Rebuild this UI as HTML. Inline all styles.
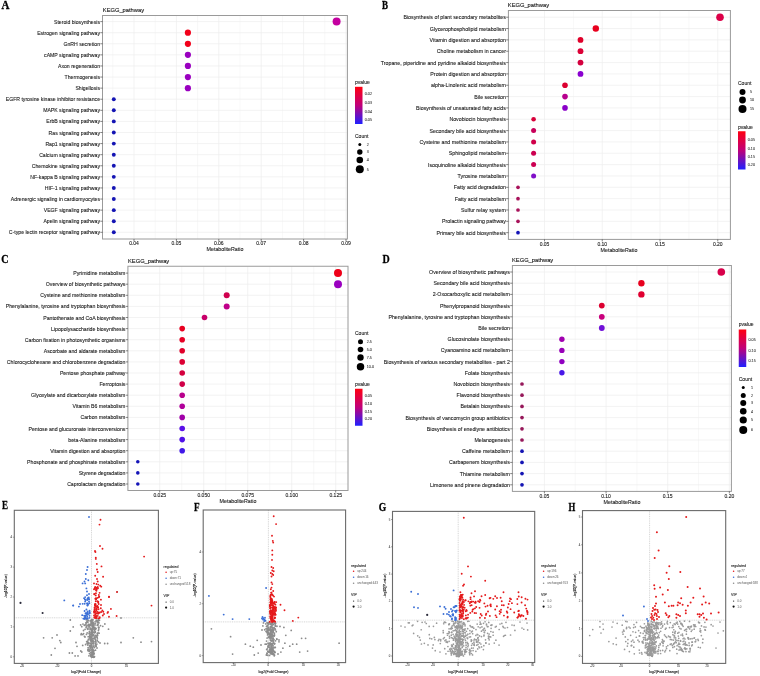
<!DOCTYPE html>
<html><head><meta charset="utf-8"><style>
html,body{margin:0;padding:0;background:#fff;width:760px;height:676px;overflow:hidden}
svg{display:block;font-family:"Liberation Sans", sans-serif;will-change:transform}
</style></head><body>
<svg width="760" height="676" viewBox="0 0 760 676">
<rect width="760" height="676" fill="#fff"/>
<line x1="134.00" y1="15.50" x2="134.00" y2="239.00" stroke="#eeeeee" stroke-width="0.7" />
<line x1="176.40" y1="15.50" x2="176.40" y2="239.00" stroke="#eeeeee" stroke-width="0.7" />
<line x1="218.80" y1="15.50" x2="218.80" y2="239.00" stroke="#eeeeee" stroke-width="0.7" />
<line x1="261.20" y1="15.50" x2="261.20" y2="239.00" stroke="#eeeeee" stroke-width="0.7" />
<line x1="303.60" y1="15.50" x2="303.60" y2="239.00" stroke="#eeeeee" stroke-width="0.7" />
<line x1="346.00" y1="15.50" x2="346.00" y2="239.00" stroke="#eeeeee" stroke-width="0.7" />
<line x1="112.80" y1="15.50" x2="112.80" y2="239.00" stroke="#f0f0f0" stroke-width="0.5" />
<line x1="155.20" y1="15.50" x2="155.20" y2="239.00" stroke="#f0f0f0" stroke-width="0.5" />
<line x1="197.60" y1="15.50" x2="197.60" y2="239.00" stroke="#f0f0f0" stroke-width="0.5" />
<line x1="240.00" y1="15.50" x2="240.00" y2="239.00" stroke="#f0f0f0" stroke-width="0.5" />
<line x1="282.40" y1="15.50" x2="282.40" y2="239.00" stroke="#f0f0f0" stroke-width="0.5" />
<line x1="324.80" y1="15.50" x2="324.80" y2="239.00" stroke="#f0f0f0" stroke-width="0.5" />
<line x1="102.50" y1="21.60" x2="347.40" y2="21.60" stroke="#eeeeee" stroke-width="0.7" />
<line x1="102.50" y1="32.69" x2="347.40" y2="32.69" stroke="#eeeeee" stroke-width="0.7" />
<line x1="102.50" y1="43.78" x2="347.40" y2="43.78" stroke="#eeeeee" stroke-width="0.7" />
<line x1="102.50" y1="54.87" x2="347.40" y2="54.87" stroke="#eeeeee" stroke-width="0.7" />
<line x1="102.50" y1="65.96" x2="347.40" y2="65.96" stroke="#eeeeee" stroke-width="0.7" />
<line x1="102.50" y1="77.05" x2="347.40" y2="77.05" stroke="#eeeeee" stroke-width="0.7" />
<line x1="102.50" y1="88.14" x2="347.40" y2="88.14" stroke="#eeeeee" stroke-width="0.7" />
<line x1="102.50" y1="99.23" x2="347.40" y2="99.23" stroke="#eeeeee" stroke-width="0.7" />
<line x1="102.50" y1="110.32" x2="347.40" y2="110.32" stroke="#eeeeee" stroke-width="0.7" />
<line x1="102.50" y1="121.41" x2="347.40" y2="121.41" stroke="#eeeeee" stroke-width="0.7" />
<line x1="102.50" y1="132.50" x2="347.40" y2="132.50" stroke="#eeeeee" stroke-width="0.7" />
<line x1="102.50" y1="143.59" x2="347.40" y2="143.59" stroke="#eeeeee" stroke-width="0.7" />
<line x1="102.50" y1="154.68" x2="347.40" y2="154.68" stroke="#eeeeee" stroke-width="0.7" />
<line x1="102.50" y1="165.77" x2="347.40" y2="165.77" stroke="#eeeeee" stroke-width="0.7" />
<line x1="102.50" y1="176.86" x2="347.40" y2="176.86" stroke="#eeeeee" stroke-width="0.7" />
<line x1="102.50" y1="187.95" x2="347.40" y2="187.95" stroke="#eeeeee" stroke-width="0.7" />
<line x1="102.50" y1="199.04" x2="347.40" y2="199.04" stroke="#eeeeee" stroke-width="0.7" />
<line x1="102.50" y1="210.13" x2="347.40" y2="210.13" stroke="#eeeeee" stroke-width="0.7" />
<line x1="102.50" y1="221.22" x2="347.40" y2="221.22" stroke="#eeeeee" stroke-width="0.7" />
<line x1="102.50" y1="232.31" x2="347.40" y2="232.31" stroke="#eeeeee" stroke-width="0.7" />
<rect x="102.50" y="15.50" width="244.90" height="223.50" fill="none" stroke="#9a9a9a" stroke-width="1" />
<text x="100.00" y="23.60" font-size="5.15" text-anchor="end" fill="#1c1c1c" stroke="#1c1c1c" stroke-width="0.1">Steroid biosynthesis</text>
<line x1="100.30" y1="21.60" x2="102.50" y2="21.60" stroke="#333" stroke-width="0.6" />
<circle cx="336.60" cy="21.60" r="4.00" fill="#c400a0"/>
<text x="100.00" y="34.69" font-size="5.15" text-anchor="end" fill="#1c1c1c" stroke="#1c1c1c" stroke-width="0.1">Estrogen signaling pathway</text>
<line x1="100.30" y1="32.69" x2="102.50" y2="32.69" stroke="#333" stroke-width="0.6" />
<circle cx="187.90" cy="32.69" r="3.10" fill="#f2001a"/>
<text x="100.00" y="45.78" font-size="5.15" text-anchor="end" fill="#1c1c1c" stroke="#1c1c1c" stroke-width="0.1">GnRH secretion</text>
<line x1="100.30" y1="43.78" x2="102.50" y2="43.78" stroke="#333" stroke-width="0.6" />
<circle cx="187.90" cy="43.78" r="3.10" fill="#f2001a"/>
<text x="100.00" y="56.87" font-size="5.15" text-anchor="end" fill="#1c1c1c" stroke="#1c1c1c" stroke-width="0.1">cAMP signaling pathway</text>
<line x1="100.30" y1="54.87" x2="102.50" y2="54.87" stroke="#333" stroke-width="0.6" />
<circle cx="187.90" cy="54.87" r="3.10" fill="#9a00c0"/>
<text x="100.00" y="67.96" font-size="5.15" text-anchor="end" fill="#1c1c1c" stroke="#1c1c1c" stroke-width="0.1">Axon regeneration</text>
<line x1="100.30" y1="65.96" x2="102.50" y2="65.96" stroke="#333" stroke-width="0.6" />
<circle cx="187.90" cy="65.96" r="3.10" fill="#9a00c0"/>
<text x="100.00" y="79.05" font-size="5.15" text-anchor="end" fill="#1c1c1c" stroke="#1c1c1c" stroke-width="0.1">Thermogenesis</text>
<line x1="100.30" y1="77.05" x2="102.50" y2="77.05" stroke="#333" stroke-width="0.6" />
<circle cx="187.90" cy="77.05" r="3.10" fill="#9a00c0"/>
<text x="100.00" y="90.14" font-size="5.15" text-anchor="end" fill="#1c1c1c" stroke="#1c1c1c" stroke-width="0.1">Shigellosis</text>
<line x1="100.30" y1="88.14" x2="102.50" y2="88.14" stroke="#333" stroke-width="0.6" />
<circle cx="187.90" cy="88.14" r="3.10" fill="#9a00c0"/>
<text x="100.00" y="101.23" font-size="5.15" text-anchor="end" fill="#1c1c1c" stroke="#1c1c1c" stroke-width="0.1">EGFR tyrosine kinase inhibitor resistance</text>
<line x1="100.30" y1="99.23" x2="102.50" y2="99.23" stroke="#333" stroke-width="0.6" />
<circle cx="113.80" cy="99.23" r="1.95" fill="#1414b4"/>
<text x="100.00" y="112.32" font-size="5.15" text-anchor="end" fill="#1c1c1c" stroke="#1c1c1c" stroke-width="0.1">MAPK signaling pathway</text>
<line x1="100.30" y1="110.32" x2="102.50" y2="110.32" stroke="#333" stroke-width="0.6" />
<circle cx="113.80" cy="110.32" r="1.95" fill="#1414b4"/>
<text x="100.00" y="123.41" font-size="5.15" text-anchor="end" fill="#1c1c1c" stroke="#1c1c1c" stroke-width="0.1">ErbB signaling pathway</text>
<line x1="100.30" y1="121.41" x2="102.50" y2="121.41" stroke="#333" stroke-width="0.6" />
<circle cx="113.80" cy="121.41" r="1.95" fill="#1414b4"/>
<text x="100.00" y="134.50" font-size="5.15" text-anchor="end" fill="#1c1c1c" stroke="#1c1c1c" stroke-width="0.1">Ras signaling pathway</text>
<line x1="100.30" y1="132.50" x2="102.50" y2="132.50" stroke="#333" stroke-width="0.6" />
<circle cx="113.80" cy="132.50" r="1.95" fill="#1414b4"/>
<text x="100.00" y="145.59" font-size="5.15" text-anchor="end" fill="#1c1c1c" stroke="#1c1c1c" stroke-width="0.1">Rap1 signaling pathway</text>
<line x1="100.30" y1="143.59" x2="102.50" y2="143.59" stroke="#333" stroke-width="0.6" />
<circle cx="113.80" cy="143.59" r="1.95" fill="#1414b4"/>
<text x="100.00" y="156.68" font-size="5.15" text-anchor="end" fill="#1c1c1c" stroke="#1c1c1c" stroke-width="0.1">Calcium signaling pathway</text>
<line x1="100.30" y1="154.68" x2="102.50" y2="154.68" stroke="#333" stroke-width="0.6" />
<circle cx="113.80" cy="154.68" r="1.95" fill="#1414b4"/>
<text x="100.00" y="167.77" font-size="5.15" text-anchor="end" fill="#1c1c1c" stroke="#1c1c1c" stroke-width="0.1">Chemokine signaling pathway</text>
<line x1="100.30" y1="165.77" x2="102.50" y2="165.77" stroke="#333" stroke-width="0.6" />
<circle cx="113.80" cy="165.77" r="1.95" fill="#1414b4"/>
<text x="100.00" y="178.86" font-size="5.15" text-anchor="end" fill="#1c1c1c" stroke="#1c1c1c" stroke-width="0.1">NF-kappa B signaling pathway</text>
<line x1="100.30" y1="176.86" x2="102.50" y2="176.86" stroke="#333" stroke-width="0.6" />
<circle cx="113.80" cy="176.86" r="1.95" fill="#1414b4"/>
<text x="100.00" y="189.95" font-size="5.15" text-anchor="end" fill="#1c1c1c" stroke="#1c1c1c" stroke-width="0.1">HIF-1 signaling pathway</text>
<line x1="100.30" y1="187.95" x2="102.50" y2="187.95" stroke="#333" stroke-width="0.6" />
<circle cx="113.80" cy="187.95" r="1.95" fill="#1414b4"/>
<text x="100.00" y="201.04" font-size="5.15" text-anchor="end" fill="#1c1c1c" stroke="#1c1c1c" stroke-width="0.1">Adrenergic signaling in cardiomyocytes</text>
<line x1="100.30" y1="199.04" x2="102.50" y2="199.04" stroke="#333" stroke-width="0.6" />
<circle cx="113.80" cy="199.04" r="1.95" fill="#1414b4"/>
<text x="100.00" y="212.13" font-size="5.15" text-anchor="end" fill="#1c1c1c" stroke="#1c1c1c" stroke-width="0.1">VEGF signaling pathway</text>
<line x1="100.30" y1="210.13" x2="102.50" y2="210.13" stroke="#333" stroke-width="0.6" />
<circle cx="113.80" cy="210.13" r="1.95" fill="#1414b4"/>
<text x="100.00" y="223.22" font-size="5.15" text-anchor="end" fill="#1c1c1c" stroke="#1c1c1c" stroke-width="0.1">Apelin signaling pathway</text>
<line x1="100.30" y1="221.22" x2="102.50" y2="221.22" stroke="#333" stroke-width="0.6" />
<circle cx="113.80" cy="221.22" r="1.95" fill="#1414b4"/>
<text x="100.00" y="234.31" font-size="5.15" text-anchor="end" fill="#1c1c1c" stroke="#1c1c1c" stroke-width="0.1">C-type lectin receptor signaling pathway</text>
<line x1="100.30" y1="232.31" x2="102.50" y2="232.31" stroke="#333" stroke-width="0.6" />
<circle cx="113.80" cy="232.31" r="1.95" fill="#1414b4"/>
<line x1="134.00" y1="239.00" x2="134.00" y2="241.00" stroke="#333" stroke-width="0.6" />
<text x="134.00" y="244.60" font-size="5" text-anchor="middle" fill="#1a1a1a"  stroke="#1a1a1a" stroke-width="0.1">0.04</text>
<line x1="176.40" y1="239.00" x2="176.40" y2="241.00" stroke="#333" stroke-width="0.6" />
<text x="176.40" y="244.60" font-size="5" text-anchor="middle" fill="#1a1a1a"  stroke="#1a1a1a" stroke-width="0.1">0.05</text>
<line x1="218.80" y1="239.00" x2="218.80" y2="241.00" stroke="#333" stroke-width="0.6" />
<text x="218.80" y="244.60" font-size="5" text-anchor="middle" fill="#1a1a1a"  stroke="#1a1a1a" stroke-width="0.1">0.06</text>
<line x1="261.20" y1="239.00" x2="261.20" y2="241.00" stroke="#333" stroke-width="0.6" />
<text x="261.20" y="244.60" font-size="5" text-anchor="middle" fill="#1a1a1a"  stroke="#1a1a1a" stroke-width="0.1">0.07</text>
<line x1="303.60" y1="239.00" x2="303.60" y2="241.00" stroke="#333" stroke-width="0.6" />
<text x="303.60" y="244.60" font-size="5" text-anchor="middle" fill="#1a1a1a"  stroke="#1a1a1a" stroke-width="0.1">0.08</text>
<line x1="346.00" y1="239.00" x2="346.00" y2="241.00" stroke="#333" stroke-width="0.6" />
<text x="346.00" y="244.60" font-size="5" text-anchor="middle" fill="#1a1a1a"  stroke="#1a1a1a" stroke-width="0.1">0.09</text>
<text x="225.00" y="251.30" font-size="5.3" text-anchor="middle" fill="#1a1a1a"  stroke="#1a1a1a" stroke-width="0.1">MetaboliteRatio</text>
<text x="102.80" y="12.00" font-size="5.75" text-anchor="start" fill="#111"  stroke="#111" stroke-width="0.1">KEGG_pathway</text>
<text x="1.6" y="8.9" font-family="Liberation Serif, serif" font-weight="bold" font-size="11.6" fill="#000" stroke="#000" stroke-width="0.3" textLength="7.9" lengthAdjust="spacingAndGlyphs">A</text>
<text x="355.00" y="84.20" font-size="5" text-anchor="start" fill="#1a1a1a"  stroke="#1a1a1a" stroke-width="0.1">pvalue</text>
<defs><linearGradient id="g1" x1="0" y1="0" x2="0" y2="1"><stop offset="0" stop-color="#ff0010"/><stop offset="0.5" stop-color="#c0007a"/><stop offset="1" stop-color="#2020ff"/></linearGradient></defs>
<rect x="355.00" y="86.80" width="7.50" height="37.20" fill="url(#g1)" stroke="none" stroke-width="1" />
<text x="364.80" y="95.30" font-size="3.7" text-anchor="start" fill="#333"  stroke="#333" stroke-width="0.07">0.02</text>
<text x="364.80" y="104.10" font-size="3.7" text-anchor="start" fill="#333"  stroke="#333" stroke-width="0.07">0.03</text>
<text x="364.80" y="112.80" font-size="3.7" text-anchor="start" fill="#333"  stroke="#333" stroke-width="0.07">0.04</text>
<text x="364.80" y="120.60" font-size="3.7" text-anchor="start" fill="#333"  stroke="#333" stroke-width="0.07">0.05</text>
<text x="355.00" y="138.30" font-size="5" text-anchor="start" fill="#1a1a1a"  stroke="#1a1a1a" stroke-width="0.1">Count</text>
<circle cx="359.80" cy="144.50" r="1.50" fill="#000"/>
<text x="366.80" y="145.80" font-size="3.7" text-anchor="start" fill="#333"  stroke="#333" stroke-width="0.07">2</text>
<circle cx="359.80" cy="152.00" r="2.70" fill="#000"/>
<text x="366.80" y="153.30" font-size="3.7" text-anchor="start" fill="#333"  stroke="#333" stroke-width="0.07">3</text>
<circle cx="359.80" cy="160.00" r="3.30" fill="#000"/>
<text x="366.80" y="161.30" font-size="3.7" text-anchor="start" fill="#333"  stroke="#333" stroke-width="0.07">4</text>
<circle cx="359.80" cy="169.30" r="4.00" fill="#000"/>
<text x="366.80" y="170.60" font-size="3.7" text-anchor="start" fill="#333"  stroke="#333" stroke-width="0.07">5</text>
<line x1="544.50" y1="10.50" x2="544.50" y2="239.40" stroke="#eeeeee" stroke-width="0.7" />
<line x1="602.25" y1="10.50" x2="602.25" y2="239.40" stroke="#eeeeee" stroke-width="0.7" />
<line x1="660.00" y1="10.50" x2="660.00" y2="239.40" stroke="#eeeeee" stroke-width="0.7" />
<line x1="717.75" y1="10.50" x2="717.75" y2="239.40" stroke="#eeeeee" stroke-width="0.7" />
<line x1="573.38" y1="10.50" x2="573.38" y2="239.40" stroke="#f0f0f0" stroke-width="0.5" />
<line x1="631.12" y1="10.50" x2="631.12" y2="239.40" stroke="#f0f0f0" stroke-width="0.5" />
<line x1="688.88" y1="10.50" x2="688.88" y2="239.40" stroke="#f0f0f0" stroke-width="0.5" />
<line x1="508.40" y1="17.20" x2="730.40" y2="17.20" stroke="#eeeeee" stroke-width="0.7" />
<line x1="508.40" y1="28.54" x2="730.40" y2="28.54" stroke="#eeeeee" stroke-width="0.7" />
<line x1="508.40" y1="39.88" x2="730.40" y2="39.88" stroke="#eeeeee" stroke-width="0.7" />
<line x1="508.40" y1="51.22" x2="730.40" y2="51.22" stroke="#eeeeee" stroke-width="0.7" />
<line x1="508.40" y1="62.56" x2="730.40" y2="62.56" stroke="#eeeeee" stroke-width="0.7" />
<line x1="508.40" y1="73.90" x2="730.40" y2="73.90" stroke="#eeeeee" stroke-width="0.7" />
<line x1="508.40" y1="85.24" x2="730.40" y2="85.24" stroke="#eeeeee" stroke-width="0.7" />
<line x1="508.40" y1="96.58" x2="730.40" y2="96.58" stroke="#eeeeee" stroke-width="0.7" />
<line x1="508.40" y1="107.92" x2="730.40" y2="107.92" stroke="#eeeeee" stroke-width="0.7" />
<line x1="508.40" y1="119.26" x2="730.40" y2="119.26" stroke="#eeeeee" stroke-width="0.7" />
<line x1="508.40" y1="130.60" x2="730.40" y2="130.60" stroke="#eeeeee" stroke-width="0.7" />
<line x1="508.40" y1="141.94" x2="730.40" y2="141.94" stroke="#eeeeee" stroke-width="0.7" />
<line x1="508.40" y1="153.28" x2="730.40" y2="153.28" stroke="#eeeeee" stroke-width="0.7" />
<line x1="508.40" y1="164.62" x2="730.40" y2="164.62" stroke="#eeeeee" stroke-width="0.7" />
<line x1="508.40" y1="175.96" x2="730.40" y2="175.96" stroke="#eeeeee" stroke-width="0.7" />
<line x1="508.40" y1="187.30" x2="730.40" y2="187.30" stroke="#eeeeee" stroke-width="0.7" />
<line x1="508.40" y1="198.64" x2="730.40" y2="198.64" stroke="#eeeeee" stroke-width="0.7" />
<line x1="508.40" y1="209.98" x2="730.40" y2="209.98" stroke="#eeeeee" stroke-width="0.7" />
<line x1="508.40" y1="221.32" x2="730.40" y2="221.32" stroke="#eeeeee" stroke-width="0.7" />
<line x1="508.40" y1="232.66" x2="730.40" y2="232.66" stroke="#eeeeee" stroke-width="0.7" />
<rect x="508.40" y="10.50" width="222.00" height="228.90" fill="none" stroke="#9a9a9a" stroke-width="1" />
<text x="505.90" y="19.20" font-size="5.27" text-anchor="end" fill="#1c1c1c" stroke="#1c1c1c" stroke-width="0.1">Biosynthesis of plant secondary metabolites</text>
<line x1="506.20" y1="17.20" x2="508.40" y2="17.20" stroke="#333" stroke-width="0.6" />
<circle cx="720.00" cy="17.20" r="3.80" fill="#dc0048"/>
<text x="505.90" y="30.54" font-size="5.27" text-anchor="end" fill="#1c1c1c" stroke="#1c1c1c" stroke-width="0.1">Glycerophospholipid metabolism</text>
<line x1="506.20" y1="28.54" x2="508.40" y2="28.54" stroke="#333" stroke-width="0.6" />
<circle cx="595.80" cy="28.54" r="3.20" fill="#e8001e"/>
<text x="505.90" y="41.88" font-size="5.27" text-anchor="end" fill="#1c1c1c" stroke="#1c1c1c" stroke-width="0.1">Vitamin digestion and absorption</text>
<line x1="506.20" y1="39.88" x2="508.40" y2="39.88" stroke="#333" stroke-width="0.6" />
<circle cx="580.50" cy="39.88" r="2.90" fill="#e0002a"/>
<text x="505.90" y="53.22" font-size="5.27" text-anchor="end" fill="#1c1c1c" stroke="#1c1c1c" stroke-width="0.1">Choline metabolism in cancer</text>
<line x1="506.20" y1="51.22" x2="508.40" y2="51.22" stroke="#333" stroke-width="0.6" />
<circle cx="580.50" cy="51.22" r="2.90" fill="#dc0036"/>
<text x="505.90" y="64.56" font-size="5.27" text-anchor="end" fill="#1c1c1c" stroke="#1c1c1c" stroke-width="0.1">Tropane, piperidine and pyridine alkaloid biosynthesis</text>
<line x1="506.20" y1="62.56" x2="508.40" y2="62.56" stroke="#333" stroke-width="0.6" />
<circle cx="580.50" cy="62.56" r="2.90" fill="#d4003e"/>
<text x="505.90" y="75.90" font-size="5.27" text-anchor="end" fill="#1c1c1c" stroke="#1c1c1c" stroke-width="0.1">Protein digestion and absorption</text>
<line x1="506.20" y1="73.90" x2="508.40" y2="73.90" stroke="#333" stroke-width="0.6" />
<circle cx="580.50" cy="73.90" r="2.90" fill="#8a00d0"/>
<text x="505.90" y="87.24" font-size="5.27" text-anchor="end" fill="#1c1c1c" stroke="#1c1c1c" stroke-width="0.1">alpha-Linolenic acid metabolism</text>
<line x1="506.20" y1="85.24" x2="508.40" y2="85.24" stroke="#333" stroke-width="0.6" />
<circle cx="565.00" cy="85.24" r="2.80" fill="#dc0030"/>
<text x="505.90" y="98.58" font-size="5.27" text-anchor="end" fill="#1c1c1c" stroke="#1c1c1c" stroke-width="0.1">Bile secretion</text>
<line x1="506.20" y1="96.58" x2="508.40" y2="96.58" stroke="#333" stroke-width="0.6" />
<circle cx="565.00" cy="96.58" r="2.80" fill="#b8008e"/>
<text x="505.90" y="109.92" font-size="5.27" text-anchor="end" fill="#1c1c1c" stroke="#1c1c1c" stroke-width="0.1">Biosynthesis of unsaturated fatty acids</text>
<line x1="506.20" y1="107.92" x2="508.40" y2="107.92" stroke="#333" stroke-width="0.6" />
<circle cx="565.00" cy="107.92" r="2.80" fill="#8a00c8"/>
<text x="505.90" y="121.26" font-size="5.27" text-anchor="end" fill="#1c1c1c" stroke="#1c1c1c" stroke-width="0.1">Novobiocin biosynthesis</text>
<line x1="506.20" y1="119.26" x2="508.40" y2="119.26" stroke="#333" stroke-width="0.6" />
<circle cx="533.60" cy="119.26" r="2.30" fill="#d8003a"/>
<text x="505.90" y="132.60" font-size="5.27" text-anchor="end" fill="#1c1c1c" stroke="#1c1c1c" stroke-width="0.1">Secondary bile acid biosynthesis</text>
<line x1="506.20" y1="130.60" x2="508.40" y2="130.60" stroke="#333" stroke-width="0.6" />
<circle cx="533.60" cy="130.60" r="2.50" fill="#c8005a"/>
<text x="505.90" y="143.94" font-size="5.27" text-anchor="end" fill="#1c1c1c" stroke="#1c1c1c" stroke-width="0.1">Cysteine and methionine metabolism</text>
<line x1="506.20" y1="141.94" x2="508.40" y2="141.94" stroke="#333" stroke-width="0.6" />
<circle cx="533.60" cy="141.94" r="2.50" fill="#d0004a"/>
<text x="505.90" y="155.28" font-size="5.27" text-anchor="end" fill="#1c1c1c" stroke="#1c1c1c" stroke-width="0.1">Sphingolipid metabolism</text>
<line x1="506.20" y1="153.28" x2="508.40" y2="153.28" stroke="#333" stroke-width="0.6" />
<circle cx="533.60" cy="153.28" r="2.50" fill="#cc0050"/>
<text x="505.90" y="166.62" font-size="5.27" text-anchor="end" fill="#1c1c1c" stroke="#1c1c1c" stroke-width="0.1">Isoquinoline alkaloid biosynthesis</text>
<line x1="506.20" y1="164.62" x2="508.40" y2="164.62" stroke="#333" stroke-width="0.6" />
<circle cx="533.60" cy="164.62" r="2.50" fill="#cc0052"/>
<text x="505.90" y="177.96" font-size="5.27" text-anchor="end" fill="#1c1c1c" stroke="#1c1c1c" stroke-width="0.1">Tyrosine metabolism</text>
<line x1="506.20" y1="175.96" x2="508.40" y2="175.96" stroke="#333" stroke-width="0.6" />
<circle cx="533.60" cy="175.96" r="2.50" fill="#8010c8"/>
<text x="505.90" y="189.30" font-size="5.27" text-anchor="end" fill="#1c1c1c" stroke="#1c1c1c" stroke-width="0.1">Fatty acid degradation</text>
<line x1="506.20" y1="187.30" x2="508.40" y2="187.30" stroke="#333" stroke-width="0.6" />
<circle cx="518.00" cy="187.30" r="1.85" fill="#a8125a"/>
<text x="505.90" y="200.64" font-size="5.27" text-anchor="end" fill="#1c1c1c" stroke="#1c1c1c" stroke-width="0.1">Fatty acid metabolism</text>
<line x1="506.20" y1="198.64" x2="508.40" y2="198.64" stroke="#333" stroke-width="0.6" />
<circle cx="518.00" cy="198.64" r="1.85" fill="#a8125a"/>
<text x="505.90" y="211.98" font-size="5.27" text-anchor="end" fill="#1c1c1c" stroke="#1c1c1c" stroke-width="0.1">Sulfur relay system</text>
<line x1="506.20" y1="209.98" x2="508.40" y2="209.98" stroke="#333" stroke-width="0.6" />
<circle cx="518.00" cy="209.98" r="1.85" fill="#a8125a"/>
<text x="505.90" y="223.32" font-size="5.27" text-anchor="end" fill="#1c1c1c" stroke="#1c1c1c" stroke-width="0.1">Prolactin signaling pathway</text>
<line x1="506.20" y1="221.32" x2="508.40" y2="221.32" stroke="#333" stroke-width="0.6" />
<circle cx="518.00" cy="221.32" r="1.85" fill="#a8125a"/>
<text x="505.90" y="234.66" font-size="5.27" text-anchor="end" fill="#1c1c1c" stroke="#1c1c1c" stroke-width="0.1">Primary bile acid biosynthesis</text>
<line x1="506.20" y1="232.66" x2="508.40" y2="232.66" stroke="#333" stroke-width="0.6" />
<circle cx="518.00" cy="232.66" r="1.85" fill="#1414b8"/>
<line x1="544.50" y1="239.40" x2="544.50" y2="241.40" stroke="#333" stroke-width="0.6" />
<text x="544.50" y="245.60" font-size="5" text-anchor="middle" fill="#1a1a1a"  stroke="#1a1a1a" stroke-width="0.1">0.05</text>
<line x1="602.25" y1="239.40" x2="602.25" y2="241.40" stroke="#333" stroke-width="0.6" />
<text x="602.25" y="245.60" font-size="5" text-anchor="middle" fill="#1a1a1a"  stroke="#1a1a1a" stroke-width="0.1">0.10</text>
<line x1="660.00" y1="239.40" x2="660.00" y2="241.40" stroke="#333" stroke-width="0.6" />
<text x="660.00" y="245.60" font-size="5" text-anchor="middle" fill="#1a1a1a"  stroke="#1a1a1a" stroke-width="0.1">0.15</text>
<line x1="717.75" y1="239.40" x2="717.75" y2="241.40" stroke="#333" stroke-width="0.6" />
<text x="717.75" y="245.60" font-size="5" text-anchor="middle" fill="#1a1a1a"  stroke="#1a1a1a" stroke-width="0.1">0.20</text>
<text x="619.00" y="252.40" font-size="5.3" text-anchor="middle" fill="#1a1a1a"  stroke="#1a1a1a" stroke-width="0.1">MetaboliteRatio</text>
<text x="507.80" y="7.10" font-size="5.75" text-anchor="start" fill="#111"  stroke="#111" stroke-width="0.1">KEGG_pathway</text>
<text x="382.0" y="8.5" font-family="Liberation Serif, serif" font-weight="bold" font-size="11.6" fill="#000" stroke="#000" stroke-width="0.3" textLength="6.0" lengthAdjust="spacingAndGlyphs">B</text>
<text x="738.00" y="84.80" font-size="5" text-anchor="start" fill="#1a1a1a"  stroke="#1a1a1a" stroke-width="0.1">Count</text>
<circle cx="742.50" cy="92.00" r="3.00" fill="#000"/>
<text x="750.00" y="93.30" font-size="3.7" text-anchor="start" fill="#333"  stroke="#333" stroke-width="0.07">5</text>
<circle cx="742.50" cy="100.00" r="3.40" fill="#000"/>
<text x="750.00" y="101.30" font-size="3.7" text-anchor="start" fill="#333"  stroke="#333" stroke-width="0.07">10</text>
<circle cx="742.50" cy="109.00" r="4.00" fill="#000"/>
<text x="750.00" y="110.30" font-size="3.7" text-anchor="start" fill="#333"  stroke="#333" stroke-width="0.07">15</text>
<text x="738.00" y="128.80" font-size="5" text-anchor="start" fill="#1a1a1a"  stroke="#1a1a1a" stroke-width="0.1">pvalue</text>
<defs><linearGradient id="g2" x1="0" y1="0" x2="0" y2="1"><stop offset="0" stop-color="#ff0010"/><stop offset="0.5" stop-color="#c0007a"/><stop offset="1" stop-color="#2020ff"/></linearGradient></defs>
<rect x="738.00" y="131.25" width="7.50" height="38.25" fill="url(#g2)" stroke="none" stroke-width="1" />
<text x="747.80" y="141.30" font-size="3.7" text-anchor="start" fill="#333"  stroke="#333" stroke-width="0.07">0.05</text>
<text x="747.80" y="149.55" font-size="3.7" text-anchor="start" fill="#333"  stroke="#333" stroke-width="0.07">0.10</text>
<text x="747.80" y="158.30" font-size="3.7" text-anchor="start" fill="#333"  stroke="#333" stroke-width="0.07">0.15</text>
<text x="747.80" y="166.30" font-size="3.7" text-anchor="start" fill="#333"  stroke="#333" stroke-width="0.07">0.20</text>
<line x1="159.70" y1="266.25" x2="159.70" y2="490.50" stroke="#eeeeee" stroke-width="0.7" />
<line x1="203.70" y1="266.25" x2="203.70" y2="490.50" stroke="#eeeeee" stroke-width="0.7" />
<line x1="247.70" y1="266.25" x2="247.70" y2="490.50" stroke="#eeeeee" stroke-width="0.7" />
<line x1="291.70" y1="266.25" x2="291.70" y2="490.50" stroke="#eeeeee" stroke-width="0.7" />
<line x1="335.70" y1="266.25" x2="335.70" y2="490.50" stroke="#eeeeee" stroke-width="0.7" />
<line x1="181.70" y1="266.25" x2="181.70" y2="490.50" stroke="#f0f0f0" stroke-width="0.5" />
<line x1="225.70" y1="266.25" x2="225.70" y2="490.50" stroke="#f0f0f0" stroke-width="0.5" />
<line x1="269.70" y1="266.25" x2="269.70" y2="490.50" stroke="#f0f0f0" stroke-width="0.5" />
<line x1="313.70" y1="266.25" x2="313.70" y2="490.50" stroke="#f0f0f0" stroke-width="0.5" />
<line x1="127.90" y1="273.10" x2="348.00" y2="273.10" stroke="#eeeeee" stroke-width="0.7" />
<line x1="127.90" y1="284.20" x2="348.00" y2="284.20" stroke="#eeeeee" stroke-width="0.7" />
<line x1="127.90" y1="295.30" x2="348.00" y2="295.30" stroke="#eeeeee" stroke-width="0.7" />
<line x1="127.90" y1="306.40" x2="348.00" y2="306.40" stroke="#eeeeee" stroke-width="0.7" />
<line x1="127.90" y1="317.50" x2="348.00" y2="317.50" stroke="#eeeeee" stroke-width="0.7" />
<line x1="127.90" y1="328.60" x2="348.00" y2="328.60" stroke="#eeeeee" stroke-width="0.7" />
<line x1="127.90" y1="339.70" x2="348.00" y2="339.70" stroke="#eeeeee" stroke-width="0.7" />
<line x1="127.90" y1="350.80" x2="348.00" y2="350.80" stroke="#eeeeee" stroke-width="0.7" />
<line x1="127.90" y1="361.90" x2="348.00" y2="361.90" stroke="#eeeeee" stroke-width="0.7" />
<line x1="127.90" y1="373.00" x2="348.00" y2="373.00" stroke="#eeeeee" stroke-width="0.7" />
<line x1="127.90" y1="384.10" x2="348.00" y2="384.10" stroke="#eeeeee" stroke-width="0.7" />
<line x1="127.90" y1="395.20" x2="348.00" y2="395.20" stroke="#eeeeee" stroke-width="0.7" />
<line x1="127.90" y1="406.30" x2="348.00" y2="406.30" stroke="#eeeeee" stroke-width="0.7" />
<line x1="127.90" y1="417.40" x2="348.00" y2="417.40" stroke="#eeeeee" stroke-width="0.7" />
<line x1="127.90" y1="428.50" x2="348.00" y2="428.50" stroke="#eeeeee" stroke-width="0.7" />
<line x1="127.90" y1="439.60" x2="348.00" y2="439.60" stroke="#eeeeee" stroke-width="0.7" />
<line x1="127.90" y1="450.70" x2="348.00" y2="450.70" stroke="#eeeeee" stroke-width="0.7" />
<line x1="127.90" y1="461.80" x2="348.00" y2="461.80" stroke="#eeeeee" stroke-width="0.7" />
<line x1="127.90" y1="472.90" x2="348.00" y2="472.90" stroke="#eeeeee" stroke-width="0.7" />
<line x1="127.90" y1="484.00" x2="348.00" y2="484.00" stroke="#eeeeee" stroke-width="0.7" />
<rect x="127.90" y="266.25" width="220.10" height="224.25" fill="none" stroke="#9a9a9a" stroke-width="1" />
<text x="125.40" y="275.10" font-size="5.2" text-anchor="end" fill="#1c1c1c" stroke="#1c1c1c" stroke-width="0.1">Pyrimidine metabolism</text>
<line x1="125.70" y1="273.10" x2="127.90" y2="273.10" stroke="#333" stroke-width="0.6" />
<circle cx="338.00" cy="273.10" r="4.00" fill="#ee0018"/>
<text x="125.40" y="286.20" font-size="5.2" text-anchor="end" fill="#1c1c1c" stroke="#1c1c1c" stroke-width="0.1">Overview of biosynthetic pathways</text>
<line x1="125.70" y1="284.20" x2="127.90" y2="284.20" stroke="#333" stroke-width="0.6" />
<circle cx="338.00" cy="284.20" r="4.00" fill="#9a00c0"/>
<text x="125.40" y="297.30" font-size="5.2" text-anchor="end" fill="#1c1c1c" stroke="#1c1c1c" stroke-width="0.1">Cysteine and methionine metabolism</text>
<line x1="125.70" y1="295.30" x2="127.90" y2="295.30" stroke="#333" stroke-width="0.6" />
<circle cx="226.70" cy="295.30" r="3.00" fill="#d0004e"/>
<text x="125.40" y="308.40" font-size="5.2" text-anchor="end" fill="#1c1c1c" stroke="#1c1c1c" stroke-width="0.1">Phenylalanine, tyrosine and tryptophan biosynthesis</text>
<line x1="125.70" y1="306.40" x2="127.90" y2="306.40" stroke="#333" stroke-width="0.6" />
<circle cx="226.70" cy="306.40" r="3.00" fill="#c0008a"/>
<text x="125.40" y="319.50" font-size="5.2" text-anchor="end" fill="#1c1c1c" stroke="#1c1c1c" stroke-width="0.1">Pantothenate and CoA biosynthesis</text>
<line x1="125.70" y1="317.50" x2="127.90" y2="317.50" stroke="#333" stroke-width="0.6" />
<circle cx="204.50" cy="317.50" r="2.80" fill="#c8006a"/>
<text x="125.40" y="330.60" font-size="5.2" text-anchor="end" fill="#1c1c1c" stroke="#1c1c1c" stroke-width="0.1">Lipopolysaccharide biosynthesis</text>
<line x1="125.70" y1="328.60" x2="127.90" y2="328.60" stroke="#333" stroke-width="0.6" />
<circle cx="182.20" cy="328.60" r="2.80" fill="#e80020"/>
<text x="125.40" y="341.70" font-size="5.2" text-anchor="end" fill="#1c1c1c" stroke="#1c1c1c" stroke-width="0.1">Carbon fixation in photosynthetic organisms</text>
<line x1="125.70" y1="339.70" x2="127.90" y2="339.70" stroke="#333" stroke-width="0.6" />
<circle cx="182.20" cy="339.70" r="2.80" fill="#e60024"/>
<text x="125.40" y="352.80" font-size="5.2" text-anchor="end" fill="#1c1c1c" stroke="#1c1c1c" stroke-width="0.1">Ascorbate and aldarate metabolism</text>
<line x1="125.70" y1="350.80" x2="127.90" y2="350.80" stroke="#333" stroke-width="0.6" />
<circle cx="182.20" cy="350.80" r="2.80" fill="#e0002a"/>
<text x="125.40" y="363.90" font-size="5.2" text-anchor="end" fill="#1c1c1c" stroke="#1c1c1c" stroke-width="0.1">Chlorocyclohexane and chlorobenzene degradation</text>
<line x1="125.70" y1="361.90" x2="127.90" y2="361.90" stroke="#333" stroke-width="0.6" />
<circle cx="182.20" cy="361.90" r="2.80" fill="#dc0034"/>
<text x="125.40" y="375.00" font-size="5.2" text-anchor="end" fill="#1c1c1c" stroke="#1c1c1c" stroke-width="0.1">Pentose phosphate pathway</text>
<line x1="125.70" y1="373.00" x2="127.90" y2="373.00" stroke="#333" stroke-width="0.6" />
<circle cx="182.20" cy="373.00" r="2.80" fill="#d4003e"/>
<text x="125.40" y="386.10" font-size="5.2" text-anchor="end" fill="#1c1c1c" stroke="#1c1c1c" stroke-width="0.1">Ferroptosis</text>
<line x1="125.70" y1="384.10" x2="127.90" y2="384.10" stroke="#333" stroke-width="0.6" />
<circle cx="182.20" cy="384.10" r="2.80" fill="#d00048"/>
<text x="125.40" y="397.20" font-size="5.2" text-anchor="end" fill="#1c1c1c" stroke="#1c1c1c" stroke-width="0.1">Glyoxylate and dicarboxylate metabolism</text>
<line x1="125.70" y1="395.20" x2="127.90" y2="395.20" stroke="#333" stroke-width="0.6" />
<circle cx="182.20" cy="395.20" r="2.80" fill="#b8008c"/>
<text x="125.40" y="408.30" font-size="5.2" text-anchor="end" fill="#1c1c1c" stroke="#1c1c1c" stroke-width="0.1">Vitamin B6 metabolism</text>
<line x1="125.70" y1="406.30" x2="127.90" y2="406.30" stroke="#333" stroke-width="0.6" />
<circle cx="182.20" cy="406.30" r="2.80" fill="#b0009a"/>
<text x="125.40" y="419.40" font-size="5.2" text-anchor="end" fill="#1c1c1c" stroke="#1c1c1c" stroke-width="0.1">Carbon metabolism</text>
<line x1="125.70" y1="417.40" x2="127.90" y2="417.40" stroke="#333" stroke-width="0.6" />
<circle cx="182.20" cy="417.40" r="2.80" fill="#a000a8"/>
<text x="125.40" y="430.50" font-size="5.2" text-anchor="end" fill="#1c1c1c" stroke="#1c1c1c" stroke-width="0.1">Pentose and glucuronate interconversions</text>
<line x1="125.70" y1="428.50" x2="127.90" y2="428.50" stroke="#333" stroke-width="0.6" />
<circle cx="182.20" cy="428.50" r="2.80" fill="#5a10e8"/>
<text x="125.40" y="441.60" font-size="5.2" text-anchor="end" fill="#1c1c1c" stroke="#1c1c1c" stroke-width="0.1">beta-Alanine metabolism</text>
<line x1="125.70" y1="439.60" x2="127.90" y2="439.60" stroke="#333" stroke-width="0.6" />
<circle cx="182.20" cy="439.60" r="2.80" fill="#5010e8"/>
<text x="125.40" y="452.70" font-size="5.2" text-anchor="end" fill="#1c1c1c" stroke="#1c1c1c" stroke-width="0.1">Vitamin digestion and absorption</text>
<line x1="125.70" y1="450.70" x2="127.90" y2="450.70" stroke="#333" stroke-width="0.6" />
<circle cx="182.20" cy="450.70" r="2.80" fill="#4018e8"/>
<text x="125.40" y="463.80" font-size="5.2" text-anchor="end" fill="#1c1c1c" stroke="#1c1c1c" stroke-width="0.1">Phosphonate and phosphinate metabolism</text>
<line x1="125.70" y1="461.80" x2="127.90" y2="461.80" stroke="#333" stroke-width="0.6" />
<circle cx="137.80" cy="461.80" r="1.80" fill="#1414b8"/>
<text x="125.40" y="474.90" font-size="5.2" text-anchor="end" fill="#1c1c1c" stroke="#1c1c1c" stroke-width="0.1">Styrene degradation</text>
<line x1="125.70" y1="472.90" x2="127.90" y2="472.90" stroke="#333" stroke-width="0.6" />
<circle cx="137.80" cy="472.90" r="1.80" fill="#1414b8"/>
<text x="125.40" y="486.00" font-size="5.2" text-anchor="end" fill="#1c1c1c" stroke="#1c1c1c" stroke-width="0.1">Caprolactam degradation</text>
<line x1="125.70" y1="484.00" x2="127.90" y2="484.00" stroke="#333" stroke-width="0.6" />
<circle cx="137.80" cy="484.00" r="1.80" fill="#1414b8"/>
<line x1="159.70" y1="490.50" x2="159.70" y2="492.50" stroke="#333" stroke-width="0.6" />
<text x="159.70" y="496.80" font-size="5" text-anchor="middle" fill="#1a1a1a"  stroke="#1a1a1a" stroke-width="0.1">0.025</text>
<line x1="203.70" y1="490.50" x2="203.70" y2="492.50" stroke="#333" stroke-width="0.6" />
<text x="203.70" y="496.80" font-size="5" text-anchor="middle" fill="#1a1a1a"  stroke="#1a1a1a" stroke-width="0.1">0.050</text>
<line x1="247.70" y1="490.50" x2="247.70" y2="492.50" stroke="#333" stroke-width="0.6" />
<text x="247.70" y="496.80" font-size="5" text-anchor="middle" fill="#1a1a1a"  stroke="#1a1a1a" stroke-width="0.1">0.075</text>
<line x1="291.70" y1="490.50" x2="291.70" y2="492.50" stroke="#333" stroke-width="0.6" />
<text x="291.70" y="496.80" font-size="5" text-anchor="middle" fill="#1a1a1a"  stroke="#1a1a1a" stroke-width="0.1">0.100</text>
<line x1="335.70" y1="490.50" x2="335.70" y2="492.50" stroke="#333" stroke-width="0.6" />
<text x="335.70" y="496.80" font-size="5" text-anchor="middle" fill="#1a1a1a"  stroke="#1a1a1a" stroke-width="0.1">0.125</text>
<text x="238.00" y="503.20" font-size="5.3" text-anchor="middle" fill="#1a1a1a"  stroke="#1a1a1a" stroke-width="0.1">MetaboliteRatio</text>
<text x="128.00" y="262.60" font-size="5.75" text-anchor="start" fill="#111"  stroke="#111" stroke-width="0.1">KEGG_pathway</text>
<text x="1.3" y="263.3" font-family="Liberation Serif, serif" font-weight="bold" font-size="11.6" fill="#000" stroke="#000" stroke-width="0.3" textLength="7.3" lengthAdjust="spacingAndGlyphs">C</text>
<text x="355.00" y="334.80" font-size="5" text-anchor="start" fill="#1a1a1a"  stroke="#1a1a1a" stroke-width="0.1">Count</text>
<circle cx="360.50" cy="341.75" r="2.50" fill="#000"/>
<text x="366.80" y="343.05" font-size="3.7" text-anchor="start" fill="#333"  stroke="#333" stroke-width="0.07">2.5</text>
<circle cx="360.50" cy="349.50" r="2.80" fill="#000"/>
<text x="366.80" y="350.80" font-size="3.7" text-anchor="start" fill="#333"  stroke="#333" stroke-width="0.07">5.0</text>
<circle cx="360.50" cy="357.50" r="3.20" fill="#000"/>
<text x="366.80" y="358.80" font-size="3.7" text-anchor="start" fill="#333"  stroke="#333" stroke-width="0.07">7.5</text>
<circle cx="360.50" cy="366.75" r="3.75" fill="#000"/>
<text x="366.80" y="368.05" font-size="3.7" text-anchor="start" fill="#333"  stroke="#333" stroke-width="0.07">10.0</text>
<text x="355.00" y="386.30" font-size="5" text-anchor="start" fill="#1a1a1a"  stroke="#1a1a1a" stroke-width="0.1">pvalue</text>
<defs><linearGradient id="g3" x1="0" y1="0" x2="0" y2="1"><stop offset="0" stop-color="#ff0010"/><stop offset="0.5" stop-color="#c0007a"/><stop offset="1" stop-color="#2020ff"/></linearGradient></defs>
<rect x="355.00" y="388.75" width="7.50" height="37.00" fill="url(#g3)" stroke="none" stroke-width="1" />
<text x="364.80" y="396.80" font-size="3.7" text-anchor="start" fill="#333"  stroke="#333" stroke-width="0.07">0.05</text>
<text x="364.80" y="405.30" font-size="3.7" text-anchor="start" fill="#333"  stroke="#333" stroke-width="0.07">0.10</text>
<text x="364.80" y="412.80" font-size="3.7" text-anchor="start" fill="#333"  stroke="#333" stroke-width="0.07">0.15</text>
<text x="364.80" y="420.30" font-size="3.7" text-anchor="start" fill="#333"  stroke="#333" stroke-width="0.07">0.20</text>
<line x1="544.40" y1="265.50" x2="544.40" y2="491.40" stroke="#eeeeee" stroke-width="0.7" />
<line x1="606.05" y1="265.50" x2="606.05" y2="491.40" stroke="#eeeeee" stroke-width="0.7" />
<line x1="667.70" y1="265.50" x2="667.70" y2="491.40" stroke="#eeeeee" stroke-width="0.7" />
<line x1="729.35" y1="265.50" x2="729.35" y2="491.40" stroke="#eeeeee" stroke-width="0.7" />
<line x1="575.23" y1="265.50" x2="575.23" y2="491.40" stroke="#f0f0f0" stroke-width="0.5" />
<line x1="636.88" y1="265.50" x2="636.88" y2="491.40" stroke="#f0f0f0" stroke-width="0.5" />
<line x1="698.52" y1="265.50" x2="698.52" y2="491.40" stroke="#f0f0f0" stroke-width="0.5" />
<line x1="512.40" y1="272.00" x2="731.40" y2="272.00" stroke="#eeeeee" stroke-width="0.7" />
<line x1="512.40" y1="283.20" x2="731.40" y2="283.20" stroke="#eeeeee" stroke-width="0.7" />
<line x1="512.40" y1="294.40" x2="731.40" y2="294.40" stroke="#eeeeee" stroke-width="0.7" />
<line x1="512.40" y1="305.60" x2="731.40" y2="305.60" stroke="#eeeeee" stroke-width="0.7" />
<line x1="512.40" y1="316.80" x2="731.40" y2="316.80" stroke="#eeeeee" stroke-width="0.7" />
<line x1="512.40" y1="328.00" x2="731.40" y2="328.00" stroke="#eeeeee" stroke-width="0.7" />
<line x1="512.40" y1="339.20" x2="731.40" y2="339.20" stroke="#eeeeee" stroke-width="0.7" />
<line x1="512.40" y1="350.40" x2="731.40" y2="350.40" stroke="#eeeeee" stroke-width="0.7" />
<line x1="512.40" y1="361.60" x2="731.40" y2="361.60" stroke="#eeeeee" stroke-width="0.7" />
<line x1="512.40" y1="372.80" x2="731.40" y2="372.80" stroke="#eeeeee" stroke-width="0.7" />
<line x1="512.40" y1="384.00" x2="731.40" y2="384.00" stroke="#eeeeee" stroke-width="0.7" />
<line x1="512.40" y1="395.20" x2="731.40" y2="395.20" stroke="#eeeeee" stroke-width="0.7" />
<line x1="512.40" y1="406.40" x2="731.40" y2="406.40" stroke="#eeeeee" stroke-width="0.7" />
<line x1="512.40" y1="417.60" x2="731.40" y2="417.60" stroke="#eeeeee" stroke-width="0.7" />
<line x1="512.40" y1="428.80" x2="731.40" y2="428.80" stroke="#eeeeee" stroke-width="0.7" />
<line x1="512.40" y1="440.00" x2="731.40" y2="440.00" stroke="#eeeeee" stroke-width="0.7" />
<line x1="512.40" y1="451.20" x2="731.40" y2="451.20" stroke="#eeeeee" stroke-width="0.7" />
<line x1="512.40" y1="462.40" x2="731.40" y2="462.40" stroke="#eeeeee" stroke-width="0.7" />
<line x1="512.40" y1="473.60" x2="731.40" y2="473.60" stroke="#eeeeee" stroke-width="0.7" />
<line x1="512.40" y1="484.80" x2="731.40" y2="484.80" stroke="#eeeeee" stroke-width="0.7" />
<rect x="512.40" y="265.50" width="219.00" height="225.90" fill="none" stroke="#9a9a9a" stroke-width="1" />
<text x="509.90" y="274.00" font-size="5.27" text-anchor="end" fill="#1c1c1c" stroke="#1c1c1c" stroke-width="0.1">Overview of biosynthetic pathways</text>
<line x1="510.20" y1="272.00" x2="512.40" y2="272.00" stroke="#333" stroke-width="0.6" />
<circle cx="721.30" cy="272.00" r="3.80" fill="#d8004a"/>
<text x="509.90" y="285.20" font-size="5.27" text-anchor="end" fill="#1c1c1c" stroke="#1c1c1c" stroke-width="0.1">Secondary bile acid biosynthesis</text>
<line x1="510.20" y1="283.20" x2="512.40" y2="283.20" stroke="#333" stroke-width="0.6" />
<circle cx="641.40" cy="283.20" r="3.20" fill="#e8001e"/>
<text x="509.90" y="296.40" font-size="5.27" text-anchor="end" fill="#1c1c1c" stroke="#1c1c1c" stroke-width="0.1">2-Oxocarboxylic acid metabolism</text>
<line x1="510.20" y1="294.40" x2="512.40" y2="294.40" stroke="#333" stroke-width="0.6" />
<circle cx="641.40" cy="294.40" r="3.20" fill="#e00030"/>
<text x="509.90" y="307.60" font-size="5.27" text-anchor="end" fill="#1c1c1c" stroke="#1c1c1c" stroke-width="0.1">Phenylpropanoid biosynthesis</text>
<line x1="510.20" y1="305.60" x2="512.40" y2="305.60" stroke="#333" stroke-width="0.6" />
<circle cx="601.80" cy="305.60" r="2.90" fill="#dc0030"/>
<text x="509.90" y="318.80" font-size="5.27" text-anchor="end" fill="#1c1c1c" stroke="#1c1c1c" stroke-width="0.1">Phenylalanine, tyrosine and tryptophan biosynthesis</text>
<line x1="510.20" y1="316.80" x2="512.40" y2="316.80" stroke="#333" stroke-width="0.6" />
<circle cx="601.80" cy="316.80" r="2.90" fill="#c8007c"/>
<text x="509.90" y="330.00" font-size="5.27" text-anchor="end" fill="#1c1c1c" stroke="#1c1c1c" stroke-width="0.1">Bile secretion</text>
<line x1="510.20" y1="328.00" x2="512.40" y2="328.00" stroke="#333" stroke-width="0.6" />
<circle cx="601.80" cy="328.00" r="2.90" fill="#7010d8"/>
<text x="509.90" y="341.20" font-size="5.27" text-anchor="end" fill="#1c1c1c" stroke="#1c1c1c" stroke-width="0.1">Glucosinolate biosynthesis</text>
<line x1="510.20" y1="339.20" x2="512.40" y2="339.20" stroke="#333" stroke-width="0.6" />
<circle cx="561.90" cy="339.20" r="2.70" fill="#a000b0"/>
<text x="509.90" y="352.40" font-size="5.27" text-anchor="end" fill="#1c1c1c" stroke="#1c1c1c" stroke-width="0.1">Cyanoamino acid metabolism</text>
<line x1="510.20" y1="350.40" x2="512.40" y2="350.40" stroke="#333" stroke-width="0.6" />
<circle cx="561.90" cy="350.40" r="2.70" fill="#9800b8"/>
<text x="509.90" y="363.60" font-size="5.27" text-anchor="end" fill="#1c1c1c" stroke="#1c1c1c" stroke-width="0.1">Biosynthesis of various secondary metabolites - part 2</text>
<line x1="510.20" y1="361.60" x2="512.40" y2="361.60" stroke="#333" stroke-width="0.6" />
<circle cx="561.90" cy="361.60" r="2.70" fill="#9000c0"/>
<text x="509.90" y="374.80" font-size="5.27" text-anchor="end" fill="#1c1c1c" stroke="#1c1c1c" stroke-width="0.1">Folate biosynthesis</text>
<line x1="510.20" y1="372.80" x2="512.40" y2="372.80" stroke="#333" stroke-width="0.6" />
<circle cx="561.90" cy="372.80" r="2.70" fill="#4818e8"/>
<text x="509.90" y="386.00" font-size="5.27" text-anchor="end" fill="#1c1c1c" stroke="#1c1c1c" stroke-width="0.1">Novobiocin biosynthesis</text>
<line x1="510.20" y1="384.00" x2="512.40" y2="384.00" stroke="#333" stroke-width="0.6" />
<circle cx="522.00" cy="384.00" r="1.85" fill="#96185a"/>
<text x="509.90" y="397.20" font-size="5.27" text-anchor="end" fill="#1c1c1c" stroke="#1c1c1c" stroke-width="0.1">Flavonoid biosynthesis</text>
<line x1="510.20" y1="395.20" x2="512.40" y2="395.20" stroke="#333" stroke-width="0.6" />
<circle cx="522.00" cy="395.20" r="1.85" fill="#96185a"/>
<text x="509.90" y="408.40" font-size="5.27" text-anchor="end" fill="#1c1c1c" stroke="#1c1c1c" stroke-width="0.1">Betalain biosynthesis</text>
<line x1="510.20" y1="406.40" x2="512.40" y2="406.40" stroke="#333" stroke-width="0.6" />
<circle cx="522.00" cy="406.40" r="1.85" fill="#96185a"/>
<text x="509.90" y="419.60" font-size="5.27" text-anchor="end" fill="#1c1c1c" stroke="#1c1c1c" stroke-width="0.1">Biosynthesis of vancomycin group antibiotics</text>
<line x1="510.20" y1="417.60" x2="512.40" y2="417.60" stroke="#333" stroke-width="0.6" />
<circle cx="522.00" cy="417.60" r="1.85" fill="#96185a"/>
<text x="509.90" y="430.80" font-size="5.27" text-anchor="end" fill="#1c1c1c" stroke="#1c1c1c" stroke-width="0.1">Biosynthesis of enediyne antibiotics</text>
<line x1="510.20" y1="428.80" x2="512.40" y2="428.80" stroke="#333" stroke-width="0.6" />
<circle cx="522.00" cy="428.80" r="1.85" fill="#96185a"/>
<text x="509.90" y="442.00" font-size="5.27" text-anchor="end" fill="#1c1c1c" stroke="#1c1c1c" stroke-width="0.1">Melanogenesis</text>
<line x1="510.20" y1="440.00" x2="512.40" y2="440.00" stroke="#333" stroke-width="0.6" />
<circle cx="522.00" cy="440.00" r="1.85" fill="#96185a"/>
<text x="509.90" y="453.20" font-size="5.27" text-anchor="end" fill="#1c1c1c" stroke="#1c1c1c" stroke-width="0.1">Caffeine metabolism</text>
<line x1="510.20" y1="451.20" x2="512.40" y2="451.20" stroke="#333" stroke-width="0.6" />
<circle cx="522.00" cy="451.20" r="1.85" fill="#1414b4"/>
<text x="509.90" y="464.40" font-size="5.27" text-anchor="end" fill="#1c1c1c" stroke="#1c1c1c" stroke-width="0.1">Carbapenem biosynthesis</text>
<line x1="510.20" y1="462.40" x2="512.40" y2="462.40" stroke="#333" stroke-width="0.6" />
<circle cx="522.00" cy="462.40" r="1.85" fill="#1414b4"/>
<text x="509.90" y="475.60" font-size="5.27" text-anchor="end" fill="#1c1c1c" stroke="#1c1c1c" stroke-width="0.1">Thiamine metabolism</text>
<line x1="510.20" y1="473.60" x2="512.40" y2="473.60" stroke="#333" stroke-width="0.6" />
<circle cx="522.00" cy="473.60" r="1.85" fill="#1414b4"/>
<text x="509.90" y="486.80" font-size="5.27" text-anchor="end" fill="#1c1c1c" stroke="#1c1c1c" stroke-width="0.1">Limonene and pinene degradation</text>
<line x1="510.20" y1="484.80" x2="512.40" y2="484.80" stroke="#333" stroke-width="0.6" />
<circle cx="522.00" cy="484.80" r="1.85" fill="#1414b4"/>
<line x1="544.40" y1="491.40" x2="544.40" y2="493.40" stroke="#333" stroke-width="0.6" />
<text x="544.40" y="497.80" font-size="5" text-anchor="middle" fill="#1a1a1a"  stroke="#1a1a1a" stroke-width="0.1">0.05</text>
<line x1="606.05" y1="491.40" x2="606.05" y2="493.40" stroke="#333" stroke-width="0.6" />
<text x="606.05" y="497.80" font-size="5" text-anchor="middle" fill="#1a1a1a"  stroke="#1a1a1a" stroke-width="0.1">0.10</text>
<line x1="667.70" y1="491.40" x2="667.70" y2="493.40" stroke="#333" stroke-width="0.6" />
<text x="667.70" y="497.80" font-size="5" text-anchor="middle" fill="#1a1a1a"  stroke="#1a1a1a" stroke-width="0.1">0.15</text>
<line x1="729.35" y1="491.40" x2="729.35" y2="493.40" stroke="#333" stroke-width="0.6" />
<text x="729.35" y="497.80" font-size="5" text-anchor="middle" fill="#1a1a1a"  stroke="#1a1a1a" stroke-width="0.1">0.20</text>
<text x="622.00" y="503.90" font-size="5.3" text-anchor="middle" fill="#1a1a1a"  stroke="#1a1a1a" stroke-width="0.1">MetaboliteRatio</text>
<text x="512.00" y="262.10" font-size="5.75" text-anchor="start" fill="#111"  stroke="#111" stroke-width="0.1">KEGG_pathway</text>
<text x="382.6" y="263.3" font-family="Liberation Serif, serif" font-weight="bold" font-size="11.6" fill="#000" stroke="#000" stroke-width="0.3" textLength="7.2" lengthAdjust="spacingAndGlyphs">D</text>
<text x="738.75" y="326.30" font-size="5" text-anchor="start" fill="#1a1a1a"  stroke="#1a1a1a" stroke-width="0.1">pvalue</text>
<defs><linearGradient id="g4" x1="0" y1="0" x2="0" y2="1"><stop offset="0" stop-color="#ff0010"/><stop offset="0.5" stop-color="#c0007a"/><stop offset="1" stop-color="#2020ff"/></linearGradient></defs>
<rect x="738.75" y="329.50" width="7.50" height="37.50" fill="url(#g4)" stroke="none" stroke-width="1" />
<text x="748.55" y="341.30" font-size="3.7" text-anchor="start" fill="#333"  stroke="#333" stroke-width="0.07">0.05</text>
<text x="748.55" y="351.80" font-size="3.7" text-anchor="start" fill="#333"  stroke="#333" stroke-width="0.07">0.10</text>
<text x="748.55" y="361.80" font-size="3.7" text-anchor="start" fill="#333"  stroke="#333" stroke-width="0.07">0.15</text>
<text x="738.75" y="381.30" font-size="5" text-anchor="start" fill="#1a1a1a"  stroke="#1a1a1a" stroke-width="0.1">Count</text>
<circle cx="743.25" cy="387.50" r="1.50" fill="#000"/>
<text x="751.00" y="388.80" font-size="3.7" text-anchor="start" fill="#333"  stroke="#333" stroke-width="0.07">1</text>
<circle cx="743.25" cy="395.50" r="2.50" fill="#000"/>
<text x="751.00" y="396.80" font-size="3.7" text-anchor="start" fill="#333"  stroke="#333" stroke-width="0.07">2</text>
<circle cx="743.25" cy="403.00" r="3.00" fill="#000"/>
<text x="751.00" y="404.30" font-size="3.7" text-anchor="start" fill="#333"  stroke="#333" stroke-width="0.07">3</text>
<circle cx="743.25" cy="411.25" r="3.30" fill="#000"/>
<text x="751.00" y="412.55" font-size="3.7" text-anchor="start" fill="#333"  stroke="#333" stroke-width="0.07">4</text>
<circle cx="743.25" cy="420.00" r="3.60" fill="#000"/>
<text x="751.00" y="421.30" font-size="3.7" text-anchor="start" fill="#333"  stroke="#333" stroke-width="0.07">5</text>
<circle cx="743.25" cy="430.00" r="4.00" fill="#000"/>
<text x="751.00" y="431.30" font-size="3.7" text-anchor="start" fill="#333"  stroke="#333" stroke-width="0.07">6</text>
<line x1="91.50" y1="510.30" x2="91.50" y2="663.40" stroke="#b8b8b8" stroke-width="0.6" stroke-dasharray="1,0.8"/>
<line x1="14.30" y1="617.80" x2="158.40" y2="617.80" stroke="#b8b8b8" stroke-width="0.6" stroke-dasharray="1,0.8"/>
<circle cx="95.31" cy="631.81" r="0.9" fill="#8c8c8c"/>
<circle cx="97.79" cy="622.25" r="0.9" fill="#8c8c8c"/>
<circle cx="91.30" cy="639.86" r="0.9" fill="#8c8c8c"/>
<circle cx="92.82" cy="638.78" r="0.9" fill="#8c8c8c"/>
<circle cx="90.24" cy="620.92" r="0.9" fill="#8c8c8c"/>
<circle cx="92.75" cy="622.95" r="0.9" fill="#8c8c8c"/>
<circle cx="92.84" cy="635.63" r="0.9" fill="#8c8c8c"/>
<circle cx="90.04" cy="627.98" r="0.9" fill="#8c8c8c"/>
<circle cx="95.34" cy="643.34" r="0.9" fill="#8c8c8c"/>
<circle cx="90.47" cy="634.57" r="0.9" fill="#8c8c8c"/>
<circle cx="94.45" cy="656.60" r="0.9" fill="#8c8c8c"/>
<circle cx="94.31" cy="630.51" r="0.9" fill="#8c8c8c"/>
<circle cx="94.93" cy="624.98" r="0.9" fill="#8c8c8c"/>
<circle cx="93.12" cy="650.51" r="0.9" fill="#8c8c8c"/>
<circle cx="86.43" cy="626.37" r="0.9" fill="#8c8c8c"/>
<circle cx="89.40" cy="633.65" r="0.9" fill="#8c8c8c"/>
<circle cx="92.97" cy="640.31" r="0.9" fill="#8c8c8c"/>
<circle cx="92.59" cy="627.33" r="0.9" fill="#8c8c8c"/>
<circle cx="90.07" cy="645.36" r="0.9" fill="#8c8c8c"/>
<circle cx="93.09" cy="641.75" r="0.9" fill="#8c8c8c"/>
<circle cx="90.15" cy="636.72" r="0.9" fill="#8c8c8c"/>
<circle cx="96.07" cy="646.06" r="0.9" fill="#8c8c8c"/>
<circle cx="87.40" cy="628.78" r="0.9" fill="#8c8c8c"/>
<circle cx="91.07" cy="652.76" r="0.9" fill="#8c8c8c"/>
<circle cx="90.49" cy="647.22" r="0.9" fill="#8c8c8c"/>
<circle cx="104.86" cy="623.99" r="0.9" fill="#8c8c8c"/>
<circle cx="92.09" cy="635.39" r="0.9" fill="#8c8c8c"/>
<circle cx="90.14" cy="638.08" r="0.9" fill="#8c8c8c"/>
<circle cx="87.78" cy="620.99" r="0.9" fill="#8c8c8c"/>
<circle cx="87.69" cy="641.27" r="0.9" fill="#8c8c8c"/>
<circle cx="90.98" cy="652.77" r="0.9" fill="#8c8c8c"/>
<circle cx="96.01" cy="642.09" r="0.9" fill="#8c8c8c"/>
<circle cx="86.69" cy="641.54" r="0.9" fill="#8c8c8c"/>
<circle cx="92.74" cy="655.40" r="0.9" fill="#8c8c8c"/>
<circle cx="91.40" cy="637.52" r="0.9" fill="#8c8c8c"/>
<circle cx="91.27" cy="646.16" r="0.9" fill="#8c8c8c"/>
<circle cx="96.85" cy="644.09" r="0.9" fill="#8c8c8c"/>
<circle cx="91.67" cy="630.31" r="0.9" fill="#8c8c8c"/>
<circle cx="91.62" cy="634.16" r="0.9" fill="#8c8c8c"/>
<circle cx="91.38" cy="637.04" r="0.9" fill="#8c8c8c"/>
<circle cx="93.17" cy="625.89" r="0.9" fill="#8c8c8c"/>
<circle cx="92.50" cy="648.69" r="0.9" fill="#8c8c8c"/>
<circle cx="92.07" cy="624.41" r="0.9" fill="#8c8c8c"/>
<circle cx="93.71" cy="652.61" r="0.9" fill="#8c8c8c"/>
<circle cx="86.15" cy="622.56" r="0.9" fill="#8c8c8c"/>
<circle cx="92.66" cy="653.07" r="0.9" fill="#8c8c8c"/>
<circle cx="93.02" cy="650.63" r="0.9" fill="#8c8c8c"/>
<circle cx="89.84" cy="635.28" r="0.9" fill="#8c8c8c"/>
<circle cx="99.07" cy="633.13" r="0.9" fill="#8c8c8c"/>
<circle cx="84.31" cy="625.23" r="0.9" fill="#8c8c8c"/>
<circle cx="92.37" cy="626.20" r="0.9" fill="#8c8c8c"/>
<circle cx="94.36" cy="637.93" r="0.9" fill="#8c8c8c"/>
<circle cx="91.98" cy="641.89" r="0.9" fill="#8c8c8c"/>
<circle cx="92.32" cy="635.42" r="0.9" fill="#8c8c8c"/>
<circle cx="83.58" cy="633.53" r="0.9" fill="#8c8c8c"/>
<circle cx="89.56" cy="645.74" r="0.9" fill="#8c8c8c"/>
<circle cx="88.52" cy="639.09" r="0.9" fill="#8c8c8c"/>
<circle cx="86.96" cy="621.55" r="0.9" fill="#8c8c8c"/>
<circle cx="92.61" cy="653.68" r="0.9" fill="#8c8c8c"/>
<circle cx="87.98" cy="649.82" r="0.9" fill="#8c8c8c"/>
<circle cx="90.63" cy="634.41" r="0.9" fill="#8c8c8c"/>
<circle cx="92.74" cy="643.60" r="0.9" fill="#8c8c8c"/>
<circle cx="95.09" cy="621.87" r="0.9" fill="#8c8c8c"/>
<circle cx="93.28" cy="625.67" r="0.9" fill="#8c8c8c"/>
<circle cx="92.08" cy="632.42" r="0.9" fill="#8c8c8c"/>
<circle cx="92.03" cy="625.25" r="0.9" fill="#8c8c8c"/>
<circle cx="91.29" cy="623.36" r="0.9" fill="#8c8c8c"/>
<circle cx="92.29" cy="652.72" r="0.9" fill="#8c8c8c"/>
<circle cx="93.25" cy="642.83" r="0.9" fill="#8c8c8c"/>
<circle cx="94.33" cy="632.70" r="0.9" fill="#8c8c8c"/>
<circle cx="97.22" cy="633.34" r="0.9" fill="#8c8c8c"/>
<circle cx="93.66" cy="657.24" r="0.9" fill="#8c8c8c"/>
<circle cx="90.59" cy="637.21" r="0.9" fill="#8c8c8c"/>
<circle cx="92.21" cy="623.38" r="0.9" fill="#8c8c8c"/>
<circle cx="91.33" cy="632.52" r="0.9" fill="#8c8c8c"/>
<circle cx="100.52" cy="625.63" r="0.9" fill="#8c8c8c"/>
<circle cx="97.97" cy="620.38" r="0.9" fill="#8c8c8c"/>
<circle cx="90.29" cy="625.07" r="0.9" fill="#8c8c8c"/>
<circle cx="95.66" cy="640.14" r="0.9" fill="#8c8c8c"/>
<circle cx="92.27" cy="656.68" r="0.9" fill="#8c8c8c"/>
<circle cx="91.55" cy="652.31" r="0.9" fill="#8c8c8c"/>
<circle cx="89.26" cy="633.43" r="0.9" fill="#8c8c8c"/>
<circle cx="92.77" cy="625.85" r="0.9" fill="#8c8c8c"/>
<circle cx="89.45" cy="649.10" r="0.9" fill="#8c8c8c"/>
<circle cx="93.20" cy="632.03" r="0.9" fill="#8c8c8c"/>
<circle cx="94.27" cy="656.93" r="0.9" fill="#8c8c8c"/>
<circle cx="93.14" cy="651.90" r="0.9" fill="#8c8c8c"/>
<circle cx="88.12" cy="647.62" r="0.9" fill="#8c8c8c"/>
<circle cx="88.00" cy="628.12" r="0.9" fill="#8c8c8c"/>
<circle cx="91.47" cy="620.60" r="0.9" fill="#8c8c8c"/>
<circle cx="91.28" cy="620.56" r="0.9" fill="#8c8c8c"/>
<circle cx="93.85" cy="645.82" r="0.9" fill="#8c8c8c"/>
<circle cx="88.95" cy="655.85" r="0.9" fill="#8c8c8c"/>
<circle cx="92.96" cy="657.05" r="0.9" fill="#8c8c8c"/>
<circle cx="91.36" cy="655.79" r="0.9" fill="#8c8c8c"/>
<circle cx="94.28" cy="628.12" r="0.9" fill="#8c8c8c"/>
<circle cx="93.75" cy="626.97" r="0.9" fill="#8c8c8c"/>
<circle cx="94.15" cy="653.71" r="0.9" fill="#8c8c8c"/>
<circle cx="89.35" cy="651.44" r="0.9" fill="#8c8c8c"/>
<circle cx="92.37" cy="649.89" r="0.9" fill="#8c8c8c"/>
<circle cx="86.32" cy="622.72" r="0.9" fill="#8c8c8c"/>
<circle cx="88.16" cy="649.23" r="0.9" fill="#8c8c8c"/>
<circle cx="90.63" cy="648.01" r="0.9" fill="#8c8c8c"/>
<circle cx="92.18" cy="649.49" r="0.9" fill="#8c8c8c"/>
<circle cx="95.24" cy="632.14" r="0.9" fill="#8c8c8c"/>
<circle cx="82.83" cy="634.54" r="0.9" fill="#8c8c8c"/>
<circle cx="97.45" cy="634.75" r="0.9" fill="#8c8c8c"/>
<circle cx="89.62" cy="625.96" r="0.9" fill="#8c8c8c"/>
<circle cx="97.92" cy="624.33" r="0.9" fill="#8c8c8c"/>
<circle cx="95.48" cy="650.15" r="0.9" fill="#8c8c8c"/>
<circle cx="97.98" cy="625.05" r="0.9" fill="#8c8c8c"/>
<circle cx="85.61" cy="644.48" r="0.9" fill="#8c8c8c"/>
<circle cx="90.08" cy="632.82" r="0.9" fill="#8c8c8c"/>
<circle cx="91.18" cy="620.04" r="0.9" fill="#8c8c8c"/>
<circle cx="91.05" cy="656.39" r="0.9" fill="#8c8c8c"/>
<circle cx="90.55" cy="654.98" r="0.9" fill="#8c8c8c"/>
<circle cx="96.49" cy="635.98" r="0.9" fill="#8c8c8c"/>
<circle cx="86.12" cy="627.52" r="0.9" fill="#8c8c8c"/>
<circle cx="91.17" cy="629.07" r="0.9" fill="#8c8c8c"/>
<circle cx="94.04" cy="641.78" r="0.9" fill="#8c8c8c"/>
<circle cx="90.07" cy="629.36" r="0.9" fill="#8c8c8c"/>
<circle cx="92.40" cy="654.08" r="0.9" fill="#8c8c8c"/>
<circle cx="87.16" cy="632.94" r="0.9" fill="#8c8c8c"/>
<circle cx="92.54" cy="653.86" r="0.9" fill="#8c8c8c"/>
<circle cx="95.61" cy="635.48" r="0.9" fill="#8c8c8c"/>
<circle cx="90.21" cy="639.71" r="0.9" fill="#8c8c8c"/>
<circle cx="95.32" cy="639.39" r="0.9" fill="#8c8c8c"/>
<circle cx="92.56" cy="626.46" r="0.9" fill="#8c8c8c"/>
<circle cx="92.97" cy="619.65" r="0.9" fill="#8c8c8c"/>
<circle cx="90.06" cy="637.49" r="0.9" fill="#8c8c8c"/>
<circle cx="90.08" cy="647.06" r="0.9" fill="#8c8c8c"/>
<circle cx="91.04" cy="639.20" r="0.9" fill="#8c8c8c"/>
<circle cx="92.30" cy="640.61" r="0.9" fill="#8c8c8c"/>
<circle cx="90.63" cy="640.79" r="0.9" fill="#8c8c8c"/>
<circle cx="90.78" cy="628.94" r="0.9" fill="#8c8c8c"/>
<circle cx="97.37" cy="638.79" r="0.9" fill="#8c8c8c"/>
<circle cx="92.41" cy="640.85" r="0.9" fill="#8c8c8c"/>
<circle cx="84.45" cy="636.34" r="0.9" fill="#8c8c8c"/>
<circle cx="88.71" cy="642.78" r="0.9" fill="#8c8c8c"/>
<circle cx="91.90" cy="645.82" r="0.9" fill="#8c8c8c"/>
<circle cx="88.22" cy="636.69" r="0.9" fill="#8c8c8c"/>
<circle cx="91.66" cy="655.28" r="0.9" fill="#8c8c8c"/>
<circle cx="96.10" cy="646.07" r="0.9" fill="#8c8c8c"/>
<circle cx="85.04" cy="629.36" r="0.9" fill="#8c8c8c"/>
<circle cx="97.31" cy="640.76" r="0.9" fill="#8c8c8c"/>
<circle cx="88.89" cy="624.71" r="0.9" fill="#8c8c8c"/>
<circle cx="90.29" cy="624.12" r="0.9" fill="#8c8c8c"/>
<circle cx="92.59" cy="628.64" r="0.9" fill="#8c8c8c"/>
<circle cx="87.84" cy="622.28" r="0.9" fill="#8c8c8c"/>
<circle cx="89.53" cy="653.59" r="0.9" fill="#8c8c8c"/>
<circle cx="90.58" cy="625.37" r="0.9" fill="#8c8c8c"/>
<circle cx="85.35" cy="624.93" r="0.9" fill="#8c8c8c"/>
<circle cx="93.15" cy="653.05" r="0.9" fill="#8c8c8c"/>
<circle cx="91.80" cy="655.70" r="0.9" fill="#8c8c8c"/>
<circle cx="81.10" cy="634.63" r="0.9" fill="#8c8c8c"/>
<circle cx="92.45" cy="651.13" r="0.9" fill="#8c8c8c"/>
<circle cx="87.02" cy="625.64" r="0.9" fill="#8c8c8c"/>
<circle cx="93.93" cy="632.39" r="0.9" fill="#8c8c8c"/>
<circle cx="89.05" cy="626.94" r="0.9" fill="#8c8c8c"/>
<circle cx="99.45" cy="620.24" r="0.9" fill="#8c8c8c"/>
<circle cx="91.47" cy="640.55" r="0.9" fill="#8c8c8c"/>
<circle cx="92.27" cy="632.10" r="0.9" fill="#8c8c8c"/>
<circle cx="91.02" cy="643.21" r="0.9" fill="#8c8c8c"/>
<circle cx="91.96" cy="656.93" r="0.9" fill="#8c8c8c"/>
<circle cx="92.95" cy="649.46" r="0.9" fill="#8c8c8c"/>
<circle cx="91.66" cy="629.59" r="0.9" fill="#8c8c8c"/>
<circle cx="92.73" cy="621.00" r="0.9" fill="#8c8c8c"/>
<circle cx="88.34" cy="624.42" r="0.9" fill="#8c8c8c"/>
<circle cx="97.51" cy="635.55" r="0.9" fill="#8c8c8c"/>
<circle cx="87.93" cy="629.33" r="0.9" fill="#8c8c8c"/>
<circle cx="97.23" cy="625.18" r="0.9" fill="#8c8c8c"/>
<circle cx="90.48" cy="646.12" r="0.9" fill="#8c8c8c"/>
<circle cx="98.91" cy="622.90" r="0.9" fill="#8c8c8c"/>
<circle cx="93.89" cy="635.66" r="0.9" fill="#8c8c8c"/>
<circle cx="98.45" cy="622.25" r="0.9" fill="#8c8c8c"/>
<circle cx="90.93" cy="649.96" r="0.9" fill="#8c8c8c"/>
<circle cx="93.12" cy="622.68" r="0.9" fill="#8c8c8c"/>
<circle cx="91.49" cy="652.29" r="0.9" fill="#8c8c8c"/>
<circle cx="89.72" cy="636.74" r="0.9" fill="#8c8c8c"/>
<circle cx="93.61" cy="654.71" r="0.9" fill="#8c8c8c"/>
<circle cx="95.48" cy="629.68" r="0.9" fill="#8c8c8c"/>
<circle cx="95.77" cy="628.56" r="0.9" fill="#8c8c8c"/>
<circle cx="92.81" cy="623.66" r="0.9" fill="#8c8c8c"/>
<circle cx="93.20" cy="627.17" r="0.9" fill="#8c8c8c"/>
<circle cx="89.74" cy="631.36" r="0.9" fill="#8c8c8c"/>
<circle cx="98.42" cy="630.52" r="0.9" fill="#8c8c8c"/>
<circle cx="93.29" cy="638.50" r="0.9" fill="#8c8c8c"/>
<circle cx="96.26" cy="620.19" r="0.9" fill="#8c8c8c"/>
<circle cx="98.79" cy="629.02" r="0.9" fill="#8c8c8c"/>
<circle cx="92.47" cy="640.44" r="0.9" fill="#8c8c8c"/>
<circle cx="81.75" cy="626.70" r="0.9" fill="#8c8c8c"/>
<circle cx="93.76" cy="623.54" r="0.9" fill="#8c8c8c"/>
<circle cx="89.95" cy="650.62" r="0.9" fill="#8c8c8c"/>
<circle cx="92.90" cy="651.22" r="0.9" fill="#8c8c8c"/>
<circle cx="86.47" cy="634.44" r="0.9" fill="#8c8c8c"/>
<circle cx="91.92" cy="656.83" r="0.9" fill="#8c8c8c"/>
<circle cx="94.96" cy="632.52" r="0.9" fill="#8c8c8c"/>
<circle cx="88.38" cy="643.67" r="0.9" fill="#8c8c8c"/>
<circle cx="91.31" cy="634.88" r="0.9" fill="#8c8c8c"/>
<circle cx="93.28" cy="624.43" r="0.9" fill="#8c8c8c"/>
<circle cx="91.78" cy="622.19" r="0.9" fill="#8c8c8c"/>
<circle cx="88.51" cy="625.70" r="0.9" fill="#8c8c8c"/>
<circle cx="97.33" cy="622.71" r="0.9" fill="#8c8c8c"/>
<circle cx="87.72" cy="644.98" r="0.9" fill="#8c8c8c"/>
<circle cx="92.17" cy="630.21" r="0.9" fill="#8c8c8c"/>
<circle cx="94.80" cy="636.96" r="0.9" fill="#8c8c8c"/>
<circle cx="88.63" cy="625.49" r="0.9" fill="#8c8c8c"/>
<circle cx="92.35" cy="656.05" r="0.9" fill="#8c8c8c"/>
<circle cx="91.06" cy="656.46" r="0.9" fill="#8c8c8c"/>
<circle cx="91.71" cy="656.20" r="0.9" fill="#8c8c8c"/>
<circle cx="91.89" cy="631.26" r="0.9" fill="#8c8c8c"/>
<circle cx="92.13" cy="634.00" r="0.9" fill="#8c8c8c"/>
<circle cx="89.79" cy="637.54" r="0.9" fill="#8c8c8c"/>
<circle cx="91.96" cy="638.68" r="0.9" fill="#8c8c8c"/>
<circle cx="91.80" cy="619.69" r="0.9" fill="#8c8c8c"/>
<circle cx="93.56" cy="634.68" r="0.9" fill="#8c8c8c"/>
<circle cx="96.24" cy="621.08" r="0.9" fill="#8c8c8c"/>
<circle cx="92.51" cy="628.35" r="0.9" fill="#8c8c8c"/>
<circle cx="87.32" cy="641.75" r="0.9" fill="#8c8c8c"/>
<circle cx="91.22" cy="644.49" r="0.9" fill="#8c8c8c"/>
<circle cx="93.68" cy="646.71" r="0.9" fill="#8c8c8c"/>
<circle cx="89.33" cy="631.89" r="0.9" fill="#8c8c8c"/>
<circle cx="93.20" cy="656.92" r="0.9" fill="#8c8c8c"/>
<circle cx="95.40" cy="643.94" r="0.9" fill="#8c8c8c"/>
<circle cx="97.41" cy="621.16" r="0.9" fill="#8c8c8c"/>
<circle cx="87.12" cy="643.34" r="0.9" fill="#8c8c8c"/>
<circle cx="92.47" cy="647.39" r="0.9" fill="#8c8c8c"/>
<circle cx="90.43" cy="639.40" r="0.9" fill="#8c8c8c"/>
<circle cx="94.93" cy="638.67" r="0.9" fill="#8c8c8c"/>
<circle cx="89.05" cy="650.90" r="0.9" fill="#8c8c8c"/>
<circle cx="95.39" cy="641.69" r="0.9" fill="#8c8c8c"/>
<circle cx="89.71" cy="645.85" r="0.9" fill="#8c8c8c"/>
<circle cx="94.24" cy="628.24" r="0.9" fill="#8c8c8c"/>
<circle cx="92.39" cy="633.21" r="0.9" fill="#8c8c8c"/>
<circle cx="95.14" cy="623.49" r="0.9" fill="#8c8c8c"/>
<circle cx="89.05" cy="643.36" r="0.9" fill="#8c8c8c"/>
<circle cx="90.68" cy="643.30" r="0.9" fill="#8c8c8c"/>
<circle cx="86.55" cy="619.63" r="0.9" fill="#8c8c8c"/>
<circle cx="91.97" cy="649.81" r="0.9" fill="#8c8c8c"/>
<circle cx="88.38" cy="639.84" r="0.9" fill="#8c8c8c"/>
<circle cx="95.83" cy="644.55" r="0.9" fill="#8c8c8c"/>
<circle cx="94.76" cy="629.08" r="0.9" fill="#8c8c8c"/>
<circle cx="91.23" cy="622.33" r="0.9" fill="#8c8c8c"/>
<circle cx="99.05" cy="627.30" r="0.9" fill="#8c8c8c"/>
<circle cx="94.58" cy="647.61" r="0.9" fill="#8c8c8c"/>
<circle cx="91.35" cy="634.04" r="0.9" fill="#8c8c8c"/>
<circle cx="89.73" cy="637.70" r="0.9" fill="#8c8c8c"/>
<circle cx="87.74" cy="642.95" r="0.9" fill="#8c8c8c"/>
<circle cx="93.31" cy="643.92" r="0.9" fill="#8c8c8c"/>
<circle cx="93.11" cy="629.15" r="0.9" fill="#8c8c8c"/>
<circle cx="91.03" cy="647.74" r="0.9" fill="#8c8c8c"/>
<circle cx="98.28" cy="619.97" r="0.9" fill="#8c8c8c"/>
<circle cx="91.13" cy="621.81" r="0.9" fill="#8c8c8c"/>
<circle cx="95.61" cy="645.80" r="0.9" fill="#8c8c8c"/>
<circle cx="91.24" cy="645.18" r="0.9" fill="#8c8c8c"/>
<circle cx="95.90" cy="637.16" r="0.9" fill="#8c8c8c"/>
<circle cx="97.19" cy="637.22" r="0.9" fill="#8c8c8c"/>
<circle cx="98.32" cy="627.07" r="0.9" fill="#8c8c8c"/>
<circle cx="92.22" cy="656.67" r="0.9" fill="#8c8c8c"/>
<circle cx="91.75" cy="636.94" r="0.9" fill="#8c8c8c"/>
<circle cx="94.06" cy="650.66" r="0.9" fill="#8c8c8c"/>
<circle cx="91.10" cy="629.71" r="0.9" fill="#8c8c8c"/>
<circle cx="94.83" cy="627.47" r="0.9" fill="#8c8c8c"/>
<circle cx="91.34" cy="641.60" r="0.9" fill="#8c8c8c"/>
<circle cx="80.68" cy="624.89" r="0.9" fill="#8c8c8c"/>
<circle cx="90.26" cy="624.54" r="0.9" fill="#8c8c8c"/>
<circle cx="88.00" cy="650.67" r="0.9" fill="#8c8c8c"/>
<circle cx="91.73" cy="646.23" r="0.9" fill="#8c8c8c"/>
<circle cx="95.95" cy="628.29" r="0.9" fill="#8c8c8c"/>
<circle cx="88.47" cy="620.44" r="0.9" fill="#8c8c8c"/>
<circle cx="86.33" cy="619.64" r="0.9" fill="#8c8c8c"/>
<circle cx="92.23" cy="630.97" r="0.9" fill="#8c8c8c"/>
<circle cx="89.75" cy="624.85" r="0.9" fill="#8c8c8c"/>
<circle cx="93.33" cy="651.43" r="0.9" fill="#8c8c8c"/>
<circle cx="92.05" cy="619.57" r="0.9" fill="#8c8c8c"/>
<circle cx="82.98" cy="624.06" r="0.9" fill="#8c8c8c"/>
<circle cx="91.26" cy="654.70" r="0.9" fill="#8c8c8c"/>
<circle cx="83.53" cy="630.51" r="0.9" fill="#8c8c8c"/>
<circle cx="81.36" cy="633.64" r="0.9" fill="#8c8c8c"/>
<circle cx="98.50" cy="641.89" r="0.9" fill="#8c8c8c"/>
<circle cx="70.30" cy="620.00" r="0.9" fill="#8c8c8c"/>
<circle cx="73.20" cy="626.90" r="0.9" fill="#8c8c8c"/>
<circle cx="70.30" cy="631.00" r="0.9" fill="#8c8c8c"/>
<circle cx="108.50" cy="629.20" r="0.9" fill="#8c8c8c"/>
<circle cx="102.80" cy="626.30" r="0.9" fill="#8c8c8c"/>
<circle cx="43.60" cy="637.80" r="0.9" fill="#8c8c8c"/>
<circle cx="52.20" cy="637.80" r="0.9" fill="#8c8c8c"/>
<circle cx="57.00" cy="635.00" r="0.9" fill="#8c8c8c"/>
<circle cx="59.80" cy="640.60" r="0.9" fill="#8c8c8c"/>
<circle cx="60.80" cy="642.50" r="0.9" fill="#8c8c8c"/>
<circle cx="133.30" cy="637.80" r="0.9" fill="#8c8c8c"/>
<circle cx="141.00" cy="642.20" r="0.9" fill="#8c8c8c"/>
<circle cx="151.50" cy="641.60" r="0.9" fill="#8c8c8c"/>
<circle cx="121.00" cy="642.50" r="0.9" fill="#8c8c8c"/>
<circle cx="104.70" cy="643.50" r="0.9" fill="#8c8c8c"/>
<circle cx="107.60" cy="643.50" r="0.9" fill="#8c8c8c"/>
<circle cx="100.00" cy="643.00" r="0.9" fill="#8c8c8c"/>
<circle cx="76.00" cy="642.50" r="0.9" fill="#8c8c8c"/>
<circle cx="77.00" cy="646.30" r="0.9" fill="#8c8c8c"/>
<circle cx="55.00" cy="648.30" r="0.9" fill="#8c8c8c"/>
<circle cx="51.30" cy="655.00" r="0.9" fill="#8c8c8c"/>
<circle cx="69.40" cy="653.00" r="0.9" fill="#8c8c8c"/>
<circle cx="72.30" cy="653.00" r="0.9" fill="#8c8c8c"/>
<circle cx="75.10" cy="655.90" r="0.9" fill="#8c8c8c"/>
<circle cx="78.00" cy="655.90" r="0.9" fill="#8c8c8c"/>
<circle cx="80.80" cy="651.00" r="0.9" fill="#8c8c8c"/>
<circle cx="81.80" cy="652.00" r="0.9" fill="#8c8c8c"/>
<circle cx="82.70" cy="645.40" r="0.9" fill="#8c8c8c"/>
<circle cx="117.20" cy="591.80" r="0.9" fill="#8c8c8c"/>
<circle cx="121.00" cy="618.00" r="0.9" fill="#8c8c8c"/>
<circle cx="98.00" cy="633.00" r="0.9" fill="#8c8c8c"/>
<circle cx="85.00" cy="637.00" r="0.9" fill="#8c8c8c"/>
<circle cx="97.00" cy="648.00" r="0.9" fill="#8c8c8c"/>
<circle cx="86.00" cy="624.00" r="0.9" fill="#8c8c8c"/>
<circle cx="89.00" cy="517.00" r="0.95" fill="#3b6fd6"/>
<circle cx="87.60" cy="567.00" r="0.95" fill="#3b6fd6"/>
<circle cx="87.00" cy="570.00" r="0.95" fill="#3b6fd6"/>
<circle cx="85.80" cy="574.00" r="0.95" fill="#3b6fd6"/>
<circle cx="85.80" cy="579.00" r="0.95" fill="#3b6fd6"/>
<circle cx="88.30" cy="580.20" r="0.95" fill="#3b6fd6"/>
<circle cx="84.50" cy="581.50" r="0.95" fill="#3b6fd6"/>
<circle cx="85.20" cy="583.40" r="0.95" fill="#3b6fd6"/>
<circle cx="82.60" cy="583.40" r="0.95" fill="#3b6fd6"/>
<circle cx="86.40" cy="588.40" r="0.95" fill="#3b6fd6"/>
<circle cx="87.00" cy="591.50" r="0.95" fill="#3b6fd6"/>
<circle cx="89.00" cy="594.00" r="0.95" fill="#3b6fd6"/>
<circle cx="87.00" cy="595.20" r="0.95" fill="#3b6fd6"/>
<circle cx="85.20" cy="597.10" r="0.95" fill="#3b6fd6"/>
<circle cx="89.00" cy="599.60" r="0.95" fill="#3b6fd6"/>
<circle cx="85.20" cy="601.50" r="0.95" fill="#3b6fd6"/>
<circle cx="73.20" cy="605.40" r="0.95" fill="#3b6fd6"/>
<circle cx="80.00" cy="604.00" r="0.95" fill="#3b6fd6"/>
<circle cx="78.90" cy="606.60" r="0.95" fill="#3b6fd6"/>
<circle cx="64.30" cy="600.40" r="0.95" fill="#3b6fd6"/>
<circle cx="73.20" cy="605.60" r="0.95" fill="#3b6fd6"/>
<circle cx="85.62" cy="600.04" r="0.95" fill="#3b6fd6"/>
<circle cx="82.65" cy="603.85" r="0.95" fill="#3b6fd6"/>
<circle cx="89.49" cy="613.20" r="0.95" fill="#3b6fd6"/>
<circle cx="85.03" cy="616.09" r="0.95" fill="#3b6fd6"/>
<circle cx="87.65" cy="618.65" r="0.95" fill="#3b6fd6"/>
<circle cx="87.50" cy="605.53" r="0.95" fill="#3b6fd6"/>
<circle cx="87.59" cy="613.15" r="0.95" fill="#3b6fd6"/>
<circle cx="87.17" cy="616.39" r="0.95" fill="#3b6fd6"/>
<circle cx="89.56" cy="612.73" r="0.95" fill="#3b6fd6"/>
<circle cx="84.08" cy="598.17" r="0.95" fill="#3b6fd6"/>
<circle cx="84.17" cy="615.67" r="0.95" fill="#3b6fd6"/>
<circle cx="87.18" cy="612.62" r="0.95" fill="#3b6fd6"/>
<circle cx="84.58" cy="610.95" r="0.95" fill="#3b6fd6"/>
<circle cx="86.74" cy="618.41" r="0.95" fill="#3b6fd6"/>
<circle cx="89.12" cy="599.11" r="0.95" fill="#3b6fd6"/>
<circle cx="85.39" cy="615.94" r="0.95" fill="#3b6fd6"/>
<circle cx="84.78" cy="618.67" r="0.95" fill="#3b6fd6"/>
<circle cx="87.66" cy="611.44" r="0.95" fill="#3b6fd6"/>
<circle cx="84.86" cy="618.53" r="0.95" fill="#3b6fd6"/>
<circle cx="83.37" cy="618.61" r="0.95" fill="#3b6fd6"/>
<circle cx="87.02" cy="614.69" r="0.95" fill="#3b6fd6"/>
<circle cx="87.41" cy="603.49" r="0.95" fill="#3b6fd6"/>
<circle cx="87.98" cy="614.38" r="0.95" fill="#3b6fd6"/>
<circle cx="87.86" cy="598.11" r="0.95" fill="#3b6fd6"/>
<circle cx="88.03" cy="604.25" r="0.95" fill="#3b6fd6"/>
<circle cx="89.56" cy="613.47" r="0.95" fill="#3b6fd6"/>
<circle cx="89.34" cy="603.28" r="0.95" fill="#3b6fd6"/>
<circle cx="84.81" cy="599.19" r="0.95" fill="#3b6fd6"/>
<circle cx="84.24" cy="618.75" r="0.95" fill="#3b6fd6"/>
<circle cx="82.17" cy="615.15" r="0.95" fill="#3b6fd6"/>
<circle cx="88.43" cy="598.21" r="0.95" fill="#3b6fd6"/>
<circle cx="89.58" cy="611.97" r="0.95" fill="#3b6fd6"/>
<circle cx="86.42" cy="609.57" r="0.95" fill="#3b6fd6"/>
<circle cx="87.39" cy="598.88" r="0.95" fill="#3b6fd6"/>
<circle cx="84.67" cy="603.71" r="0.95" fill="#3b6fd6"/>
<circle cx="89.01" cy="601.59" r="0.95" fill="#3b6fd6"/>
<circle cx="85.54" cy="613.23" r="0.95" fill="#3b6fd6"/>
<circle cx="86.21" cy="613.40" r="0.95" fill="#3b6fd6"/>
<circle cx="85.60" cy="617.95" r="0.95" fill="#3b6fd6"/>
<circle cx="89.56" cy="615.86" r="0.95" fill="#3b6fd6"/>
<circle cx="87.34" cy="618.18" r="0.95" fill="#3b6fd6"/>
<circle cx="87.08" cy="618.62" r="0.95" fill="#3b6fd6"/>
<circle cx="88.74" cy="597.52" r="0.95" fill="#3b6fd6"/>
<circle cx="87.25" cy="600.04" r="0.95" fill="#3b6fd6"/>
<circle cx="89.42" cy="617.87" r="0.95" fill="#3b6fd6"/>
<circle cx="84.88" cy="617.67" r="0.95" fill="#3b6fd6"/>
<circle cx="89.55" cy="610.63" r="0.95" fill="#3b6fd6"/>
<circle cx="85.98" cy="615.15" r="0.95" fill="#3b6fd6"/>
<circle cx="87.52" cy="605.29" r="0.95" fill="#3b6fd6"/>
<circle cx="87.06" cy="603.47" r="0.95" fill="#3b6fd6"/>
<circle cx="100.50" cy="519.70" r="0.95" fill="#e41a1c"/>
<circle cx="99.50" cy="524.60" r="0.95" fill="#e41a1c"/>
<circle cx="100.00" cy="546.00" r="0.95" fill="#e41a1c"/>
<circle cx="102.50" cy="548.80" r="0.95" fill="#e41a1c"/>
<circle cx="95.00" cy="551.00" r="0.95" fill="#e41a1c"/>
<circle cx="95.40" cy="552.00" r="0.95" fill="#e41a1c"/>
<circle cx="95.80" cy="557.60" r="0.95" fill="#e41a1c"/>
<circle cx="95.80" cy="558.90" r="0.95" fill="#e41a1c"/>
<circle cx="96.80" cy="563.90" r="0.95" fill="#e41a1c"/>
<circle cx="101.50" cy="566.40" r="0.95" fill="#e41a1c"/>
<circle cx="97.00" cy="569.50" r="0.95" fill="#e41a1c"/>
<circle cx="97.70" cy="572.00" r="0.95" fill="#e41a1c"/>
<circle cx="95.20" cy="575.80" r="0.95" fill="#e41a1c"/>
<circle cx="103.10" cy="576.80" r="0.95" fill="#e41a1c"/>
<circle cx="97.00" cy="579.00" r="0.95" fill="#e41a1c"/>
<circle cx="97.70" cy="581.50" r="0.95" fill="#e41a1c"/>
<circle cx="94.00" cy="583.40" r="0.95" fill="#e41a1c"/>
<circle cx="96.50" cy="584.00" r="0.95" fill="#e41a1c"/>
<circle cx="98.30" cy="584.60" r="0.95" fill="#e41a1c"/>
<circle cx="95.20" cy="587.00" r="0.95" fill="#e41a1c"/>
<circle cx="97.70" cy="587.00" r="0.95" fill="#e41a1c"/>
<circle cx="100.20" cy="585.80" r="0.95" fill="#e41a1c"/>
<circle cx="109.00" cy="596.80" r="0.95" fill="#e41a1c"/>
<circle cx="110.90" cy="608.90" r="0.95" fill="#e41a1c"/>
<circle cx="107.50" cy="612.90" r="0.95" fill="#e41a1c"/>
<circle cx="116.60" cy="616.00" r="0.95" fill="#e41a1c"/>
<circle cx="109.00" cy="616.70" r="0.95" fill="#e41a1c"/>
<circle cx="144.10" cy="556.60" r="0.95" fill="#e41a1c"/>
<circle cx="151.50" cy="605.60" r="0.95" fill="#e41a1c"/>
<circle cx="117.00" cy="592.00" r="0.95" fill="#e41a1c"/>
<circle cx="109.00" cy="597.00" r="0.95" fill="#e41a1c"/>
<circle cx="108.00" cy="612.00" r="0.95" fill="#e41a1c"/>
<circle cx="104.00" cy="614.00" r="0.95" fill="#e41a1c"/>
<circle cx="96.45" cy="608.59" r="0.95" fill="#e41a1c"/>
<circle cx="95.19" cy="617.52" r="0.95" fill="#e41a1c"/>
<circle cx="95.41" cy="616.19" r="0.95" fill="#e41a1c"/>
<circle cx="96.40" cy="588.86" r="0.95" fill="#e41a1c"/>
<circle cx="94.40" cy="612.02" r="0.95" fill="#e41a1c"/>
<circle cx="98.05" cy="613.77" r="0.95" fill="#e41a1c"/>
<circle cx="100.79" cy="608.19" r="0.95" fill="#e41a1c"/>
<circle cx="95.92" cy="593.32" r="0.95" fill="#e41a1c"/>
<circle cx="100.92" cy="599.66" r="0.95" fill="#e41a1c"/>
<circle cx="98.18" cy="602.44" r="0.95" fill="#e41a1c"/>
<circle cx="99.26" cy="596.58" r="0.95" fill="#e41a1c"/>
<circle cx="95.69" cy="605.70" r="0.95" fill="#e41a1c"/>
<circle cx="95.72" cy="595.42" r="0.95" fill="#e41a1c"/>
<circle cx="96.20" cy="617.50" r="0.95" fill="#e41a1c"/>
<circle cx="96.68" cy="589.18" r="0.95" fill="#e41a1c"/>
<circle cx="96.76" cy="609.13" r="0.95" fill="#e41a1c"/>
<circle cx="94.64" cy="610.55" r="0.95" fill="#e41a1c"/>
<circle cx="103.28" cy="611.70" r="0.95" fill="#e41a1c"/>
<circle cx="95.36" cy="598.79" r="0.95" fill="#e41a1c"/>
<circle cx="98.12" cy="607.52" r="0.95" fill="#e41a1c"/>
<circle cx="95.22" cy="614.40" r="0.95" fill="#e41a1c"/>
<circle cx="95.97" cy="589.94" r="0.95" fill="#e41a1c"/>
<circle cx="95.39" cy="604.18" r="0.95" fill="#e41a1c"/>
<circle cx="101.27" cy="586.63" r="0.95" fill="#e41a1c"/>
<circle cx="95.42" cy="605.73" r="0.95" fill="#e41a1c"/>
<circle cx="95.71" cy="616.47" r="0.95" fill="#e41a1c"/>
<circle cx="96.11" cy="609.18" r="0.95" fill="#e41a1c"/>
<circle cx="95.36" cy="611.75" r="0.95" fill="#e41a1c"/>
<circle cx="98.30" cy="601.75" r="0.95" fill="#e41a1c"/>
<circle cx="97.68" cy="606.93" r="0.95" fill="#e41a1c"/>
<circle cx="97.27" cy="606.90" r="0.95" fill="#e41a1c"/>
<circle cx="94.50" cy="609.30" r="0.95" fill="#e41a1c"/>
<circle cx="95.53" cy="617.19" r="0.95" fill="#e41a1c"/>
<circle cx="102.78" cy="615.55" r="0.95" fill="#e41a1c"/>
<circle cx="98.65" cy="603.97" r="0.95" fill="#e41a1c"/>
<circle cx="98.93" cy="613.01" r="0.95" fill="#e41a1c"/>
<circle cx="94.03" cy="611.37" r="0.95" fill="#e41a1c"/>
<circle cx="97.44" cy="605.86" r="0.95" fill="#e41a1c"/>
<circle cx="98.01" cy="588.19" r="0.95" fill="#e41a1c"/>
<circle cx="99.62" cy="618.11" r="0.95" fill="#e41a1c"/>
<circle cx="95.82" cy="617.88" r="0.95" fill="#e41a1c"/>
<circle cx="101.00" cy="604.96" r="0.95" fill="#e41a1c"/>
<circle cx="97.39" cy="601.15" r="0.95" fill="#e41a1c"/>
<circle cx="94.00" cy="589.18" r="0.95" fill="#e41a1c"/>
<circle cx="99.60" cy="592.83" r="0.95" fill="#e41a1c"/>
<circle cx="101.18" cy="612.05" r="0.95" fill="#e41a1c"/>
<circle cx="96.34" cy="616.00" r="0.95" fill="#e41a1c"/>
<circle cx="97.41" cy="597.89" r="0.95" fill="#e41a1c"/>
<circle cx="94.87" cy="588.64" r="0.95" fill="#e41a1c"/>
<circle cx="98.83" cy="594.99" r="0.95" fill="#e41a1c"/>
<circle cx="94.92" cy="605.49" r="0.95" fill="#e41a1c"/>
<circle cx="94.31" cy="594.37" r="0.95" fill="#e41a1c"/>
<circle cx="98.29" cy="612.52" r="0.95" fill="#e41a1c"/>
<circle cx="96.36" cy="610.37" r="0.95" fill="#e41a1c"/>
<circle cx="94.05" cy="615.49" r="0.95" fill="#e41a1c"/>
<circle cx="98.84" cy="597.32" r="0.95" fill="#e41a1c"/>
<circle cx="97.75" cy="615.92" r="0.95" fill="#e41a1c"/>
<circle cx="95.77" cy="601.30" r="0.95" fill="#e41a1c"/>
<circle cx="94.76" cy="607.73" r="0.95" fill="#e41a1c"/>
<circle cx="98.55" cy="618.33" r="0.95" fill="#e41a1c"/>
<circle cx="102.33" cy="610.44" r="0.95" fill="#e41a1c"/>
<circle cx="96.10" cy="599.19" r="0.95" fill="#e41a1c"/>
<circle cx="96.46" cy="590.74" r="0.95" fill="#e41a1c"/>
<circle cx="94.38" cy="612.09" r="0.95" fill="#e41a1c"/>
<circle cx="94.82" cy="587.95" r="0.95" fill="#e41a1c"/>
<circle cx="96.80" cy="618.11" r="0.95" fill="#e41a1c"/>
<circle cx="95.62" cy="604.14" r="0.95" fill="#e41a1c"/>
<circle cx="97.16" cy="611.78" r="0.95" fill="#e41a1c"/>
<circle cx="96.17" cy="598.40" r="0.95" fill="#e41a1c"/>
<circle cx="95.10" cy="617.84" r="0.95" fill="#e41a1c"/>
<circle cx="98.52" cy="609.31" r="0.95" fill="#e41a1c"/>
<circle cx="96.47" cy="613.53" r="0.95" fill="#e41a1c"/>
<circle cx="94.28" cy="593.85" r="0.95" fill="#e41a1c"/>
<circle cx="98.02" cy="613.32" r="0.95" fill="#e41a1c"/>
<circle cx="96.38" cy="587.61" r="0.95" fill="#e41a1c"/>
<circle cx="99.83" cy="612.57" r="0.95" fill="#e41a1c"/>
<circle cx="94.19" cy="612.85" r="0.95" fill="#e41a1c"/>
<circle cx="96.84" cy="588.26" r="0.95" fill="#e41a1c"/>
<circle cx="94.93" cy="604.22" r="0.95" fill="#e41a1c"/>
<circle cx="96.23" cy="606.80" r="0.95" fill="#e41a1c"/>
<circle cx="95.81" cy="598.47" r="0.95" fill="#e41a1c"/>
<circle cx="94.61" cy="607.55" r="0.95" fill="#e41a1c"/>
<circle cx="95.86" cy="613.10" r="0.95" fill="#e41a1c"/>
<circle cx="94.30" cy="617.44" r="0.95" fill="#e41a1c"/>
<circle cx="99.70" cy="617.24" r="0.95" fill="#e41a1c"/>
<circle cx="20.50" cy="602.90" r="1.05" fill="#2a2a3a"/>
<circle cx="42.60" cy="613.00" r="1.05" fill="#2a2a3a"/>
<rect x="14.30" y="510.30" width="144.10" height="153.10" fill="none" stroke="#6a6a6a" stroke-width="1.1" />
<line x1="12.80" y1="537.20" x2="14.30" y2="537.20" stroke="#555" stroke-width="0.5" />
<text x="12.10" y="538.20" font-size="2.8" text-anchor="end" fill="#555"  stroke="#555" stroke-width="0.07">4</text>
<line x1="12.80" y1="567.10" x2="14.30" y2="567.10" stroke="#555" stroke-width="0.5" />
<text x="12.10" y="568.10" font-size="2.8" text-anchor="end" fill="#555"  stroke="#555" stroke-width="0.07">3</text>
<line x1="12.80" y1="597.00" x2="14.30" y2="597.00" stroke="#555" stroke-width="0.5" />
<text x="12.10" y="598.00" font-size="2.8" text-anchor="end" fill="#555"  stroke="#555" stroke-width="0.07">2</text>
<line x1="12.80" y1="626.90" x2="14.30" y2="626.90" stroke="#555" stroke-width="0.5" />
<text x="12.10" y="627.90" font-size="2.8" text-anchor="end" fill="#555"  stroke="#555" stroke-width="0.07">1</text>
<line x1="12.80" y1="656.80" x2="14.30" y2="656.80" stroke="#555" stroke-width="0.5" />
<text x="12.10" y="657.80" font-size="2.8" text-anchor="end" fill="#555"  stroke="#555" stroke-width="0.07">0</text>
<line x1="22.00" y1="663.40" x2="22.00" y2="664.90" stroke="#555" stroke-width="0.5" />
<text x="22.00" y="667.20" font-size="2.8" text-anchor="middle" fill="#555"  stroke="#555" stroke-width="0.07">-20</text>
<line x1="57.40" y1="663.40" x2="57.40" y2="664.90" stroke="#555" stroke-width="0.5" />
<text x="57.40" y="667.20" font-size="2.8" text-anchor="middle" fill="#555"  stroke="#555" stroke-width="0.07">-10</text>
<line x1="91.50" y1="663.40" x2="91.50" y2="664.90" stroke="#555" stroke-width="0.5" />
<text x="91.50" y="667.20" font-size="2.8" text-anchor="middle" fill="#555"  stroke="#555" stroke-width="0.07">0</text>
<line x1="126.40" y1="663.40" x2="126.40" y2="664.90" stroke="#555" stroke-width="0.5" />
<text x="126.40" y="667.20" font-size="2.8" text-anchor="middle" fill="#555"  stroke="#555" stroke-width="0.07">10</text>
<text x="86.00" y="672.80" font-size="3.65" text-anchor="middle" fill="#1a1a1a" stroke="#1a1a1a" stroke-width="0.12">log2(Fold Change)</text>
<text x="5.70" y="586.00" font-size="3.5" text-anchor="middle" fill="#1a1a1a" stroke="#1a1a1a" stroke-width="0.12" transform="rotate(-90 5.70 586.00)" dy="1.2">-log10(P-value)</text>
<text x="163.50" y="567.90" font-size="3.6" text-anchor="start" fill="#222" stroke="#222" stroke-width="0.08">regulated</text>
<circle cx="166.10" cy="572.20" r="0.8" fill="#e41a1c"/>
<text x="169.70" y="573.20" font-size="3.0" text-anchor="start" fill="#555" stroke="none">up:75</text>
<circle cx="166.10" cy="578.20" r="0.8" fill="#3b6fd6"/>
<text x="169.70" y="579.20" font-size="3.0" text-anchor="start" fill="#555" stroke="none">down:71</text>
<circle cx="166.10" cy="584.20" r="0.8" fill="#8c8c8c"/>
<text x="169.70" y="585.20" font-size="3.0" text-anchor="start" fill="#555" stroke="none">unchanged:518</text>
<text x="163.50" y="597.40" font-size="3.6" text-anchor="start" fill="#222" stroke="#222" stroke-width="0.08">VIP</text>
<circle cx="166.10" cy="602.10" r="0.7" fill="#333"/>
<text x="169.70" y="603.10" font-size="3.0" text-anchor="start" fill="#555" stroke="none">0.0</text>
<circle cx="166.10" cy="607.60" r="1.1" fill="#111"/>
<text x="169.70" y="608.60" font-size="3.0" text-anchor="start" fill="#555" stroke="none">1.0</text>
<text x="2.1" y="508.5" font-family="Liberation Serif, serif" font-weight="bold" font-size="11.6" fill="#000" stroke="#000" stroke-width="0.3" textLength="6.0" lengthAdjust="spacingAndGlyphs">E</text>
<line x1="268.40" y1="510.00" x2="268.40" y2="662.60" stroke="#b8b8b8" stroke-width="0.6" stroke-dasharray="1,0.8"/>
<line x1="203.20" y1="621.90" x2="345.60" y2="621.90" stroke="#b8b8b8" stroke-width="0.6" stroke-dasharray="1,0.8"/>
<circle cx="267.06" cy="626.56" r="0.9" fill="#8c8c8c"/>
<circle cx="270.07" cy="650.67" r="0.9" fill="#8c8c8c"/>
<circle cx="274.50" cy="634.99" r="0.9" fill="#8c8c8c"/>
<circle cx="271.49" cy="647.23" r="0.9" fill="#8c8c8c"/>
<circle cx="273.07" cy="630.72" r="0.9" fill="#8c8c8c"/>
<circle cx="273.97" cy="627.64" r="0.9" fill="#8c8c8c"/>
<circle cx="268.33" cy="633.43" r="0.9" fill="#8c8c8c"/>
<circle cx="274.30" cy="635.77" r="0.9" fill="#8c8c8c"/>
<circle cx="270.73" cy="630.25" r="0.9" fill="#8c8c8c"/>
<circle cx="266.68" cy="649.58" r="0.9" fill="#8c8c8c"/>
<circle cx="262.87" cy="625.93" r="0.9" fill="#8c8c8c"/>
<circle cx="273.14" cy="638.40" r="0.9" fill="#8c8c8c"/>
<circle cx="266.91" cy="653.13" r="0.9" fill="#8c8c8c"/>
<circle cx="270.46" cy="623.85" r="0.9" fill="#8c8c8c"/>
<circle cx="272.40" cy="628.85" r="0.9" fill="#8c8c8c"/>
<circle cx="266.44" cy="655.09" r="0.9" fill="#8c8c8c"/>
<circle cx="267.57" cy="634.97" r="0.9" fill="#8c8c8c"/>
<circle cx="269.17" cy="651.52" r="0.9" fill="#8c8c8c"/>
<circle cx="271.50" cy="648.56" r="0.9" fill="#8c8c8c"/>
<circle cx="273.30" cy="654.18" r="0.9" fill="#8c8c8c"/>
<circle cx="273.07" cy="643.27" r="0.9" fill="#8c8c8c"/>
<circle cx="269.75" cy="629.79" r="0.9" fill="#8c8c8c"/>
<circle cx="272.15" cy="629.33" r="0.9" fill="#8c8c8c"/>
<circle cx="267.34" cy="631.04" r="0.9" fill="#8c8c8c"/>
<circle cx="268.29" cy="629.32" r="0.9" fill="#8c8c8c"/>
<circle cx="268.59" cy="622.88" r="0.9" fill="#8c8c8c"/>
<circle cx="275.02" cy="628.70" r="0.9" fill="#8c8c8c"/>
<circle cx="272.42" cy="632.96" r="0.9" fill="#8c8c8c"/>
<circle cx="275.50" cy="640.86" r="0.9" fill="#8c8c8c"/>
<circle cx="273.50" cy="624.62" r="0.9" fill="#8c8c8c"/>
<circle cx="272.51" cy="640.93" r="0.9" fill="#8c8c8c"/>
<circle cx="272.20" cy="643.91" r="0.9" fill="#8c8c8c"/>
<circle cx="271.72" cy="645.80" r="0.9" fill="#8c8c8c"/>
<circle cx="270.39" cy="636.23" r="0.9" fill="#8c8c8c"/>
<circle cx="272.79" cy="654.43" r="0.9" fill="#8c8c8c"/>
<circle cx="268.36" cy="632.96" r="0.9" fill="#8c8c8c"/>
<circle cx="269.82" cy="636.45" r="0.9" fill="#8c8c8c"/>
<circle cx="273.13" cy="651.45" r="0.9" fill="#8c8c8c"/>
<circle cx="270.84" cy="629.11" r="0.9" fill="#8c8c8c"/>
<circle cx="270.98" cy="646.89" r="0.9" fill="#8c8c8c"/>
<circle cx="271.14" cy="652.70" r="0.9" fill="#8c8c8c"/>
<circle cx="272.14" cy="636.70" r="0.9" fill="#8c8c8c"/>
<circle cx="268.75" cy="652.08" r="0.9" fill="#8c8c8c"/>
<circle cx="271.15" cy="637.94" r="0.9" fill="#8c8c8c"/>
<circle cx="271.30" cy="640.98" r="0.9" fill="#8c8c8c"/>
<circle cx="271.85" cy="643.96" r="0.9" fill="#8c8c8c"/>
<circle cx="270.29" cy="643.34" r="0.9" fill="#8c8c8c"/>
<circle cx="269.28" cy="634.92" r="0.9" fill="#8c8c8c"/>
<circle cx="270.85" cy="631.99" r="0.9" fill="#8c8c8c"/>
<circle cx="272.07" cy="639.96" r="0.9" fill="#8c8c8c"/>
<circle cx="270.30" cy="638.93" r="0.9" fill="#8c8c8c"/>
<circle cx="272.47" cy="649.46" r="0.9" fill="#8c8c8c"/>
<circle cx="270.47" cy="626.74" r="0.9" fill="#8c8c8c"/>
<circle cx="273.47" cy="654.09" r="0.9" fill="#8c8c8c"/>
<circle cx="270.33" cy="624.29" r="0.9" fill="#8c8c8c"/>
<circle cx="267.13" cy="653.53" r="0.9" fill="#8c8c8c"/>
<circle cx="274.57" cy="643.28" r="0.9" fill="#8c8c8c"/>
<circle cx="273.14" cy="650.12" r="0.9" fill="#8c8c8c"/>
<circle cx="275.43" cy="629.94" r="0.9" fill="#8c8c8c"/>
<circle cx="273.95" cy="636.05" r="0.9" fill="#8c8c8c"/>
<circle cx="266.11" cy="628.63" r="0.9" fill="#8c8c8c"/>
<circle cx="267.91" cy="629.81" r="0.9" fill="#8c8c8c"/>
<circle cx="272.95" cy="635.35" r="0.9" fill="#8c8c8c"/>
<circle cx="270.99" cy="626.62" r="0.9" fill="#8c8c8c"/>
<circle cx="274.62" cy="652.56" r="0.9" fill="#8c8c8c"/>
<circle cx="265.84" cy="623.88" r="0.9" fill="#8c8c8c"/>
<circle cx="268.81" cy="623.78" r="0.9" fill="#8c8c8c"/>
<circle cx="273.28" cy="650.58" r="0.9" fill="#8c8c8c"/>
<circle cx="273.36" cy="640.93" r="0.9" fill="#8c8c8c"/>
<circle cx="269.96" cy="643.51" r="0.9" fill="#8c8c8c"/>
<circle cx="273.50" cy="642.02" r="0.9" fill="#8c8c8c"/>
<circle cx="269.23" cy="636.76" r="0.9" fill="#8c8c8c"/>
<circle cx="268.32" cy="637.18" r="0.9" fill="#8c8c8c"/>
<circle cx="268.11" cy="623.28" r="0.9" fill="#8c8c8c"/>
<circle cx="268.50" cy="630.38" r="0.9" fill="#8c8c8c"/>
<circle cx="271.41" cy="648.08" r="0.9" fill="#8c8c8c"/>
<circle cx="267.53" cy="628.52" r="0.9" fill="#8c8c8c"/>
<circle cx="272.04" cy="638.35" r="0.9" fill="#8c8c8c"/>
<circle cx="271.82" cy="636.93" r="0.9" fill="#8c8c8c"/>
<circle cx="267.33" cy="625.57" r="0.9" fill="#8c8c8c"/>
<circle cx="272.29" cy="623.87" r="0.9" fill="#8c8c8c"/>
<circle cx="274.58" cy="643.82" r="0.9" fill="#8c8c8c"/>
<circle cx="272.86" cy="648.55" r="0.9" fill="#8c8c8c"/>
<circle cx="273.95" cy="639.63" r="0.9" fill="#8c8c8c"/>
<circle cx="272.04" cy="635.16" r="0.9" fill="#8c8c8c"/>
<circle cx="273.82" cy="654.35" r="0.9" fill="#8c8c8c"/>
<circle cx="274.18" cy="655.87" r="0.9" fill="#8c8c8c"/>
<circle cx="271.55" cy="647.02" r="0.9" fill="#8c8c8c"/>
<circle cx="269.56" cy="655.39" r="0.9" fill="#8c8c8c"/>
<circle cx="276.81" cy="638.98" r="0.9" fill="#8c8c8c"/>
<circle cx="269.03" cy="628.03" r="0.9" fill="#8c8c8c"/>
<circle cx="271.71" cy="648.91" r="0.9" fill="#8c8c8c"/>
<circle cx="270.45" cy="634.26" r="0.9" fill="#8c8c8c"/>
<circle cx="273.75" cy="647.83" r="0.9" fill="#8c8c8c"/>
<circle cx="276.26" cy="631.71" r="0.9" fill="#8c8c8c"/>
<circle cx="272.66" cy="649.82" r="0.9" fill="#8c8c8c"/>
<circle cx="273.02" cy="653.32" r="0.9" fill="#8c8c8c"/>
<circle cx="270.61" cy="629.48" r="0.9" fill="#8c8c8c"/>
<circle cx="274.39" cy="633.19" r="0.9" fill="#8c8c8c"/>
<circle cx="271.70" cy="623.73" r="0.9" fill="#8c8c8c"/>
<circle cx="272.13" cy="653.87" r="0.9" fill="#8c8c8c"/>
<circle cx="272.13" cy="645.27" r="0.9" fill="#8c8c8c"/>
<circle cx="270.00" cy="648.79" r="0.9" fill="#8c8c8c"/>
<circle cx="266.47" cy="626.36" r="0.9" fill="#8c8c8c"/>
<circle cx="270.11" cy="634.55" r="0.9" fill="#8c8c8c"/>
<circle cx="268.00" cy="651.74" r="0.9" fill="#8c8c8c"/>
<circle cx="269.86" cy="652.06" r="0.9" fill="#8c8c8c"/>
<circle cx="275.39" cy="626.00" r="0.9" fill="#8c8c8c"/>
<circle cx="270.72" cy="635.71" r="0.9" fill="#8c8c8c"/>
<circle cx="270.22" cy="649.22" r="0.9" fill="#8c8c8c"/>
<circle cx="279.00" cy="641.84" r="0.9" fill="#8c8c8c"/>
<circle cx="271.19" cy="634.57" r="0.9" fill="#8c8c8c"/>
<circle cx="267.56" cy="628.42" r="0.9" fill="#8c8c8c"/>
<circle cx="275.29" cy="647.41" r="0.9" fill="#8c8c8c"/>
<circle cx="272.57" cy="631.00" r="0.9" fill="#8c8c8c"/>
<circle cx="274.33" cy="643.91" r="0.9" fill="#8c8c8c"/>
<circle cx="270.56" cy="644.73" r="0.9" fill="#8c8c8c"/>
<circle cx="271.68" cy="632.97" r="0.9" fill="#8c8c8c"/>
<circle cx="270.91" cy="627.50" r="0.9" fill="#8c8c8c"/>
<circle cx="268.04" cy="643.14" r="0.9" fill="#8c8c8c"/>
<circle cx="272.05" cy="652.50" r="0.9" fill="#8c8c8c"/>
<circle cx="271.55" cy="626.92" r="0.9" fill="#8c8c8c"/>
<circle cx="275.62" cy="623.25" r="0.9" fill="#8c8c8c"/>
<circle cx="269.94" cy="622.59" r="0.9" fill="#8c8c8c"/>
<circle cx="271.99" cy="634.46" r="0.9" fill="#8c8c8c"/>
<circle cx="267.38" cy="630.01" r="0.9" fill="#8c8c8c"/>
<circle cx="268.84" cy="629.34" r="0.9" fill="#8c8c8c"/>
<circle cx="269.51" cy="643.40" r="0.9" fill="#8c8c8c"/>
<circle cx="271.09" cy="653.88" r="0.9" fill="#8c8c8c"/>
<circle cx="271.70" cy="630.66" r="0.9" fill="#8c8c8c"/>
<circle cx="271.84" cy="643.88" r="0.9" fill="#8c8c8c"/>
<circle cx="271.38" cy="651.69" r="0.9" fill="#8c8c8c"/>
<circle cx="267.91" cy="631.35" r="0.9" fill="#8c8c8c"/>
<circle cx="268.31" cy="622.89" r="0.9" fill="#8c8c8c"/>
<circle cx="267.94" cy="634.24" r="0.9" fill="#8c8c8c"/>
<circle cx="265.18" cy="644.13" r="0.9" fill="#8c8c8c"/>
<circle cx="272.93" cy="647.07" r="0.9" fill="#8c8c8c"/>
<circle cx="271.65" cy="630.82" r="0.9" fill="#8c8c8c"/>
<circle cx="270.44" cy="640.31" r="0.9" fill="#8c8c8c"/>
<circle cx="270.98" cy="636.10" r="0.9" fill="#8c8c8c"/>
<circle cx="271.74" cy="648.59" r="0.9" fill="#8c8c8c"/>
<circle cx="263.48" cy="622.91" r="0.9" fill="#8c8c8c"/>
<circle cx="268.55" cy="627.27" r="0.9" fill="#8c8c8c"/>
<circle cx="268.05" cy="629.18" r="0.9" fill="#8c8c8c"/>
<circle cx="268.96" cy="643.99" r="0.9" fill="#8c8c8c"/>
<circle cx="271.84" cy="649.75" r="0.9" fill="#8c8c8c"/>
<circle cx="273.17" cy="632.56" r="0.9" fill="#8c8c8c"/>
<circle cx="275.26" cy="624.12" r="0.9" fill="#8c8c8c"/>
<circle cx="268.09" cy="646.47" r="0.9" fill="#8c8c8c"/>
<circle cx="273.94" cy="622.71" r="0.9" fill="#8c8c8c"/>
<circle cx="267.08" cy="638.09" r="0.9" fill="#8c8c8c"/>
<circle cx="269.20" cy="647.35" r="0.9" fill="#8c8c8c"/>
<circle cx="271.57" cy="626.03" r="0.9" fill="#8c8c8c"/>
<circle cx="273.57" cy="630.28" r="0.9" fill="#8c8c8c"/>
<circle cx="271.44" cy="647.61" r="0.9" fill="#8c8c8c"/>
<circle cx="273.15" cy="645.79" r="0.9" fill="#8c8c8c"/>
<circle cx="266.98" cy="631.41" r="0.9" fill="#8c8c8c"/>
<circle cx="266.53" cy="641.05" r="0.9" fill="#8c8c8c"/>
<circle cx="272.78" cy="640.03" r="0.9" fill="#8c8c8c"/>
<circle cx="266.01" cy="631.39" r="0.9" fill="#8c8c8c"/>
<circle cx="264.73" cy="629.77" r="0.9" fill="#8c8c8c"/>
<circle cx="272.70" cy="651.98" r="0.9" fill="#8c8c8c"/>
<circle cx="271.13" cy="630.41" r="0.9" fill="#8c8c8c"/>
<circle cx="274.76" cy="647.42" r="0.9" fill="#8c8c8c"/>
<circle cx="269.24" cy="633.45" r="0.9" fill="#8c8c8c"/>
<circle cx="270.08" cy="651.99" r="0.9" fill="#8c8c8c"/>
<circle cx="272.40" cy="652.90" r="0.9" fill="#8c8c8c"/>
<circle cx="269.54" cy="643.63" r="0.9" fill="#8c8c8c"/>
<circle cx="267.82" cy="655.30" r="0.9" fill="#8c8c8c"/>
<circle cx="273.20" cy="638.23" r="0.9" fill="#8c8c8c"/>
<circle cx="267.82" cy="651.23" r="0.9" fill="#8c8c8c"/>
<circle cx="270.32" cy="637.15" r="0.9" fill="#8c8c8c"/>
<circle cx="267.10" cy="632.81" r="0.9" fill="#8c8c8c"/>
<circle cx="270.01" cy="629.60" r="0.9" fill="#8c8c8c"/>
<circle cx="270.26" cy="653.01" r="0.9" fill="#8c8c8c"/>
<circle cx="272.37" cy="627.34" r="0.9" fill="#8c8c8c"/>
<circle cx="271.08" cy="653.62" r="0.9" fill="#8c8c8c"/>
<circle cx="271.34" cy="634.05" r="0.9" fill="#8c8c8c"/>
<circle cx="271.51" cy="623.90" r="0.9" fill="#8c8c8c"/>
<circle cx="268.29" cy="645.70" r="0.9" fill="#8c8c8c"/>
<circle cx="268.03" cy="647.18" r="0.9" fill="#8c8c8c"/>
<circle cx="268.31" cy="624.70" r="0.9" fill="#8c8c8c"/>
<circle cx="269.67" cy="649.89" r="0.9" fill="#8c8c8c"/>
<circle cx="271.59" cy="649.96" r="0.9" fill="#8c8c8c"/>
<circle cx="270.35" cy="651.57" r="0.9" fill="#8c8c8c"/>
<circle cx="271.93" cy="653.13" r="0.9" fill="#8c8c8c"/>
<circle cx="270.40" cy="629.39" r="0.9" fill="#8c8c8c"/>
<circle cx="276.92" cy="626.25" r="0.9" fill="#8c8c8c"/>
<circle cx="271.90" cy="649.70" r="0.9" fill="#8c8c8c"/>
<circle cx="272.57" cy="643.74" r="0.9" fill="#8c8c8c"/>
<circle cx="267.14" cy="632.13" r="0.9" fill="#8c8c8c"/>
<circle cx="275.29" cy="625.85" r="0.9" fill="#8c8c8c"/>
<circle cx="273.88" cy="629.37" r="0.9" fill="#8c8c8c"/>
<circle cx="270.36" cy="633.19" r="0.9" fill="#8c8c8c"/>
<circle cx="271.19" cy="631.10" r="0.9" fill="#8c8c8c"/>
<circle cx="270.29" cy="631.97" r="0.9" fill="#8c8c8c"/>
<circle cx="268.14" cy="633.25" r="0.9" fill="#8c8c8c"/>
<circle cx="266.53" cy="654.79" r="0.9" fill="#8c8c8c"/>
<circle cx="270.78" cy="643.21" r="0.9" fill="#8c8c8c"/>
<circle cx="267.91" cy="623.54" r="0.9" fill="#8c8c8c"/>
<circle cx="272.26" cy="648.40" r="0.9" fill="#8c8c8c"/>
<circle cx="269.88" cy="634.12" r="0.9" fill="#8c8c8c"/>
<circle cx="267.25" cy="629.76" r="0.9" fill="#8c8c8c"/>
<circle cx="274.56" cy="651.39" r="0.9" fill="#8c8c8c"/>
<circle cx="274.01" cy="628.21" r="0.9" fill="#8c8c8c"/>
<circle cx="272.56" cy="622.54" r="0.9" fill="#8c8c8c"/>
<circle cx="274.50" cy="655.26" r="0.9" fill="#8c8c8c"/>
<circle cx="267.07" cy="622.65" r="0.9" fill="#8c8c8c"/>
<circle cx="271.06" cy="649.19" r="0.9" fill="#8c8c8c"/>
<circle cx="268.04" cy="628.68" r="0.9" fill="#8c8c8c"/>
<circle cx="270.97" cy="650.37" r="0.9" fill="#8c8c8c"/>
<circle cx="273.21" cy="631.23" r="0.9" fill="#8c8c8c"/>
<circle cx="270.04" cy="629.69" r="0.9" fill="#8c8c8c"/>
<circle cx="269.68" cy="645.93" r="0.9" fill="#8c8c8c"/>
<circle cx="270.91" cy="643.82" r="0.9" fill="#8c8c8c"/>
<circle cx="272.07" cy="625.21" r="0.9" fill="#8c8c8c"/>
<circle cx="267.24" cy="648.86" r="0.9" fill="#8c8c8c"/>
<circle cx="269.27" cy="643.54" r="0.9" fill="#8c8c8c"/>
<circle cx="273.19" cy="635.72" r="0.9" fill="#8c8c8c"/>
<circle cx="275.07" cy="652.33" r="0.9" fill="#8c8c8c"/>
<circle cx="274.43" cy="623.34" r="0.9" fill="#8c8c8c"/>
<circle cx="270.35" cy="629.40" r="0.9" fill="#8c8c8c"/>
<circle cx="276.79" cy="639.29" r="0.9" fill="#8c8c8c"/>
<circle cx="272.47" cy="635.21" r="0.9" fill="#8c8c8c"/>
<circle cx="269.54" cy="637.94" r="0.9" fill="#8c8c8c"/>
<circle cx="271.03" cy="640.31" r="0.9" fill="#8c8c8c"/>
<circle cx="266.57" cy="644.15" r="0.9" fill="#8c8c8c"/>
<circle cx="270.11" cy="634.17" r="0.9" fill="#8c8c8c"/>
<circle cx="272.12" cy="650.74" r="0.9" fill="#8c8c8c"/>
<circle cx="270.82" cy="644.68" r="0.9" fill="#8c8c8c"/>
<circle cx="211.40" cy="628.80" r="0.9" fill="#8c8c8c"/>
<circle cx="230.60" cy="636.70" r="0.9" fill="#8c8c8c"/>
<circle cx="232.60" cy="654.10" r="0.9" fill="#8c8c8c"/>
<circle cx="245.40" cy="644.20" r="0.9" fill="#8c8c8c"/>
<circle cx="250.30" cy="646.20" r="0.9" fill="#8c8c8c"/>
<circle cx="253.30" cy="647.20" r="0.9" fill="#8c8c8c"/>
<circle cx="257.20" cy="640.30" r="0.9" fill="#8c8c8c"/>
<circle cx="254.30" cy="655.00" r="0.9" fill="#8c8c8c"/>
<circle cx="258.20" cy="653.10" r="0.9" fill="#8c8c8c"/>
<circle cx="280.00" cy="626.40" r="0.9" fill="#8c8c8c"/>
<circle cx="283.90" cy="627.40" r="0.9" fill="#8c8c8c"/>
<circle cx="291.20" cy="630.40" r="0.9" fill="#8c8c8c"/>
<circle cx="285.80" cy="635.30" r="0.9" fill="#8c8c8c"/>
<circle cx="301.60" cy="638.30" r="0.9" fill="#8c8c8c"/>
<circle cx="305.60" cy="638.30" r="0.9" fill="#8c8c8c"/>
<circle cx="292.70" cy="644.20" r="0.9" fill="#8c8c8c"/>
<circle cx="296.70" cy="644.20" r="0.9" fill="#8c8c8c"/>
<circle cx="289.80" cy="646.20" r="0.9" fill="#8c8c8c"/>
<circle cx="282.90" cy="648.20" r="0.9" fill="#8c8c8c"/>
<circle cx="284.90" cy="643.20" r="0.9" fill="#8c8c8c"/>
<circle cx="280.90" cy="652.10" r="0.9" fill="#8c8c8c"/>
<circle cx="299.70" cy="652.10" r="0.9" fill="#8c8c8c"/>
<circle cx="307.60" cy="651.10" r="0.9" fill="#8c8c8c"/>
<circle cx="339.10" cy="643.20" r="0.9" fill="#8c8c8c"/>
<circle cx="278.00" cy="654.00" r="0.9" fill="#8c8c8c"/>
<circle cx="262.00" cy="630.00" r="0.9" fill="#8c8c8c"/>
<circle cx="261.00" cy="645.00" r="0.9" fill="#8c8c8c"/>
<circle cx="279.00" cy="640.00" r="0.9" fill="#8c8c8c"/>
<circle cx="208.90" cy="595.90" r="0.95" fill="#3b6fd6"/>
<circle cx="223.70" cy="614.60" r="0.95" fill="#3b6fd6"/>
<circle cx="232.60" cy="619.10" r="0.95" fill="#3b6fd6"/>
<circle cx="249.30" cy="619.10" r="0.95" fill="#3b6fd6"/>
<circle cx="266.10" cy="588.00" r="0.95" fill="#3b6fd6"/>
<circle cx="262.50" cy="617.00" r="0.95" fill="#3b6fd6"/>
<circle cx="263.50" cy="618.30" r="0.95" fill="#3b6fd6"/>
<circle cx="264.50" cy="619.60" r="0.95" fill="#3b6fd6"/>
<circle cx="265.50" cy="620.80" r="0.95" fill="#3b6fd6"/>
<circle cx="263.00" cy="619.50" r="0.95" fill="#3b6fd6"/>
<circle cx="264.20" cy="621.00" r="0.95" fill="#3b6fd6"/>
<circle cx="262.00" cy="618.50" r="0.95" fill="#3b6fd6"/>
<circle cx="265.00" cy="617.80" r="0.95" fill="#3b6fd6"/>
<circle cx="273.70" cy="516.30" r="0.95" fill="#e41a1c"/>
<circle cx="276.10" cy="524.10" r="0.95" fill="#e41a1c"/>
<circle cx="272.00" cy="535.70" r="0.95" fill="#e41a1c"/>
<circle cx="272.80" cy="540.90" r="0.95" fill="#e41a1c"/>
<circle cx="273.20" cy="542.60" r="0.95" fill="#e41a1c"/>
<circle cx="272.30" cy="550.40" r="0.95" fill="#e41a1c"/>
<circle cx="272.30" cy="554.70" r="0.95" fill="#e41a1c"/>
<circle cx="272.00" cy="559.90" r="0.95" fill="#e41a1c"/>
<circle cx="271.50" cy="567.00" r="0.95" fill="#e41a1c"/>
<circle cx="273.20" cy="568.00" r="0.95" fill="#e41a1c"/>
<circle cx="272.30" cy="570.50" r="0.95" fill="#e41a1c"/>
<circle cx="273.70" cy="571.20" r="0.95" fill="#e41a1c"/>
<circle cx="270.80" cy="573.00" r="0.95" fill="#e41a1c"/>
<circle cx="272.30" cy="574.00" r="0.95" fill="#e41a1c"/>
<circle cx="271.50" cy="576.50" r="0.95" fill="#e41a1c"/>
<circle cx="273.20" cy="575.00" r="0.95" fill="#e41a1c"/>
<circle cx="271.50" cy="582.40" r="0.95" fill="#e41a1c"/>
<circle cx="272.30" cy="584.10" r="0.95" fill="#e41a1c"/>
<circle cx="271.50" cy="587.60" r="0.95" fill="#e41a1c"/>
<circle cx="273.20" cy="591.00" r="0.95" fill="#e41a1c"/>
<circle cx="270.80" cy="589.30" r="0.95" fill="#e41a1c"/>
<circle cx="280.50" cy="604.70" r="0.95" fill="#e41a1c"/>
<circle cx="284.50" cy="610.30" r="0.95" fill="#e41a1c"/>
<circle cx="292.80" cy="620.90" r="0.95" fill="#e41a1c"/>
<circle cx="298.30" cy="617.60" r="0.95" fill="#e41a1c"/>
<circle cx="271.66" cy="611.72" r="0.95" fill="#e41a1c"/>
<circle cx="271.29" cy="600.52" r="0.95" fill="#e41a1c"/>
<circle cx="270.79" cy="611.01" r="0.95" fill="#e41a1c"/>
<circle cx="270.32" cy="596.40" r="0.95" fill="#e41a1c"/>
<circle cx="271.76" cy="615.69" r="0.95" fill="#e41a1c"/>
<circle cx="270.97" cy="603.02" r="0.95" fill="#e41a1c"/>
<circle cx="271.36" cy="619.32" r="0.95" fill="#e41a1c"/>
<circle cx="271.55" cy="617.11" r="0.95" fill="#e41a1c"/>
<circle cx="272.79" cy="619.21" r="0.95" fill="#e41a1c"/>
<circle cx="272.63" cy="614.95" r="0.95" fill="#e41a1c"/>
<circle cx="276.25" cy="602.12" r="0.95" fill="#e41a1c"/>
<circle cx="271.28" cy="620.46" r="0.95" fill="#e41a1c"/>
<circle cx="270.46" cy="613.35" r="0.95" fill="#e41a1c"/>
<circle cx="271.29" cy="592.63" r="0.95" fill="#e41a1c"/>
<circle cx="273.95" cy="611.84" r="0.95" fill="#e41a1c"/>
<circle cx="270.94" cy="618.39" r="0.95" fill="#e41a1c"/>
<circle cx="271.07" cy="618.14" r="0.95" fill="#e41a1c"/>
<circle cx="272.57" cy="613.23" r="0.95" fill="#e41a1c"/>
<circle cx="270.71" cy="599.88" r="0.95" fill="#e41a1c"/>
<circle cx="273.60" cy="603.36" r="0.95" fill="#e41a1c"/>
<circle cx="270.21" cy="610.97" r="0.95" fill="#e41a1c"/>
<circle cx="272.14" cy="619.63" r="0.95" fill="#e41a1c"/>
<circle cx="271.68" cy="601.68" r="0.95" fill="#e41a1c"/>
<circle cx="273.04" cy="595.54" r="0.95" fill="#e41a1c"/>
<circle cx="271.53" cy="601.39" r="0.95" fill="#e41a1c"/>
<circle cx="270.72" cy="612.25" r="0.95" fill="#e41a1c"/>
<circle cx="274.01" cy="596.59" r="0.95" fill="#e41a1c"/>
<circle cx="271.65" cy="600.50" r="0.95" fill="#e41a1c"/>
<circle cx="274.67" cy="603.84" r="0.95" fill="#e41a1c"/>
<circle cx="272.19" cy="605.15" r="0.95" fill="#e41a1c"/>
<circle cx="270.79" cy="605.60" r="0.95" fill="#e41a1c"/>
<circle cx="273.87" cy="620.54" r="0.95" fill="#e41a1c"/>
<circle cx="272.23" cy="602.67" r="0.95" fill="#e41a1c"/>
<circle cx="270.20" cy="605.56" r="0.95" fill="#e41a1c"/>
<circle cx="272.72" cy="611.22" r="0.95" fill="#e41a1c"/>
<circle cx="273.23" cy="605.83" r="0.95" fill="#e41a1c"/>
<circle cx="272.14" cy="594.69" r="0.95" fill="#e41a1c"/>
<circle cx="272.55" cy="618.70" r="0.95" fill="#e41a1c"/>
<circle cx="273.64" cy="613.22" r="0.95" fill="#e41a1c"/>
<circle cx="270.86" cy="610.14" r="0.95" fill="#e41a1c"/>
<circle cx="270.31" cy="608.43" r="0.95" fill="#e41a1c"/>
<circle cx="271.33" cy="619.21" r="0.95" fill="#e41a1c"/>
<circle cx="275.79" cy="609.20" r="0.95" fill="#e41a1c"/>
<circle cx="272.87" cy="620.48" r="0.95" fill="#e41a1c"/>
<circle cx="271.55" cy="602.52" r="0.95" fill="#e41a1c"/>
<circle cx="273.09" cy="609.43" r="0.95" fill="#e41a1c"/>
<circle cx="273.66" cy="609.12" r="0.95" fill="#e41a1c"/>
<circle cx="271.76" cy="612.58" r="0.95" fill="#e41a1c"/>
<circle cx="270.73" cy="603.68" r="0.95" fill="#e41a1c"/>
<circle cx="270.30" cy="613.11" r="0.95" fill="#e41a1c"/>
<circle cx="271.42" cy="592.60" r="0.95" fill="#e41a1c"/>
<circle cx="272.00" cy="614.18" r="0.95" fill="#e41a1c"/>
<circle cx="270.87" cy="612.89" r="0.95" fill="#e41a1c"/>
<circle cx="272.39" cy="621.89" r="0.95" fill="#e41a1c"/>
<circle cx="271.43" cy="603.19" r="0.95" fill="#e41a1c"/>
<circle cx="270.36" cy="614.28" r="0.95" fill="#e41a1c"/>
<circle cx="271.90" cy="601.67" r="0.95" fill="#e41a1c"/>
<circle cx="271.86" cy="594.32" r="0.95" fill="#e41a1c"/>
<circle cx="270.49" cy="599.50" r="0.95" fill="#e41a1c"/>
<circle cx="270.50" cy="613.12" r="0.95" fill="#e41a1c"/>
<circle cx="271.43" cy="600.40" r="0.95" fill="#e41a1c"/>
<circle cx="272.00" cy="599.20" r="0.95" fill="#e41a1c"/>
<circle cx="272.22" cy="607.81" r="0.95" fill="#e41a1c"/>
<circle cx="272.38" cy="617.66" r="0.95" fill="#e41a1c"/>
<circle cx="270.70" cy="605.25" r="0.95" fill="#e41a1c"/>
<circle cx="271.29" cy="598.87" r="0.95" fill="#e41a1c"/>
<circle cx="272.67" cy="615.88" r="0.95" fill="#e41a1c"/>
<circle cx="273.41" cy="608.27" r="0.95" fill="#e41a1c"/>
<circle cx="273.42" cy="614.20" r="0.95" fill="#e41a1c"/>
<circle cx="270.45" cy="597.69" r="0.95" fill="#e41a1c"/>
<circle cx="272.52" cy="616.96" r="0.95" fill="#e41a1c"/>
<circle cx="270.27" cy="612.10" r="0.95" fill="#e41a1c"/>
<circle cx="270.36" cy="602.36" r="0.95" fill="#e41a1c"/>
<circle cx="270.26" cy="616.23" r="0.95" fill="#e41a1c"/>
<circle cx="272.23" cy="610.46" r="0.95" fill="#e41a1c"/>
<circle cx="272.49" cy="612.03" r="0.95" fill="#e41a1c"/>
<circle cx="272.88" cy="613.98" r="0.95" fill="#e41a1c"/>
<circle cx="270.70" cy="594.75" r="0.95" fill="#e41a1c"/>
<circle cx="270.85" cy="598.53" r="0.95" fill="#e41a1c"/>
<circle cx="270.48" cy="595.62" r="0.95" fill="#e41a1c"/>
<circle cx="275.00" cy="608.07" r="0.95" fill="#e41a1c"/>
<circle cx="269.70" cy="621.75" r="0.95" fill="#e41a1c"/>
<circle cx="275.79" cy="607.57" r="0.95" fill="#e41a1c"/>
<circle cx="271.23" cy="619.77" r="0.95" fill="#e41a1c"/>
<circle cx="270.53" cy="616.86" r="0.95" fill="#e41a1c"/>
<circle cx="274.65" cy="614.38" r="0.95" fill="#e41a1c"/>
<circle cx="270.59" cy="602.11" r="0.95" fill="#e41a1c"/>
<circle cx="274.75" cy="618.31" r="0.95" fill="#e41a1c"/>
<circle cx="275.39" cy="608.62" r="0.95" fill="#e41a1c"/>
<circle cx="274.68" cy="607.29" r="0.95" fill="#e41a1c"/>
<circle cx="275.41" cy="604.66" r="0.95" fill="#e41a1c"/>
<circle cx="275.05" cy="617.66" r="0.95" fill="#e41a1c"/>
<circle cx="274.10" cy="610.32" r="0.95" fill="#e41a1c"/>
<circle cx="274.42" cy="612.35" r="0.95" fill="#e41a1c"/>
<circle cx="275.34" cy="609.79" r="0.95" fill="#e41a1c"/>
<circle cx="271.32" cy="616.85" r="0.95" fill="#e41a1c"/>
<circle cx="270.51" cy="611.15" r="0.95" fill="#e41a1c"/>
<circle cx="269.98" cy="611.72" r="0.95" fill="#e41a1c"/>
<circle cx="270.54" cy="611.19" r="0.95" fill="#e41a1c"/>
<circle cx="272.84" cy="610.13" r="0.95" fill="#e41a1c"/>
<circle cx="275.21" cy="621.85" r="0.95" fill="#e41a1c"/>
<circle cx="275.06" cy="611.70" r="0.95" fill="#e41a1c"/>
<circle cx="273.26" cy="607.36" r="0.95" fill="#e41a1c"/>
<circle cx="275.06" cy="613.75" r="0.95" fill="#e41a1c"/>
<circle cx="272.32" cy="600.87" r="0.95" fill="#e41a1c"/>
<circle cx="270.09" cy="607.99" r="0.95" fill="#e41a1c"/>
<circle cx="273.73" cy="621.37" r="0.95" fill="#e41a1c"/>
<circle cx="273.56" cy="606.98" r="0.95" fill="#e41a1c"/>
<circle cx="275.65" cy="614.73" r="0.95" fill="#e41a1c"/>
<circle cx="275.98" cy="610.77" r="0.95" fill="#e41a1c"/>
<circle cx="272.75" cy="602.25" r="0.95" fill="#e41a1c"/>
<circle cx="269.82" cy="606.20" r="0.95" fill="#e41a1c"/>
<circle cx="273.66" cy="614.55" r="0.95" fill="#e41a1c"/>
<circle cx="275.20" cy="613.94" r="0.95" fill="#e41a1c"/>
<circle cx="272.68" cy="610.44" r="0.95" fill="#e41a1c"/>
<circle cx="274.61" cy="617.36" r="0.95" fill="#e41a1c"/>
<circle cx="272.43" cy="612.71" r="0.95" fill="#e41a1c"/>
<circle cx="273.20" cy="603.81" r="0.95" fill="#e41a1c"/>
<circle cx="271.50" cy="603.79" r="0.95" fill="#e41a1c"/>
<circle cx="272.22" cy="610.92" r="0.95" fill="#e41a1c"/>
<circle cx="271.37" cy="610.86" r="0.95" fill="#e41a1c"/>
<circle cx="275.94" cy="607.60" r="0.95" fill="#e41a1c"/>
<circle cx="274.75" cy="614.72" r="0.95" fill="#e41a1c"/>
<circle cx="271.66" cy="615.42" r="0.95" fill="#e41a1c"/>
<circle cx="273.41" cy="608.03" r="0.95" fill="#e41a1c"/>
<circle cx="274.70" cy="621.12" r="0.95" fill="#e41a1c"/>
<circle cx="274.30" cy="602.52" r="0.95" fill="#e41a1c"/>
<circle cx="273.15" cy="620.91" r="0.95" fill="#e41a1c"/>
<circle cx="271.55" cy="621.86" r="0.95" fill="#e41a1c"/>
<circle cx="270.83" cy="601.73" r="0.95" fill="#e41a1c"/>
<circle cx="273.56" cy="607.52" r="0.95" fill="#e41a1c"/>
<circle cx="274.73" cy="601.98" r="0.95" fill="#e41a1c"/>
<circle cx="273.58" cy="608.43" r="0.95" fill="#e41a1c"/>
<circle cx="273.67" cy="606.68" r="0.95" fill="#e41a1c"/>
<circle cx="273.48" cy="607.02" r="0.95" fill="#e41a1c"/>
<circle cx="270.98" cy="607.33" r="0.95" fill="#e41a1c"/>
<circle cx="272.58" cy="605.22" r="0.95" fill="#e41a1c"/>
<circle cx="270.26" cy="618.01" r="0.95" fill="#e41a1c"/>
<circle cx="269.84" cy="604.96" r="0.95" fill="#e41a1c"/>
<circle cx="275.54" cy="607.57" r="0.95" fill="#e41a1c"/>
<rect x="203.20" y="510.00" width="142.40" height="152.60" fill="none" stroke="#6a6a6a" stroke-width="1.1" />
<line x1="201.70" y1="552.00" x2="203.20" y2="552.00" stroke="#555" stroke-width="0.5" />
<text x="201.00" y="553.00" font-size="2.8" text-anchor="end" fill="#555"  stroke="#555" stroke-width="0.07">4</text>
<line x1="201.70" y1="603.70" x2="203.20" y2="603.70" stroke="#555" stroke-width="0.5" />
<text x="201.00" y="604.70" font-size="2.8" text-anchor="end" fill="#555"  stroke="#555" stroke-width="0.07">2</text>
<line x1="201.70" y1="655.60" x2="203.20" y2="655.60" stroke="#555" stroke-width="0.5" />
<text x="201.00" y="656.60" font-size="2.8" text-anchor="end" fill="#555"  stroke="#555" stroke-width="0.07">0</text>
<line x1="233.50" y1="662.60" x2="233.50" y2="664.10" stroke="#555" stroke-width="0.5" />
<text x="233.50" y="666.40" font-size="2.8" text-anchor="middle" fill="#555"  stroke="#555" stroke-width="0.07">-10</text>
<line x1="268.40" y1="662.60" x2="268.40" y2="664.10" stroke="#555" stroke-width="0.5" />
<text x="268.40" y="666.40" font-size="2.8" text-anchor="middle" fill="#555"  stroke="#555" stroke-width="0.07">0</text>
<line x1="303.30" y1="662.60" x2="303.30" y2="664.10" stroke="#555" stroke-width="0.5" />
<text x="303.30" y="666.40" font-size="2.8" text-anchor="middle" fill="#555"  stroke="#555" stroke-width="0.07">10</text>
<line x1="338.20" y1="662.60" x2="338.20" y2="664.10" stroke="#555" stroke-width="0.5" />
<text x="338.20" y="666.40" font-size="2.8" text-anchor="middle" fill="#555"  stroke="#555" stroke-width="0.07">20</text>
<text x="273.50" y="672.80" font-size="3.65" text-anchor="middle" fill="#1a1a1a" stroke="#1a1a1a" stroke-width="0.12">log2(Fold Change)</text>
<text x="195.00" y="585.20" font-size="3.5" text-anchor="middle" fill="#1a1a1a" stroke="#1a1a1a" stroke-width="0.12" transform="rotate(-90 195.00 585.20)" dy="1.2">-log10(P-value)</text>
<text x="351.00" y="566.90" font-size="3.6" text-anchor="start" fill="#222" stroke="#222" stroke-width="0.08">regulated</text>
<circle cx="353.60" cy="571.20" r="0.8" fill="#e41a1c"/>
<text x="357.20" y="572.20" font-size="3.0" text-anchor="start" fill="#555" stroke="none">up:244</text>
<circle cx="353.60" cy="577.20" r="0.8" fill="#3b6fd6"/>
<text x="357.20" y="578.20" font-size="3.0" text-anchor="start" fill="#555" stroke="none">down:16</text>
<circle cx="353.60" cy="583.20" r="0.8" fill="#8c8c8c"/>
<text x="357.20" y="584.20" font-size="3.0" text-anchor="start" fill="#555" stroke="none">unchanged:443</text>
<text x="351.00" y="596.40" font-size="3.6" text-anchor="start" fill="#222" stroke="#222" stroke-width="0.08">VIP</text>
<circle cx="353.60" cy="601.10" r="0.7" fill="#333"/>
<text x="357.20" y="602.10" font-size="3.0" text-anchor="start" fill="#555" stroke="none">0.0</text>
<circle cx="353.60" cy="606.60" r="1.1" fill="#111"/>
<text x="357.20" y="607.60" font-size="3.0" text-anchor="start" fill="#555" stroke="none">1.0</text>
<text x="193.9" y="511.0" font-family="Liberation Serif, serif" font-weight="bold" font-size="11.6" fill="#000" stroke="#000" stroke-width="0.3" textLength="5.6" lengthAdjust="spacingAndGlyphs">F</text>
<line x1="458.20" y1="511.40" x2="458.20" y2="662.50" stroke="#b8b8b8" stroke-width="0.6" stroke-dasharray="1,0.8"/>
<line x1="392.50" y1="620.20" x2="534.70" y2="620.20" stroke="#b8b8b8" stroke-width="0.6" stroke-dasharray="1,0.8"/>
<circle cx="457.28" cy="643.41" r="0.85" fill="#9a9a9a"/>
<circle cx="459.97" cy="627.30" r="0.85" fill="#9a9a9a"/>
<circle cx="455.67" cy="647.34" r="0.85" fill="#9a9a9a"/>
<circle cx="456.75" cy="645.78" r="0.85" fill="#9a9a9a"/>
<circle cx="459.85" cy="641.21" r="0.85" fill="#9a9a9a"/>
<circle cx="459.81" cy="633.72" r="0.85" fill="#9a9a9a"/>
<circle cx="458.37" cy="636.35" r="0.85" fill="#9a9a9a"/>
<circle cx="461.04" cy="655.10" r="0.85" fill="#9a9a9a"/>
<circle cx="462.58" cy="636.08" r="0.85" fill="#9a9a9a"/>
<circle cx="458.35" cy="623.89" r="0.85" fill="#9a9a9a"/>
<circle cx="458.84" cy="642.76" r="0.85" fill="#9a9a9a"/>
<circle cx="466.86" cy="635.49" r="0.85" fill="#9a9a9a"/>
<circle cx="455.69" cy="639.62" r="0.85" fill="#9a9a9a"/>
<circle cx="461.83" cy="641.86" r="0.85" fill="#9a9a9a"/>
<circle cx="460.56" cy="648.96" r="0.85" fill="#9a9a9a"/>
<circle cx="458.78" cy="651.11" r="0.85" fill="#9a9a9a"/>
<circle cx="458.87" cy="632.23" r="0.85" fill="#9a9a9a"/>
<circle cx="459.43" cy="652.18" r="0.85" fill="#9a9a9a"/>
<circle cx="458.60" cy="625.63" r="0.85" fill="#9a9a9a"/>
<circle cx="461.87" cy="651.92" r="0.85" fill="#9a9a9a"/>
<circle cx="459.04" cy="647.90" r="0.85" fill="#9a9a9a"/>
<circle cx="459.29" cy="630.46" r="0.85" fill="#9a9a9a"/>
<circle cx="459.92" cy="629.02" r="0.85" fill="#9a9a9a"/>
<circle cx="462.21" cy="631.17" r="0.85" fill="#9a9a9a"/>
<circle cx="456.01" cy="653.51" r="0.85" fill="#9a9a9a"/>
<circle cx="457.92" cy="634.18" r="0.85" fill="#9a9a9a"/>
<circle cx="454.83" cy="623.40" r="0.85" fill="#9a9a9a"/>
<circle cx="462.28" cy="647.48" r="0.85" fill="#9a9a9a"/>
<circle cx="457.86" cy="656.10" r="0.85" fill="#9a9a9a"/>
<circle cx="456.53" cy="655.98" r="0.85" fill="#9a9a9a"/>
<circle cx="455.58" cy="653.67" r="0.85" fill="#9a9a9a"/>
<circle cx="458.46" cy="645.46" r="0.85" fill="#9a9a9a"/>
<circle cx="456.72" cy="625.94" r="0.85" fill="#9a9a9a"/>
<circle cx="461.30" cy="639.24" r="0.85" fill="#9a9a9a"/>
<circle cx="459.86" cy="636.09" r="0.85" fill="#9a9a9a"/>
<circle cx="458.03" cy="640.93" r="0.85" fill="#9a9a9a"/>
<circle cx="457.12" cy="628.19" r="0.85" fill="#9a9a9a"/>
<circle cx="456.43" cy="643.60" r="0.85" fill="#9a9a9a"/>
<circle cx="455.68" cy="641.66" r="0.85" fill="#9a9a9a"/>
<circle cx="460.13" cy="642.81" r="0.85" fill="#9a9a9a"/>
<circle cx="450.62" cy="628.65" r="0.85" fill="#9a9a9a"/>
<circle cx="458.50" cy="636.38" r="0.85" fill="#9a9a9a"/>
<circle cx="460.33" cy="621.92" r="0.85" fill="#9a9a9a"/>
<circle cx="460.26" cy="631.53" r="0.85" fill="#9a9a9a"/>
<circle cx="456.31" cy="634.99" r="0.85" fill="#9a9a9a"/>
<circle cx="461.61" cy="621.80" r="0.85" fill="#9a9a9a"/>
<circle cx="455.72" cy="645.54" r="0.85" fill="#9a9a9a"/>
<circle cx="460.75" cy="641.29" r="0.85" fill="#9a9a9a"/>
<circle cx="456.76" cy="632.19" r="0.85" fill="#9a9a9a"/>
<circle cx="463.31" cy="635.14" r="0.85" fill="#9a9a9a"/>
<circle cx="455.97" cy="646.44" r="0.85" fill="#9a9a9a"/>
<circle cx="458.35" cy="656.44" r="0.85" fill="#9a9a9a"/>
<circle cx="462.02" cy="635.67" r="0.85" fill="#9a9a9a"/>
<circle cx="459.71" cy="627.53" r="0.85" fill="#9a9a9a"/>
<circle cx="458.22" cy="626.92" r="0.85" fill="#9a9a9a"/>
<circle cx="462.04" cy="627.68" r="0.85" fill="#9a9a9a"/>
<circle cx="456.32" cy="646.78" r="0.85" fill="#9a9a9a"/>
<circle cx="460.88" cy="626.28" r="0.85" fill="#9a9a9a"/>
<circle cx="453.54" cy="624.06" r="0.85" fill="#9a9a9a"/>
<circle cx="461.48" cy="644.19" r="0.85" fill="#9a9a9a"/>
<circle cx="461.20" cy="628.19" r="0.85" fill="#9a9a9a"/>
<circle cx="458.61" cy="649.38" r="0.85" fill="#9a9a9a"/>
<circle cx="453.25" cy="648.19" r="0.85" fill="#9a9a9a"/>
<circle cx="457.26" cy="634.96" r="0.85" fill="#9a9a9a"/>
<circle cx="456.34" cy="649.17" r="0.85" fill="#9a9a9a"/>
<circle cx="458.66" cy="647.46" r="0.85" fill="#9a9a9a"/>
<circle cx="453.75" cy="640.18" r="0.85" fill="#9a9a9a"/>
<circle cx="459.74" cy="653.39" r="0.85" fill="#9a9a9a"/>
<circle cx="454.89" cy="648.23" r="0.85" fill="#9a9a9a"/>
<circle cx="463.89" cy="635.92" r="0.85" fill="#9a9a9a"/>
<circle cx="455.06" cy="637.97" r="0.85" fill="#9a9a9a"/>
<circle cx="457.18" cy="639.58" r="0.85" fill="#9a9a9a"/>
<circle cx="457.83" cy="649.67" r="0.85" fill="#9a9a9a"/>
<circle cx="457.96" cy="650.09" r="0.85" fill="#9a9a9a"/>
<circle cx="456.03" cy="636.46" r="0.85" fill="#9a9a9a"/>
<circle cx="457.18" cy="642.21" r="0.85" fill="#9a9a9a"/>
<circle cx="458.41" cy="654.92" r="0.85" fill="#9a9a9a"/>
<circle cx="457.67" cy="621.10" r="0.85" fill="#9a9a9a"/>
<circle cx="459.89" cy="634.04" r="0.85" fill="#9a9a9a"/>
<circle cx="461.54" cy="628.55" r="0.85" fill="#9a9a9a"/>
<circle cx="461.54" cy="644.26" r="0.85" fill="#9a9a9a"/>
<circle cx="459.52" cy="638.06" r="0.85" fill="#9a9a9a"/>
<circle cx="459.13" cy="621.34" r="0.85" fill="#9a9a9a"/>
<circle cx="454.16" cy="625.75" r="0.85" fill="#9a9a9a"/>
<circle cx="458.89" cy="647.21" r="0.85" fill="#9a9a9a"/>
<circle cx="451.29" cy="628.84" r="0.85" fill="#9a9a9a"/>
<circle cx="462.67" cy="629.26" r="0.85" fill="#9a9a9a"/>
<circle cx="461.59" cy="627.43" r="0.85" fill="#9a9a9a"/>
<circle cx="458.19" cy="655.16" r="0.85" fill="#9a9a9a"/>
<circle cx="459.00" cy="649.36" r="0.85" fill="#9a9a9a"/>
<circle cx="459.25" cy="654.69" r="0.85" fill="#9a9a9a"/>
<circle cx="461.08" cy="636.71" r="0.85" fill="#9a9a9a"/>
<circle cx="455.85" cy="622.87" r="0.85" fill="#9a9a9a"/>
<circle cx="463.68" cy="624.20" r="0.85" fill="#9a9a9a"/>
<circle cx="460.12" cy="642.39" r="0.85" fill="#9a9a9a"/>
<circle cx="460.10" cy="652.24" r="0.85" fill="#9a9a9a"/>
<circle cx="458.19" cy="636.46" r="0.85" fill="#9a9a9a"/>
<circle cx="463.42" cy="633.76" r="0.85" fill="#9a9a9a"/>
<circle cx="457.62" cy="642.54" r="0.85" fill="#9a9a9a"/>
<circle cx="462.61" cy="640.58" r="0.85" fill="#9a9a9a"/>
<circle cx="467.72" cy="621.29" r="0.85" fill="#9a9a9a"/>
<circle cx="460.32" cy="648.63" r="0.85" fill="#9a9a9a"/>
<circle cx="459.15" cy="644.00" r="0.85" fill="#9a9a9a"/>
<circle cx="464.91" cy="624.45" r="0.85" fill="#9a9a9a"/>
<circle cx="456.48" cy="654.83" r="0.85" fill="#9a9a9a"/>
<circle cx="457.61" cy="628.58" r="0.85" fill="#9a9a9a"/>
<circle cx="453.45" cy="621.52" r="0.85" fill="#9a9a9a"/>
<circle cx="460.51" cy="654.52" r="0.85" fill="#9a9a9a"/>
<circle cx="464.09" cy="623.15" r="0.85" fill="#9a9a9a"/>
<circle cx="457.51" cy="632.47" r="0.85" fill="#9a9a9a"/>
<circle cx="463.30" cy="629.59" r="0.85" fill="#9a9a9a"/>
<circle cx="457.85" cy="652.76" r="0.85" fill="#9a9a9a"/>
<circle cx="459.99" cy="652.09" r="0.85" fill="#9a9a9a"/>
<circle cx="459.77" cy="639.41" r="0.85" fill="#9a9a9a"/>
<circle cx="459.93" cy="651.42" r="0.85" fill="#9a9a9a"/>
<circle cx="464.05" cy="632.44" r="0.85" fill="#9a9a9a"/>
<circle cx="458.88" cy="649.57" r="0.85" fill="#9a9a9a"/>
<circle cx="459.71" cy="655.22" r="0.85" fill="#9a9a9a"/>
<circle cx="457.77" cy="623.34" r="0.85" fill="#9a9a9a"/>
<circle cx="460.49" cy="625.73" r="0.85" fill="#9a9a9a"/>
<circle cx="457.74" cy="640.62" r="0.85" fill="#9a9a9a"/>
<circle cx="462.04" cy="653.06" r="0.85" fill="#9a9a9a"/>
<circle cx="456.17" cy="634.19" r="0.85" fill="#9a9a9a"/>
<circle cx="455.94" cy="640.44" r="0.85" fill="#9a9a9a"/>
<circle cx="463.22" cy="639.55" r="0.85" fill="#9a9a9a"/>
<circle cx="460.22" cy="634.20" r="0.85" fill="#9a9a9a"/>
<circle cx="459.59" cy="654.49" r="0.85" fill="#9a9a9a"/>
<circle cx="457.08" cy="631.16" r="0.85" fill="#9a9a9a"/>
<circle cx="458.25" cy="625.59" r="0.85" fill="#9a9a9a"/>
<circle cx="457.45" cy="647.04" r="0.85" fill="#9a9a9a"/>
<circle cx="459.37" cy="646.88" r="0.85" fill="#9a9a9a"/>
<circle cx="457.80" cy="626.70" r="0.85" fill="#9a9a9a"/>
<circle cx="460.25" cy="639.07" r="0.85" fill="#9a9a9a"/>
<circle cx="459.67" cy="645.21" r="0.85" fill="#9a9a9a"/>
<circle cx="457.88" cy="621.76" r="0.85" fill="#9a9a9a"/>
<circle cx="460.79" cy="654.48" r="0.85" fill="#9a9a9a"/>
<circle cx="456.54" cy="649.00" r="0.85" fill="#9a9a9a"/>
<circle cx="458.24" cy="639.55" r="0.85" fill="#9a9a9a"/>
<circle cx="460.29" cy="649.34" r="0.85" fill="#9a9a9a"/>
<circle cx="467.87" cy="643.57" r="0.85" fill="#9a9a9a"/>
<circle cx="458.20" cy="623.66" r="0.85" fill="#9a9a9a"/>
<circle cx="457.50" cy="653.04" r="0.85" fill="#9a9a9a"/>
<circle cx="462.50" cy="654.46" r="0.85" fill="#9a9a9a"/>
<circle cx="456.32" cy="630.71" r="0.85" fill="#9a9a9a"/>
<circle cx="463.41" cy="655.93" r="0.85" fill="#9a9a9a"/>
<circle cx="457.84" cy="627.85" r="0.85" fill="#9a9a9a"/>
<circle cx="459.34" cy="656.43" r="0.85" fill="#9a9a9a"/>
<circle cx="456.62" cy="626.96" r="0.85" fill="#9a9a9a"/>
<circle cx="458.42" cy="641.05" r="0.85" fill="#9a9a9a"/>
<circle cx="459.94" cy="624.12" r="0.85" fill="#9a9a9a"/>
<circle cx="461.25" cy="651.60" r="0.85" fill="#9a9a9a"/>
<circle cx="459.03" cy="650.11" r="0.85" fill="#9a9a9a"/>
<circle cx="455.11" cy="649.52" r="0.85" fill="#9a9a9a"/>
<circle cx="460.85" cy="653.69" r="0.85" fill="#9a9a9a"/>
<circle cx="460.81" cy="638.91" r="0.85" fill="#9a9a9a"/>
<circle cx="459.54" cy="646.78" r="0.85" fill="#9a9a9a"/>
<circle cx="463.30" cy="631.37" r="0.85" fill="#9a9a9a"/>
<circle cx="456.82" cy="627.69" r="0.85" fill="#9a9a9a"/>
<circle cx="457.88" cy="654.17" r="0.85" fill="#9a9a9a"/>
<circle cx="454.29" cy="630.49" r="0.85" fill="#9a9a9a"/>
<circle cx="460.21" cy="654.53" r="0.85" fill="#9a9a9a"/>
<circle cx="455.39" cy="627.72" r="0.85" fill="#9a9a9a"/>
<circle cx="465.05" cy="625.81" r="0.85" fill="#9a9a9a"/>
<circle cx="465.05" cy="639.00" r="0.85" fill="#9a9a9a"/>
<circle cx="459.34" cy="639.58" r="0.85" fill="#9a9a9a"/>
<circle cx="458.69" cy="625.54" r="0.85" fill="#9a9a9a"/>
<circle cx="461.23" cy="626.98" r="0.85" fill="#9a9a9a"/>
<circle cx="459.98" cy="643.47" r="0.85" fill="#9a9a9a"/>
<circle cx="461.36" cy="635.38" r="0.85" fill="#9a9a9a"/>
<circle cx="456.55" cy="656.34" r="0.85" fill="#9a9a9a"/>
<circle cx="458.36" cy="638.20" r="0.85" fill="#9a9a9a"/>
<circle cx="457.72" cy="652.21" r="0.85" fill="#9a9a9a"/>
<circle cx="452.28" cy="625.78" r="0.85" fill="#9a9a9a"/>
<circle cx="458.07" cy="645.11" r="0.85" fill="#9a9a9a"/>
<circle cx="455.59" cy="629.83" r="0.85" fill="#9a9a9a"/>
<circle cx="461.88" cy="654.33" r="0.85" fill="#9a9a9a"/>
<circle cx="453.61" cy="638.93" r="0.85" fill="#9a9a9a"/>
<circle cx="455.19" cy="638.28" r="0.85" fill="#9a9a9a"/>
<circle cx="458.07" cy="655.77" r="0.85" fill="#9a9a9a"/>
<circle cx="459.39" cy="622.16" r="0.85" fill="#9a9a9a"/>
<circle cx="459.82" cy="652.86" r="0.85" fill="#9a9a9a"/>
<circle cx="458.86" cy="647.61" r="0.85" fill="#9a9a9a"/>
<circle cx="458.09" cy="653.08" r="0.85" fill="#9a9a9a"/>
<circle cx="459.06" cy="631.69" r="0.85" fill="#9a9a9a"/>
<circle cx="459.35" cy="635.22" r="0.85" fill="#9a9a9a"/>
<circle cx="454.06" cy="636.03" r="0.85" fill="#9a9a9a"/>
<circle cx="458.10" cy="652.85" r="0.85" fill="#9a9a9a"/>
<circle cx="458.70" cy="625.63" r="0.85" fill="#9a9a9a"/>
<circle cx="457.95" cy="652.13" r="0.85" fill="#9a9a9a"/>
<circle cx="456.41" cy="638.98" r="0.85" fill="#9a9a9a"/>
<circle cx="458.55" cy="652.17" r="0.85" fill="#9a9a9a"/>
<circle cx="461.05" cy="642.10" r="0.85" fill="#9a9a9a"/>
<circle cx="462.68" cy="625.93" r="0.85" fill="#9a9a9a"/>
<circle cx="455.42" cy="651.27" r="0.85" fill="#9a9a9a"/>
<circle cx="457.00" cy="650.67" r="0.85" fill="#9a9a9a"/>
<circle cx="462.23" cy="627.18" r="0.85" fill="#9a9a9a"/>
<circle cx="457.68" cy="641.57" r="0.85" fill="#9a9a9a"/>
<circle cx="455.31" cy="626.69" r="0.85" fill="#9a9a9a"/>
<circle cx="458.35" cy="623.08" r="0.85" fill="#9a9a9a"/>
<circle cx="457.51" cy="628.92" r="0.85" fill="#9a9a9a"/>
<circle cx="472.45" cy="643.61" r="0.85" fill="#9a9a9a"/>
<circle cx="495.91" cy="640.19" r="0.85" fill="#9a9a9a"/>
<circle cx="462.14" cy="623.97" r="0.85" fill="#9a9a9a"/>
<circle cx="472.14" cy="627.29" r="0.85" fill="#9a9a9a"/>
<circle cx="458.78" cy="637.41" r="0.85" fill="#9a9a9a"/>
<circle cx="488.78" cy="622.43" r="0.85" fill="#9a9a9a"/>
<circle cx="457.80" cy="640.65" r="0.85" fill="#9a9a9a"/>
<circle cx="447.27" cy="633.49" r="0.85" fill="#9a9a9a"/>
<circle cx="469.37" cy="652.65" r="0.85" fill="#9a9a9a"/>
<circle cx="459.62" cy="640.28" r="0.85" fill="#9a9a9a"/>
<circle cx="460.32" cy="650.26" r="0.85" fill="#9a9a9a"/>
<circle cx="480.17" cy="622.03" r="0.85" fill="#9a9a9a"/>
<circle cx="413.64" cy="633.47" r="0.85" fill="#9a9a9a"/>
<circle cx="507.48" cy="627.48" r="0.85" fill="#9a9a9a"/>
<circle cx="445.92" cy="653.83" r="0.85" fill="#9a9a9a"/>
<circle cx="462.07" cy="633.19" r="0.85" fill="#9a9a9a"/>
<circle cx="483.83" cy="645.70" r="0.85" fill="#9a9a9a"/>
<circle cx="489.69" cy="636.56" r="0.85" fill="#9a9a9a"/>
<circle cx="452.41" cy="646.48" r="0.85" fill="#9a9a9a"/>
<circle cx="419.47" cy="637.31" r="0.85" fill="#9a9a9a"/>
<circle cx="476.81" cy="645.22" r="0.85" fill="#9a9a9a"/>
<circle cx="457.37" cy="644.62" r="0.85" fill="#9a9a9a"/>
<circle cx="456.24" cy="634.79" r="0.85" fill="#9a9a9a"/>
<circle cx="445.66" cy="622.49" r="0.85" fill="#9a9a9a"/>
<circle cx="462.38" cy="639.14" r="0.85" fill="#9a9a9a"/>
<circle cx="470.53" cy="636.85" r="0.85" fill="#9a9a9a"/>
<circle cx="465.17" cy="650.53" r="0.85" fill="#9a9a9a"/>
<circle cx="451.52" cy="645.02" r="0.85" fill="#9a9a9a"/>
<circle cx="467.88" cy="646.72" r="0.85" fill="#9a9a9a"/>
<circle cx="440.00" cy="652.01" r="0.85" fill="#9a9a9a"/>
<circle cx="453.13" cy="634.26" r="0.85" fill="#9a9a9a"/>
<circle cx="456.46" cy="635.61" r="0.85" fill="#9a9a9a"/>
<circle cx="453.11" cy="630.85" r="0.85" fill="#9a9a9a"/>
<circle cx="439.04" cy="639.33" r="0.85" fill="#9a9a9a"/>
<circle cx="455.97" cy="639.06" r="0.85" fill="#9a9a9a"/>
<circle cx="462.64" cy="644.44" r="0.85" fill="#9a9a9a"/>
<circle cx="478.10" cy="637.58" r="0.85" fill="#9a9a9a"/>
<circle cx="460.57" cy="641.97" r="0.85" fill="#9a9a9a"/>
<circle cx="461.23" cy="643.01" r="0.85" fill="#9a9a9a"/>
<circle cx="470.10" cy="625.70" r="0.85" fill="#9a9a9a"/>
<circle cx="488.49" cy="638.29" r="0.85" fill="#9a9a9a"/>
<circle cx="474.35" cy="645.32" r="0.85" fill="#9a9a9a"/>
<circle cx="465.07" cy="628.75" r="0.85" fill="#9a9a9a"/>
<circle cx="483.39" cy="649.61" r="0.85" fill="#9a9a9a"/>
<circle cx="478.45" cy="640.04" r="0.85" fill="#9a9a9a"/>
<circle cx="451.17" cy="652.89" r="0.85" fill="#9a9a9a"/>
<circle cx="483.40" cy="630.00" r="0.85" fill="#9a9a9a"/>
<circle cx="464.53" cy="651.29" r="0.85" fill="#9a9a9a"/>
<circle cx="527.66" cy="629.89" r="0.85" fill="#9a9a9a"/>
<circle cx="454.61" cy="649.75" r="0.85" fill="#9a9a9a"/>
<circle cx="484.22" cy="632.04" r="0.85" fill="#9a9a9a"/>
<circle cx="489.09" cy="634.05" r="0.85" fill="#9a9a9a"/>
<circle cx="434.34" cy="637.40" r="0.85" fill="#9a9a9a"/>
<circle cx="464.64" cy="629.88" r="0.85" fill="#9a9a9a"/>
<circle cx="431.73" cy="638.84" r="0.85" fill="#9a9a9a"/>
<circle cx="452.29" cy="628.31" r="0.85" fill="#9a9a9a"/>
<circle cx="435.25" cy="650.67" r="0.85" fill="#9a9a9a"/>
<circle cx="514.18" cy="625.39" r="0.85" fill="#9a9a9a"/>
<circle cx="465.84" cy="635.08" r="0.85" fill="#9a9a9a"/>
<circle cx="488.63" cy="638.07" r="0.85" fill="#9a9a9a"/>
<circle cx="457.81" cy="640.79" r="0.85" fill="#9a9a9a"/>
<circle cx="491.10" cy="628.35" r="0.85" fill="#9a9a9a"/>
<circle cx="446.16" cy="642.09" r="0.85" fill="#9a9a9a"/>
<circle cx="434.91" cy="639.62" r="0.85" fill="#9a9a9a"/>
<circle cx="468.28" cy="645.04" r="0.85" fill="#9a9a9a"/>
<circle cx="446.97" cy="641.72" r="0.85" fill="#9a9a9a"/>
<circle cx="456.93" cy="644.05" r="0.85" fill="#9a9a9a"/>
<circle cx="484.46" cy="628.24" r="0.85" fill="#9a9a9a"/>
<circle cx="445.96" cy="639.90" r="0.85" fill="#9a9a9a"/>
<circle cx="458.44" cy="648.74" r="0.85" fill="#9a9a9a"/>
<circle cx="475.88" cy="635.44" r="0.85" fill="#9a9a9a"/>
<circle cx="505.42" cy="635.23" r="0.85" fill="#9a9a9a"/>
<circle cx="480.88" cy="643.99" r="0.85" fill="#9a9a9a"/>
<circle cx="502.91" cy="626.32" r="0.85" fill="#9a9a9a"/>
<circle cx="432.50" cy="648.05" r="0.85" fill="#9a9a9a"/>
<circle cx="465.49" cy="640.50" r="0.85" fill="#9a9a9a"/>
<circle cx="458.69" cy="653.39" r="0.85" fill="#9a9a9a"/>
<circle cx="417.73" cy="635.79" r="0.85" fill="#9a9a9a"/>
<circle cx="467.68" cy="628.70" r="0.85" fill="#9a9a9a"/>
<circle cx="488.90" cy="636.69" r="0.85" fill="#9a9a9a"/>
<circle cx="463.92" cy="637.41" r="0.85" fill="#9a9a9a"/>
<circle cx="448.94" cy="631.70" r="0.85" fill="#9a9a9a"/>
<circle cx="477.88" cy="634.78" r="0.85" fill="#9a9a9a"/>
<circle cx="485.80" cy="643.06" r="0.85" fill="#9a9a9a"/>
<circle cx="454.58" cy="637.14" r="0.85" fill="#9a9a9a"/>
<circle cx="452.09" cy="651.64" r="0.85" fill="#9a9a9a"/>
<circle cx="479.55" cy="635.91" r="0.85" fill="#9a9a9a"/>
<circle cx="504.36" cy="635.48" r="0.85" fill="#9a9a9a"/>
<circle cx="429.84" cy="638.45" r="0.85" fill="#9a9a9a"/>
<circle cx="420.30" cy="640.03" r="0.85" fill="#9a9a9a"/>
<circle cx="424.33" cy="643.33" r="0.85" fill="#9a9a9a"/>
<circle cx="469.26" cy="636.98" r="0.85" fill="#9a9a9a"/>
<circle cx="453.40" cy="644.19" r="0.85" fill="#9a9a9a"/>
<circle cx="485.07" cy="621.73" r="0.85" fill="#9a9a9a"/>
<circle cx="448.05" cy="651.24" r="0.85" fill="#9a9a9a"/>
<circle cx="448.95" cy="624.59" r="0.85" fill="#9a9a9a"/>
<circle cx="417.57" cy="621.33" r="0.85" fill="#9a9a9a"/>
<circle cx="453.71" cy="624.80" r="0.85" fill="#9a9a9a"/>
<circle cx="466.10" cy="645.14" r="0.85" fill="#9a9a9a"/>
<circle cx="451.38" cy="637.61" r="0.85" fill="#9a9a9a"/>
<circle cx="460.57" cy="648.80" r="0.85" fill="#9a9a9a"/>
<circle cx="448.75" cy="633.58" r="0.85" fill="#9a9a9a"/>
<circle cx="452.11" cy="621.21" r="0.85" fill="#9a9a9a"/>
<circle cx="487.58" cy="633.36" r="0.85" fill="#9a9a9a"/>
<circle cx="473.79" cy="628.22" r="0.85" fill="#9a9a9a"/>
<circle cx="461.57" cy="644.57" r="0.85" fill="#9a9a9a"/>
<circle cx="460.77" cy="644.65" r="0.85" fill="#9a9a9a"/>
<circle cx="433.46" cy="626.37" r="0.85" fill="#9a9a9a"/>
<circle cx="450.91" cy="648.31" r="0.85" fill="#9a9a9a"/>
<circle cx="449.53" cy="638.07" r="0.85" fill="#9a9a9a"/>
<circle cx="459.64" cy="633.01" r="0.85" fill="#9a9a9a"/>
<circle cx="490.67" cy="636.93" r="0.85" fill="#9a9a9a"/>
<circle cx="462.69" cy="641.02" r="0.85" fill="#9a9a9a"/>
<circle cx="471.00" cy="650.87" r="0.85" fill="#9a9a9a"/>
<circle cx="475.88" cy="651.37" r="0.85" fill="#9a9a9a"/>
<circle cx="466.46" cy="651.60" r="0.85" fill="#9a9a9a"/>
<circle cx="495.29" cy="627.01" r="0.85" fill="#9a9a9a"/>
<circle cx="467.86" cy="634.16" r="0.85" fill="#9a9a9a"/>
<circle cx="456.02" cy="654.58" r="0.85" fill="#9a9a9a"/>
<circle cx="449.07" cy="628.80" r="0.85" fill="#9a9a9a"/>
<circle cx="485.91" cy="642.97" r="0.85" fill="#9a9a9a"/>
<circle cx="460.10" cy="649.24" r="0.85" fill="#9a9a9a"/>
<circle cx="480.78" cy="624.27" r="0.85" fill="#9a9a9a"/>
<circle cx="451.31" cy="635.20" r="0.85" fill="#9a9a9a"/>
<circle cx="478.06" cy="641.89" r="0.85" fill="#9a9a9a"/>
<circle cx="469.91" cy="653.14" r="0.85" fill="#9a9a9a"/>
<circle cx="444.13" cy="622.37" r="0.85" fill="#9a9a9a"/>
<circle cx="453.34" cy="640.05" r="0.85" fill="#9a9a9a"/>
<circle cx="454.29" cy="653.50" r="0.85" fill="#9a9a9a"/>
<circle cx="483.49" cy="623.35" r="0.85" fill="#9a9a9a"/>
<circle cx="448.81" cy="624.44" r="0.85" fill="#9a9a9a"/>
<circle cx="455.41" cy="627.26" r="0.85" fill="#9a9a9a"/>
<circle cx="505.98" cy="622.36" r="0.85" fill="#9a9a9a"/>
<circle cx="477.72" cy="638.15" r="0.85" fill="#9a9a9a"/>
<circle cx="458.91" cy="641.75" r="0.85" fill="#9a9a9a"/>
<circle cx="469.89" cy="630.57" r="0.85" fill="#9a9a9a"/>
<circle cx="490.92" cy="625.24" r="0.85" fill="#9a9a9a"/>
<circle cx="467.64" cy="638.53" r="0.85" fill="#9a9a9a"/>
<circle cx="451.63" cy="649.10" r="0.85" fill="#9a9a9a"/>
<circle cx="479.70" cy="642.81" r="0.85" fill="#9a9a9a"/>
<circle cx="499.05" cy="645.12" r="0.85" fill="#9a9a9a"/>
<circle cx="483.89" cy="635.91" r="0.85" fill="#9a9a9a"/>
<circle cx="476.81" cy="641.89" r="0.85" fill="#9a9a9a"/>
<circle cx="471.25" cy="641.29" r="0.85" fill="#9a9a9a"/>
<circle cx="472.66" cy="626.92" r="0.85" fill="#9a9a9a"/>
<circle cx="462.85" cy="643.06" r="0.85" fill="#9a9a9a"/>
<circle cx="471.57" cy="645.36" r="0.85" fill="#9a9a9a"/>
<circle cx="481.53" cy="646.94" r="0.85" fill="#9a9a9a"/>
<circle cx="467.61" cy="643.39" r="0.85" fill="#9a9a9a"/>
<circle cx="459.08" cy="649.70" r="0.85" fill="#9a9a9a"/>
<circle cx="455.48" cy="645.83" r="0.85" fill="#9a9a9a"/>
<circle cx="487.30" cy="626.61" r="0.85" fill="#9a9a9a"/>
<circle cx="488.05" cy="626.57" r="0.85" fill="#9a9a9a"/>
<circle cx="480.10" cy="627.63" r="0.85" fill="#9a9a9a"/>
<circle cx="485.21" cy="630.44" r="0.85" fill="#9a9a9a"/>
<circle cx="473.93" cy="642.19" r="0.85" fill="#9a9a9a"/>
<circle cx="463.40" cy="622.67" r="0.85" fill="#9a9a9a"/>
<circle cx="467.11" cy="637.84" r="0.85" fill="#9a9a9a"/>
<circle cx="473.08" cy="650.55" r="0.85" fill="#9a9a9a"/>
<circle cx="462.61" cy="630.98" r="0.85" fill="#9a9a9a"/>
<circle cx="510.53" cy="635.02" r="0.85" fill="#9a9a9a"/>
<circle cx="463.22" cy="642.49" r="0.85" fill="#9a9a9a"/>
<circle cx="479.55" cy="647.77" r="0.85" fill="#9a9a9a"/>
<circle cx="491.22" cy="625.34" r="0.85" fill="#9a9a9a"/>
<circle cx="481.48" cy="636.55" r="0.85" fill="#9a9a9a"/>
<circle cx="463.67" cy="645.81" r="0.85" fill="#9a9a9a"/>
<circle cx="443.30" cy="632.64" r="0.85" fill="#9a9a9a"/>
<circle cx="456.92" cy="635.70" r="0.85" fill="#9a9a9a"/>
<circle cx="469.83" cy="652.07" r="0.85" fill="#9a9a9a"/>
<circle cx="467.41" cy="648.98" r="0.85" fill="#9a9a9a"/>
<circle cx="449.39" cy="632.47" r="0.85" fill="#9a9a9a"/>
<circle cx="450.20" cy="651.30" r="0.85" fill="#9a9a9a"/>
<circle cx="456.99" cy="637.99" r="0.85" fill="#9a9a9a"/>
<circle cx="474.02" cy="644.90" r="0.85" fill="#9a9a9a"/>
<circle cx="466.04" cy="647.30" r="0.85" fill="#9a9a9a"/>
<circle cx="458.29" cy="650.71" r="0.85" fill="#9a9a9a"/>
<circle cx="449.11" cy="641.29" r="0.85" fill="#9a9a9a"/>
<circle cx="477.19" cy="624.10" r="0.85" fill="#9a9a9a"/>
<circle cx="412.22" cy="625.72" r="0.85" fill="#9a9a9a"/>
<circle cx="459.84" cy="650.51" r="0.85" fill="#9a9a9a"/>
<circle cx="471.42" cy="631.89" r="0.85" fill="#9a9a9a"/>
<circle cx="451.56" cy="632.44" r="0.85" fill="#9a9a9a"/>
<circle cx="484.53" cy="632.59" r="0.85" fill="#9a9a9a"/>
<circle cx="466.45" cy="631.23" r="0.85" fill="#9a9a9a"/>
<circle cx="494.27" cy="643.03" r="0.85" fill="#9a9a9a"/>
<circle cx="469.86" cy="633.62" r="0.85" fill="#9a9a9a"/>
<circle cx="480.80" cy="623.97" r="0.85" fill="#9a9a9a"/>
<circle cx="464.71" cy="630.04" r="0.85" fill="#9a9a9a"/>
<circle cx="456.65" cy="653.64" r="0.85" fill="#9a9a9a"/>
<circle cx="464.00" cy="649.49" r="0.85" fill="#9a9a9a"/>
<circle cx="476.49" cy="642.05" r="0.85" fill="#9a9a9a"/>
<circle cx="454.16" cy="653.67" r="0.85" fill="#9a9a9a"/>
<circle cx="477.70" cy="648.89" r="0.85" fill="#9a9a9a"/>
<circle cx="429.15" cy="626.46" r="0.85" fill="#9a9a9a"/>
<circle cx="451.82" cy="646.34" r="0.85" fill="#9a9a9a"/>
<circle cx="456.61" cy="640.21" r="0.85" fill="#9a9a9a"/>
<circle cx="451.35" cy="654.97" r="0.85" fill="#9a9a9a"/>
<circle cx="470.95" cy="626.63" r="0.85" fill="#9a9a9a"/>
<circle cx="451.41" cy="653.54" r="0.85" fill="#9a9a9a"/>
<circle cx="460.99" cy="625.96" r="0.85" fill="#9a9a9a"/>
<circle cx="458.69" cy="646.69" r="0.85" fill="#9a9a9a"/>
<circle cx="462.12" cy="651.22" r="0.85" fill="#9a9a9a"/>
<circle cx="449.43" cy="623.91" r="0.85" fill="#9a9a9a"/>
<circle cx="499.16" cy="629.52" r="0.85" fill="#9a9a9a"/>
<circle cx="476.64" cy="641.62" r="0.85" fill="#9a9a9a"/>
<circle cx="476.00" cy="629.58" r="0.85" fill="#9a9a9a"/>
<circle cx="452.11" cy="651.94" r="0.85" fill="#9a9a9a"/>
<circle cx="409.30" cy="622.82" r="0.85" fill="#9a9a9a"/>
<circle cx="490.87" cy="631.48" r="0.85" fill="#9a9a9a"/>
<circle cx="482.99" cy="629.89" r="0.85" fill="#9a9a9a"/>
<circle cx="440.71" cy="639.61" r="0.85" fill="#9a9a9a"/>
<circle cx="456.12" cy="653.15" r="0.85" fill="#9a9a9a"/>
<circle cx="444.33" cy="637.60" r="0.85" fill="#9a9a9a"/>
<circle cx="501.84" cy="623.44" r="0.85" fill="#9a9a9a"/>
<circle cx="471.51" cy="653.51" r="0.85" fill="#9a9a9a"/>
<circle cx="472.37" cy="631.11" r="0.85" fill="#9a9a9a"/>
<circle cx="449.50" cy="636.42" r="0.85" fill="#9a9a9a"/>
<circle cx="444.81" cy="622.04" r="0.85" fill="#9a9a9a"/>
<circle cx="447.92" cy="646.51" r="0.85" fill="#9a9a9a"/>
<circle cx="452.98" cy="652.98" r="0.85" fill="#9a9a9a"/>
<circle cx="471.63" cy="648.15" r="0.85" fill="#9a9a9a"/>
<circle cx="478.01" cy="644.44" r="0.85" fill="#9a9a9a"/>
<circle cx="493.06" cy="632.21" r="0.85" fill="#9a9a9a"/>
<circle cx="462.26" cy="646.91" r="0.85" fill="#9a9a9a"/>
<circle cx="485.50" cy="639.87" r="0.85" fill="#9a9a9a"/>
<circle cx="453.97" cy="623.18" r="0.85" fill="#9a9a9a"/>
<circle cx="486.54" cy="624.92" r="0.85" fill="#9a9a9a"/>
<circle cx="450.47" cy="650.18" r="0.85" fill="#9a9a9a"/>
<circle cx="458.04" cy="627.28" r="0.85" fill="#9a9a9a"/>
<circle cx="465.31" cy="636.36" r="0.85" fill="#9a9a9a"/>
<circle cx="451.69" cy="632.34" r="0.85" fill="#9a9a9a"/>
<circle cx="429.30" cy="634.64" r="0.85" fill="#9a9a9a"/>
<circle cx="478.20" cy="626.74" r="0.85" fill="#9a9a9a"/>
<circle cx="457.51" cy="651.11" r="0.85" fill="#9a9a9a"/>
<circle cx="473.29" cy="647.98" r="0.85" fill="#9a9a9a"/>
<circle cx="458.29" cy="652.95" r="0.85" fill="#9a9a9a"/>
<circle cx="481.45" cy="631.14" r="0.85" fill="#9a9a9a"/>
<circle cx="475.85" cy="639.77" r="0.85" fill="#9a9a9a"/>
<circle cx="474.56" cy="639.07" r="0.85" fill="#9a9a9a"/>
<circle cx="465.79" cy="642.66" r="0.85" fill="#9a9a9a"/>
<circle cx="462.21" cy="654.63" r="0.85" fill="#9a9a9a"/>
<circle cx="468.96" cy="621.27" r="0.85" fill="#9a9a9a"/>
<circle cx="456.09" cy="630.62" r="0.85" fill="#9a9a9a"/>
<circle cx="455.72" cy="621.67" r="0.85" fill="#9a9a9a"/>
<circle cx="460.29" cy="638.38" r="0.85" fill="#9a9a9a"/>
<circle cx="471.72" cy="640.24" r="0.85" fill="#9a9a9a"/>
<circle cx="469.75" cy="654.72" r="0.85" fill="#9a9a9a"/>
<circle cx="443.70" cy="623.74" r="0.85" fill="#9a9a9a"/>
<circle cx="436.61" cy="623.20" r="0.85" fill="#9a9a9a"/>
<circle cx="465.37" cy="632.81" r="0.85" fill="#9a9a9a"/>
<circle cx="469.34" cy="650.29" r="0.85" fill="#9a9a9a"/>
<circle cx="462.08" cy="654.06" r="0.85" fill="#9a9a9a"/>
<circle cx="433.18" cy="644.93" r="0.85" fill="#9a9a9a"/>
<circle cx="444.73" cy="648.69" r="0.85" fill="#9a9a9a"/>
<circle cx="426.29" cy="623.49" r="0.85" fill="#9a9a9a"/>
<circle cx="465.78" cy="649.27" r="0.85" fill="#9a9a9a"/>
<circle cx="421.20" cy="629.76" r="0.85" fill="#9a9a9a"/>
<circle cx="474.11" cy="643.89" r="0.85" fill="#9a9a9a"/>
<circle cx="489.12" cy="644.11" r="0.85" fill="#9a9a9a"/>
<circle cx="447.44" cy="642.47" r="0.85" fill="#9a9a9a"/>
<circle cx="459.29" cy="626.73" r="0.85" fill="#9a9a9a"/>
<circle cx="478.93" cy="646.86" r="0.85" fill="#9a9a9a"/>
<circle cx="472.64" cy="633.64" r="0.85" fill="#9a9a9a"/>
<circle cx="451.52" cy="627.13" r="0.85" fill="#9a9a9a"/>
<circle cx="408.26" cy="622.87" r="0.85" fill="#9a9a9a"/>
<circle cx="452.60" cy="638.19" r="0.85" fill="#9a9a9a"/>
<circle cx="462.02" cy="644.81" r="0.85" fill="#9a9a9a"/>
<circle cx="493.15" cy="635.24" r="0.85" fill="#9a9a9a"/>
<circle cx="469.80" cy="649.44" r="0.85" fill="#9a9a9a"/>
<circle cx="471.22" cy="639.93" r="0.85" fill="#9a9a9a"/>
<circle cx="458.60" cy="653.64" r="0.85" fill="#9a9a9a"/>
<circle cx="474.01" cy="640.06" r="0.85" fill="#9a9a9a"/>
<circle cx="472.55" cy="654.90" r="0.85" fill="#9a9a9a"/>
<circle cx="496.21" cy="626.41" r="0.85" fill="#9a9a9a"/>
<circle cx="438.38" cy="640.53" r="0.85" fill="#9a9a9a"/>
<circle cx="452.36" cy="645.37" r="0.85" fill="#9a9a9a"/>
<circle cx="444.98" cy="640.68" r="0.85" fill="#9a9a9a"/>
<circle cx="440.27" cy="643.49" r="0.85" fill="#9a9a9a"/>
<circle cx="481.92" cy="626.91" r="0.85" fill="#9a9a9a"/>
<circle cx="480.04" cy="624.26" r="0.85" fill="#9a9a9a"/>
<circle cx="476.60" cy="639.93" r="0.85" fill="#9a9a9a"/>
<circle cx="456.69" cy="635.85" r="0.85" fill="#9a9a9a"/>
<circle cx="465.65" cy="652.11" r="0.85" fill="#9a9a9a"/>
<circle cx="421.43" cy="643.99" r="0.85" fill="#9a9a9a"/>
<circle cx="486.48" cy="624.10" r="0.85" fill="#9a9a9a"/>
<circle cx="456.18" cy="633.92" r="0.85" fill="#9a9a9a"/>
<circle cx="503.47" cy="627.42" r="0.85" fill="#9a9a9a"/>
<circle cx="477.14" cy="634.29" r="0.85" fill="#9a9a9a"/>
<circle cx="428.01" cy="644.90" r="0.85" fill="#9a9a9a"/>
<circle cx="443.41" cy="638.66" r="0.85" fill="#9a9a9a"/>
<circle cx="459.15" cy="632.99" r="0.85" fill="#9a9a9a"/>
<circle cx="491.95" cy="624.91" r="0.85" fill="#9a9a9a"/>
<circle cx="464.69" cy="654.05" r="0.85" fill="#9a9a9a"/>
<circle cx="489.17" cy="639.79" r="0.85" fill="#9a9a9a"/>
<circle cx="454.30" cy="652.10" r="0.85" fill="#9a9a9a"/>
<circle cx="447.51" cy="635.25" r="0.85" fill="#9a9a9a"/>
<circle cx="440.68" cy="640.84" r="0.85" fill="#9a9a9a"/>
<circle cx="458.78" cy="641.52" r="0.85" fill="#9a9a9a"/>
<circle cx="470.27" cy="651.12" r="0.85" fill="#9a9a9a"/>
<circle cx="503.53" cy="636.36" r="0.85" fill="#9a9a9a"/>
<circle cx="465.75" cy="651.18" r="0.85" fill="#9a9a9a"/>
<circle cx="453.55" cy="651.77" r="0.85" fill="#9a9a9a"/>
<circle cx="464.08" cy="636.95" r="0.85" fill="#9a9a9a"/>
<circle cx="488.46" cy="636.16" r="0.85" fill="#9a9a9a"/>
<circle cx="455.22" cy="647.30" r="0.85" fill="#9a9a9a"/>
<circle cx="459.86" cy="637.55" r="0.85" fill="#9a9a9a"/>
<circle cx="484.03" cy="634.99" r="0.85" fill="#9a9a9a"/>
<circle cx="464.95" cy="652.50" r="0.85" fill="#9a9a9a"/>
<circle cx="478.48" cy="640.06" r="0.85" fill="#9a9a9a"/>
<circle cx="443.18" cy="630.70" r="0.85" fill="#9a9a9a"/>
<circle cx="523.78" cy="629.27" r="0.85" fill="#9a9a9a"/>
<circle cx="514.91" cy="630.47" r="0.85" fill="#9a9a9a"/>
<circle cx="465.39" cy="651.53" r="0.85" fill="#9a9a9a"/>
<circle cx="449.71" cy="649.18" r="0.85" fill="#9a9a9a"/>
<circle cx="422.13" cy="622.36" r="0.85" fill="#9a9a9a"/>
<circle cx="452.46" cy="650.35" r="0.85" fill="#9a9a9a"/>
<circle cx="484.16" cy="628.61" r="0.85" fill="#9a9a9a"/>
<circle cx="467.10" cy="642.34" r="0.85" fill="#9a9a9a"/>
<circle cx="453.80" cy="654.48" r="0.85" fill="#9a9a9a"/>
<circle cx="401.00" cy="626.00" r="0.85" fill="#9a9a9a"/>
<circle cx="405.00" cy="627.00" r="0.85" fill="#9a9a9a"/>
<circle cx="413.00" cy="625.00" r="0.85" fill="#9a9a9a"/>
<circle cx="425.00" cy="622.00" r="0.85" fill="#9a9a9a"/>
<circle cx="500.00" cy="624.00" r="0.85" fill="#9a9a9a"/>
<circle cx="505.00" cy="628.00" r="0.85" fill="#9a9a9a"/>
<circle cx="512.00" cy="625.00" r="0.85" fill="#9a9a9a"/>
<circle cx="520.00" cy="622.00" r="0.85" fill="#9a9a9a"/>
<circle cx="522.00" cy="628.00" r="0.85" fill="#9a9a9a"/>
<circle cx="527.00" cy="623.00" r="0.85" fill="#9a9a9a"/>
<circle cx="411.20" cy="591.70" r="0.95" fill="#3b6fd6"/>
<circle cx="418.00" cy="594.00" r="0.95" fill="#3b6fd6"/>
<circle cx="414.00" cy="607.30" r="0.95" fill="#3b6fd6"/>
<circle cx="418.00" cy="607.90" r="0.95" fill="#3b6fd6"/>
<circle cx="440.00" cy="606.40" r="0.95" fill="#3b6fd6"/>
<circle cx="444.40" cy="607.00" r="0.95" fill="#3b6fd6"/>
<circle cx="445.60" cy="608.80" r="0.95" fill="#3b6fd6"/>
<circle cx="453.60" cy="590.40" r="0.95" fill="#3b6fd6"/>
<circle cx="449.00" cy="612.00" r="0.95" fill="#3b6fd6"/>
<circle cx="451.00" cy="609.00" r="0.95" fill="#3b6fd6"/>
<circle cx="453.00" cy="615.00" r="0.95" fill="#3b6fd6"/>
<circle cx="455.00" cy="611.00" r="0.95" fill="#3b6fd6"/>
<circle cx="456.00" cy="618.00" r="0.95" fill="#3b6fd6"/>
<circle cx="452.00" cy="618.50" r="0.95" fill="#3b6fd6"/>
<circle cx="450.00" cy="616.00" r="0.95" fill="#3b6fd6"/>
<circle cx="447.00" cy="614.00" r="0.95" fill="#3b6fd6"/>
<circle cx="454.50" cy="607.20" r="0.95" fill="#3b6fd6"/>
<circle cx="456.50" cy="606.00" r="0.95" fill="#3b6fd6"/>
<circle cx="455.00" cy="620.00" r="0.95" fill="#3b6fd6"/>
<circle cx="443.50" cy="614.00" r="0.95" fill="#3b6fd6"/>
<circle cx="455.78" cy="619.04" r="0.95" fill="#3b6fd6"/>
<circle cx="452.98" cy="614.29" r="0.95" fill="#3b6fd6"/>
<circle cx="455.88" cy="612.21" r="0.95" fill="#3b6fd6"/>
<circle cx="456.67" cy="610.37" r="0.95" fill="#3b6fd6"/>
<circle cx="456.61" cy="610.86" r="0.95" fill="#3b6fd6"/>
<circle cx="452.75" cy="610.34" r="0.95" fill="#3b6fd6"/>
<circle cx="455.80" cy="606.25" r="0.95" fill="#3b6fd6"/>
<circle cx="453.09" cy="614.41" r="0.95" fill="#3b6fd6"/>
<circle cx="453.04" cy="615.54" r="0.95" fill="#3b6fd6"/>
<circle cx="448.78" cy="614.58" r="0.95" fill="#3b6fd6"/>
<circle cx="452.43" cy="614.60" r="0.95" fill="#3b6fd6"/>
<circle cx="455.36" cy="606.02" r="0.95" fill="#3b6fd6"/>
<circle cx="455.96" cy="619.93" r="0.95" fill="#3b6fd6"/>
<circle cx="450.77" cy="616.43" r="0.95" fill="#3b6fd6"/>
<circle cx="451.99" cy="611.45" r="0.95" fill="#3b6fd6"/>
<circle cx="455.14" cy="617.22" r="0.95" fill="#3b6fd6"/>
<circle cx="455.19" cy="618.37" r="0.95" fill="#3b6fd6"/>
<circle cx="453.62" cy="607.28" r="0.95" fill="#3b6fd6"/>
<circle cx="451.89" cy="619.31" r="0.95" fill="#3b6fd6"/>
<circle cx="455.94" cy="610.95" r="0.95" fill="#3b6fd6"/>
<circle cx="463.80" cy="517.70" r="0.95" fill="#e41a1c"/>
<circle cx="468.00" cy="566.40" r="0.95" fill="#e41a1c"/>
<circle cx="461.70" cy="573.80" r="0.95" fill="#e41a1c"/>
<circle cx="470.90" cy="576.60" r="0.95" fill="#e41a1c"/>
<circle cx="485.20" cy="580.80" r="0.95" fill="#e41a1c"/>
<circle cx="463.10" cy="585.80" r="0.95" fill="#e41a1c"/>
<circle cx="464.00" cy="584.50" r="0.95" fill="#e41a1c"/>
<circle cx="460.40" cy="592.20" r="0.95" fill="#e41a1c"/>
<circle cx="461.00" cy="595.00" r="0.95" fill="#e41a1c"/>
<circle cx="475.00" cy="591.30" r="0.95" fill="#e41a1c"/>
<circle cx="471.50" cy="593.20" r="0.95" fill="#e41a1c"/>
<circle cx="485.20" cy="595.00" r="0.95" fill="#e41a1c"/>
<circle cx="497.00" cy="598.00" r="0.95" fill="#e41a1c"/>
<circle cx="503.50" cy="592.30" r="0.95" fill="#e41a1c"/>
<circle cx="510.00" cy="598.50" r="0.95" fill="#e41a1c"/>
<circle cx="518.50" cy="592.30" r="0.95" fill="#e41a1c"/>
<circle cx="527.50" cy="599.60" r="0.95" fill="#e41a1c"/>
<circle cx="480.00" cy="599.60" r="0.95" fill="#e41a1c"/>
<circle cx="460.41" cy="611.70" r="0.95" fill="#e41a1c"/>
<circle cx="460.12" cy="596.40" r="0.95" fill="#e41a1c"/>
<circle cx="462.04" cy="603.35" r="0.95" fill="#e41a1c"/>
<circle cx="461.72" cy="595.64" r="0.95" fill="#e41a1c"/>
<circle cx="461.81" cy="596.86" r="0.95" fill="#e41a1c"/>
<circle cx="461.52" cy="610.62" r="0.95" fill="#e41a1c"/>
<circle cx="463.14" cy="599.65" r="0.95" fill="#e41a1c"/>
<circle cx="461.45" cy="616.31" r="0.95" fill="#e41a1c"/>
<circle cx="463.80" cy="609.80" r="0.95" fill="#e41a1c"/>
<circle cx="459.91" cy="600.73" r="0.95" fill="#e41a1c"/>
<circle cx="465.70" cy="618.37" r="0.95" fill="#e41a1c"/>
<circle cx="460.35" cy="605.23" r="0.95" fill="#e41a1c"/>
<circle cx="460.12" cy="598.62" r="0.95" fill="#e41a1c"/>
<circle cx="463.89" cy="601.94" r="0.95" fill="#e41a1c"/>
<circle cx="463.26" cy="612.88" r="0.95" fill="#e41a1c"/>
<circle cx="460.39" cy="597.71" r="0.95" fill="#e41a1c"/>
<circle cx="462.05" cy="604.38" r="0.95" fill="#e41a1c"/>
<circle cx="459.80" cy="616.63" r="0.95" fill="#e41a1c"/>
<circle cx="459.75" cy="598.68" r="0.95" fill="#e41a1c"/>
<circle cx="460.71" cy="611.96" r="0.95" fill="#e41a1c"/>
<circle cx="462.44" cy="601.63" r="0.95" fill="#e41a1c"/>
<circle cx="460.46" cy="596.74" r="0.95" fill="#e41a1c"/>
<circle cx="460.39" cy="605.50" r="0.95" fill="#e41a1c"/>
<circle cx="461.15" cy="594.83" r="0.95" fill="#e41a1c"/>
<circle cx="463.79" cy="619.14" r="0.95" fill="#e41a1c"/>
<circle cx="460.22" cy="606.45" r="0.95" fill="#e41a1c"/>
<circle cx="460.64" cy="596.80" r="0.95" fill="#e41a1c"/>
<circle cx="459.62" cy="614.76" r="0.95" fill="#e41a1c"/>
<circle cx="460.06" cy="598.22" r="0.95" fill="#e41a1c"/>
<circle cx="460.51" cy="607.13" r="0.95" fill="#e41a1c"/>
<circle cx="461.75" cy="615.38" r="0.95" fill="#e41a1c"/>
<circle cx="460.86" cy="596.80" r="0.95" fill="#e41a1c"/>
<circle cx="461.55" cy="603.62" r="0.95" fill="#e41a1c"/>
<circle cx="461.46" cy="613.88" r="0.95" fill="#e41a1c"/>
<circle cx="460.47" cy="596.26" r="0.95" fill="#e41a1c"/>
<circle cx="460.06" cy="615.09" r="0.95" fill="#e41a1c"/>
<circle cx="459.81" cy="610.11" r="0.95" fill="#e41a1c"/>
<circle cx="462.74" cy="609.42" r="0.95" fill="#e41a1c"/>
<circle cx="460.09" cy="610.30" r="0.95" fill="#e41a1c"/>
<circle cx="462.82" cy="610.82" r="0.95" fill="#e41a1c"/>
<circle cx="459.53" cy="618.97" r="0.95" fill="#e41a1c"/>
<circle cx="466.78" cy="618.32" r="0.95" fill="#e41a1c"/>
<circle cx="461.32" cy="615.71" r="0.95" fill="#e41a1c"/>
<circle cx="460.39" cy="612.39" r="0.95" fill="#e41a1c"/>
<circle cx="461.22" cy="606.50" r="0.95" fill="#e41a1c"/>
<circle cx="459.66" cy="605.77" r="0.95" fill="#e41a1c"/>
<circle cx="462.76" cy="594.62" r="0.95" fill="#e41a1c"/>
<circle cx="460.08" cy="604.92" r="0.95" fill="#e41a1c"/>
<circle cx="459.43" cy="599.46" r="0.95" fill="#e41a1c"/>
<circle cx="462.52" cy="603.04" r="0.95" fill="#e41a1c"/>
<circle cx="462.62" cy="603.00" r="0.95" fill="#e41a1c"/>
<circle cx="460.78" cy="598.82" r="0.95" fill="#e41a1c"/>
<circle cx="461.00" cy="596.81" r="0.95" fill="#e41a1c"/>
<circle cx="463.04" cy="611.60" r="0.95" fill="#e41a1c"/>
<circle cx="460.88" cy="599.65" r="0.95" fill="#e41a1c"/>
<circle cx="459.60" cy="602.98" r="0.95" fill="#e41a1c"/>
<circle cx="462.49" cy="610.39" r="0.95" fill="#e41a1c"/>
<circle cx="461.92" cy="617.93" r="0.95" fill="#e41a1c"/>
<circle cx="460.23" cy="610.73" r="0.95" fill="#e41a1c"/>
<circle cx="462.85" cy="606.98" r="0.95" fill="#e41a1c"/>
<circle cx="466.36" cy="609.95" r="0.95" fill="#e41a1c"/>
<circle cx="459.48" cy="610.42" r="0.95" fill="#e41a1c"/>
<circle cx="461.30" cy="615.97" r="0.95" fill="#e41a1c"/>
<circle cx="464.66" cy="607.72" r="0.95" fill="#e41a1c"/>
<circle cx="459.64" cy="607.92" r="0.95" fill="#e41a1c"/>
<circle cx="461.40" cy="615.11" r="0.95" fill="#e41a1c"/>
<circle cx="460.32" cy="617.78" r="0.95" fill="#e41a1c"/>
<circle cx="460.11" cy="600.61" r="0.95" fill="#e41a1c"/>
<circle cx="461.52" cy="605.17" r="0.95" fill="#e41a1c"/>
<circle cx="461.59" cy="595.55" r="0.95" fill="#e41a1c"/>
<circle cx="496.57" cy="617.16" r="0.95" fill="#e41a1c"/>
<circle cx="470.36" cy="605.65" r="0.95" fill="#e41a1c"/>
<circle cx="527.01" cy="610.79" r="0.95" fill="#e41a1c"/>
<circle cx="510.57" cy="609.15" r="0.95" fill="#e41a1c"/>
<circle cx="517.71" cy="617.44" r="0.95" fill="#e41a1c"/>
<circle cx="489.66" cy="598.32" r="0.95" fill="#e41a1c"/>
<circle cx="476.07" cy="613.08" r="0.95" fill="#e41a1c"/>
<circle cx="462.72" cy="615.22" r="0.95" fill="#e41a1c"/>
<circle cx="475.60" cy="602.80" r="0.95" fill="#e41a1c"/>
<circle cx="472.63" cy="609.81" r="0.95" fill="#e41a1c"/>
<circle cx="471.59" cy="605.13" r="0.95" fill="#e41a1c"/>
<circle cx="517.39" cy="604.09" r="0.95" fill="#e41a1c"/>
<circle cx="471.38" cy="602.12" r="0.95" fill="#e41a1c"/>
<circle cx="525.09" cy="605.18" r="0.95" fill="#e41a1c"/>
<circle cx="465.15" cy="600.38" r="0.95" fill="#e41a1c"/>
<circle cx="518.27" cy="611.15" r="0.95" fill="#e41a1c"/>
<circle cx="468.06" cy="614.67" r="0.95" fill="#e41a1c"/>
<circle cx="493.29" cy="598.86" r="0.95" fill="#e41a1c"/>
<circle cx="500.63" cy="597.77" r="0.95" fill="#e41a1c"/>
<circle cx="472.27" cy="611.48" r="0.95" fill="#e41a1c"/>
<circle cx="508.68" cy="604.07" r="0.95" fill="#e41a1c"/>
<circle cx="484.33" cy="603.38" r="0.95" fill="#e41a1c"/>
<circle cx="479.94" cy="617.68" r="0.95" fill="#e41a1c"/>
<circle cx="484.92" cy="617.95" r="0.95" fill="#e41a1c"/>
<circle cx="499.64" cy="611.31" r="0.95" fill="#e41a1c"/>
<circle cx="490.34" cy="605.25" r="0.95" fill="#e41a1c"/>
<circle cx="474.93" cy="608.34" r="0.95" fill="#e41a1c"/>
<circle cx="462.38" cy="597.72" r="0.95" fill="#e41a1c"/>
<circle cx="495.21" cy="596.29" r="0.95" fill="#e41a1c"/>
<circle cx="464.08" cy="604.88" r="0.95" fill="#e41a1c"/>
<circle cx="506.81" cy="611.43" r="0.95" fill="#e41a1c"/>
<circle cx="465.84" cy="615.41" r="0.95" fill="#e41a1c"/>
<circle cx="468.38" cy="601.35" r="0.95" fill="#e41a1c"/>
<circle cx="465.66" cy="600.28" r="0.95" fill="#e41a1c"/>
<circle cx="485.52" cy="606.61" r="0.95" fill="#e41a1c"/>
<circle cx="496.93" cy="606.24" r="0.95" fill="#e41a1c"/>
<circle cx="501.89" cy="605.16" r="0.95" fill="#e41a1c"/>
<circle cx="479.50" cy="601.96" r="0.95" fill="#e41a1c"/>
<circle cx="474.98" cy="602.64" r="0.95" fill="#e41a1c"/>
<circle cx="509.73" cy="601.15" r="0.95" fill="#e41a1c"/>
<circle cx="478.14" cy="601.23" r="0.95" fill="#e41a1c"/>
<circle cx="526.21" cy="608.58" r="0.95" fill="#e41a1c"/>
<circle cx="476.22" cy="606.96" r="0.95" fill="#e41a1c"/>
<circle cx="523.35" cy="615.97" r="0.95" fill="#e41a1c"/>
<circle cx="462.23" cy="608.06" r="0.95" fill="#e41a1c"/>
<circle cx="501.75" cy="601.19" r="0.95" fill="#e41a1c"/>
<circle cx="481.53" cy="596.24" r="0.95" fill="#e41a1c"/>
<circle cx="473.21" cy="601.60" r="0.95" fill="#e41a1c"/>
<circle cx="465.67" cy="618.36" r="0.95" fill="#e41a1c"/>
<circle cx="467.92" cy="617.62" r="0.95" fill="#e41a1c"/>
<circle cx="490.86" cy="606.23" r="0.95" fill="#e41a1c"/>
<circle cx="470.53" cy="597.39" r="0.95" fill="#e41a1c"/>
<circle cx="481.73" cy="615.57" r="0.95" fill="#e41a1c"/>
<circle cx="470.29" cy="602.03" r="0.95" fill="#e41a1c"/>
<circle cx="521.83" cy="615.27" r="0.95" fill="#e41a1c"/>
<circle cx="462.94" cy="601.10" r="0.95" fill="#e41a1c"/>
<circle cx="474.06" cy="596.41" r="0.95" fill="#e41a1c"/>
<circle cx="490.65" cy="604.37" r="0.95" fill="#e41a1c"/>
<circle cx="480.36" cy="600.59" r="0.95" fill="#e41a1c"/>
<circle cx="488.00" cy="611.55" r="0.95" fill="#e41a1c"/>
<circle cx="520.43" cy="616.52" r="0.95" fill="#e41a1c"/>
<circle cx="507.49" cy="617.49" r="0.95" fill="#e41a1c"/>
<circle cx="501.03" cy="609.76" r="0.95" fill="#e41a1c"/>
<circle cx="517.39" cy="617.62" r="0.95" fill="#e41a1c"/>
<circle cx="495.21" cy="609.57" r="0.95" fill="#e41a1c"/>
<circle cx="521.65" cy="597.27" r="0.95" fill="#e41a1c"/>
<circle cx="499.70" cy="613.85" r="0.95" fill="#e41a1c"/>
<circle cx="474.62" cy="612.97" r="0.95" fill="#e41a1c"/>
<circle cx="486.23" cy="613.68" r="0.95" fill="#e41a1c"/>
<circle cx="471.75" cy="601.54" r="0.95" fill="#e41a1c"/>
<circle cx="500.83" cy="612.14" r="0.95" fill="#e41a1c"/>
<circle cx="527.55" cy="614.02" r="0.95" fill="#e41a1c"/>
<circle cx="495.59" cy="615.40" r="0.95" fill="#e41a1c"/>
<circle cx="517.31" cy="599.01" r="0.95" fill="#e41a1c"/>
<circle cx="475.55" cy="601.71" r="0.95" fill="#e41a1c"/>
<circle cx="514.23" cy="612.50" r="0.95" fill="#e41a1c"/>
<circle cx="479.55" cy="607.83" r="0.95" fill="#e41a1c"/>
<circle cx="519.46" cy="615.28" r="0.95" fill="#e41a1c"/>
<circle cx="503.75" cy="605.26" r="0.95" fill="#e41a1c"/>
<circle cx="487.52" cy="605.68" r="0.95" fill="#e41a1c"/>
<circle cx="518.83" cy="614.17" r="0.95" fill="#e41a1c"/>
<circle cx="518.89" cy="610.71" r="0.95" fill="#e41a1c"/>
<circle cx="510.97" cy="599.14" r="0.95" fill="#e41a1c"/>
<circle cx="470.56" cy="599.13" r="0.95" fill="#e41a1c"/>
<circle cx="527.59" cy="612.16" r="0.95" fill="#e41a1c"/>
<circle cx="462.77" cy="616.43" r="0.95" fill="#e41a1c"/>
<circle cx="525.97" cy="618.78" r="0.95" fill="#e41a1c"/>
<circle cx="521.06" cy="615.53" r="0.95" fill="#e41a1c"/>
<circle cx="507.69" cy="616.76" r="0.95" fill="#e41a1c"/>
<circle cx="469.80" cy="603.30" r="0.95" fill="#e41a1c"/>
<circle cx="465.68" cy="611.19" r="0.95" fill="#e41a1c"/>
<circle cx="521.60" cy="602.52" r="0.95" fill="#e41a1c"/>
<circle cx="518.76" cy="596.47" r="0.95" fill="#e41a1c"/>
<circle cx="463.10" cy="613.60" r="0.95" fill="#e41a1c"/>
<circle cx="511.90" cy="603.14" r="0.95" fill="#e41a1c"/>
<circle cx="463.30" cy="607.39" r="0.95" fill="#e41a1c"/>
<circle cx="473.41" cy="609.10" r="0.95" fill="#e41a1c"/>
<circle cx="466.41" cy="618.54" r="0.95" fill="#e41a1c"/>
<circle cx="527.27" cy="611.72" r="0.95" fill="#e41a1c"/>
<circle cx="518.50" cy="616.23" r="0.95" fill="#e41a1c"/>
<circle cx="489.86" cy="615.88" r="0.95" fill="#e41a1c"/>
<circle cx="485.87" cy="614.88" r="0.95" fill="#e41a1c"/>
<circle cx="503.94" cy="615.60" r="0.95" fill="#e41a1c"/>
<circle cx="507.85" cy="607.48" r="0.95" fill="#e41a1c"/>
<circle cx="466.79" cy="610.87" r="0.95" fill="#e41a1c"/>
<circle cx="490.47" cy="597.87" r="0.95" fill="#e41a1c"/>
<circle cx="480.69" cy="614.05" r="0.95" fill="#e41a1c"/>
<circle cx="525.43" cy="598.69" r="0.95" fill="#e41a1c"/>
<circle cx="507.34" cy="612.72" r="0.95" fill="#e41a1c"/>
<circle cx="470.27" cy="612.91" r="0.95" fill="#e41a1c"/>
<circle cx="427.20" cy="614.90" r="1.1" fill="#2a2a3a"/>
<rect x="392.50" y="511.40" width="142.20" height="151.10" fill="none" stroke="#6a6a6a" stroke-width="1.1" />
<line x1="391.00" y1="519.50" x2="392.50" y2="519.50" stroke="#555" stroke-width="0.5" />
<text x="390.30" y="520.50" font-size="2.8" text-anchor="end" fill="#555"  stroke="#555" stroke-width="0.07">5</text>
<line x1="391.00" y1="546.80" x2="392.50" y2="546.80" stroke="#555" stroke-width="0.5" />
<text x="390.30" y="547.80" font-size="2.8" text-anchor="end" fill="#555"  stroke="#555" stroke-width="0.07">4</text>
<line x1="391.00" y1="574.10" x2="392.50" y2="574.10" stroke="#555" stroke-width="0.5" />
<text x="390.30" y="575.10" font-size="2.8" text-anchor="end" fill="#555"  stroke="#555" stroke-width="0.07">3</text>
<line x1="391.00" y1="601.40" x2="392.50" y2="601.40" stroke="#555" stroke-width="0.5" />
<text x="390.30" y="602.40" font-size="2.8" text-anchor="end" fill="#555"  stroke="#555" stroke-width="0.07">2</text>
<line x1="391.00" y1="628.70" x2="392.50" y2="628.70" stroke="#555" stroke-width="0.5" />
<text x="390.30" y="629.70" font-size="2.8" text-anchor="end" fill="#555"  stroke="#555" stroke-width="0.07">1</text>
<line x1="391.00" y1="656.00" x2="392.50" y2="656.00" stroke="#555" stroke-width="0.5" />
<text x="390.30" y="657.00" font-size="2.8" text-anchor="end" fill="#555"  stroke="#555" stroke-width="0.07">0</text>
<line x1="407.60" y1="662.50" x2="407.60" y2="664.00" stroke="#555" stroke-width="0.5" />
<text x="407.60" y="666.30" font-size="2.8" text-anchor="middle" fill="#555"  stroke="#555" stroke-width="0.07">-20</text>
<line x1="433.00" y1="662.50" x2="433.00" y2="664.00" stroke="#555" stroke-width="0.5" />
<text x="433.00" y="666.30" font-size="2.8" text-anchor="middle" fill="#555"  stroke="#555" stroke-width="0.07">-10</text>
<line x1="458.20" y1="662.50" x2="458.20" y2="664.00" stroke="#555" stroke-width="0.5" />
<text x="458.20" y="666.30" font-size="2.8" text-anchor="middle" fill="#555"  stroke="#555" stroke-width="0.07">0</text>
<line x1="483.00" y1="662.50" x2="483.00" y2="664.00" stroke="#555" stroke-width="0.5" />
<text x="483.00" y="666.30" font-size="2.8" text-anchor="middle" fill="#555"  stroke="#555" stroke-width="0.07">10</text>
<line x1="507.80" y1="662.50" x2="507.80" y2="664.00" stroke="#555" stroke-width="0.5" />
<text x="507.80" y="666.30" font-size="2.8" text-anchor="middle" fill="#555"  stroke="#555" stroke-width="0.07">20</text>
<line x1="532.60" y1="662.50" x2="532.60" y2="664.00" stroke="#555" stroke-width="0.5" />
<text x="532.60" y="666.30" font-size="2.8" text-anchor="middle" fill="#555"  stroke="#555" stroke-width="0.07">30</text>
<text x="463.00" y="672.80" font-size="3.65" text-anchor="middle" fill="#1a1a1a" stroke="#1a1a1a" stroke-width="0.12">log2(Fold Change)</text>
<text x="385.00" y="585.50" font-size="3.5" text-anchor="middle" fill="#1a1a1a" stroke="#1a1a1a" stroke-width="0.12" transform="rotate(-90 385.00 585.50)" dy="1.2">-log10(P-value)</text>
<text x="541.00" y="566.90" font-size="3.6" text-anchor="start" fill="#222" stroke="#222" stroke-width="0.08">regulated</text>
<circle cx="543.60" cy="571.20" r="0.8" fill="#e41a1c"/>
<text x="547.20" y="572.20" font-size="3.0" text-anchor="start" fill="#555" stroke="none">up:196</text>
<circle cx="543.60" cy="577.20" r="0.8" fill="#3b6fd6"/>
<text x="547.20" y="578.20" font-size="3.0" text-anchor="start" fill="#555" stroke="none">down:26</text>
<circle cx="543.60" cy="583.20" r="0.8" fill="#8c8c8c"/>
<text x="547.20" y="584.20" font-size="3.0" text-anchor="start" fill="#555" stroke="none">unchanged:703</text>
<text x="541.00" y="596.40" font-size="3.6" text-anchor="start" fill="#222" stroke="#222" stroke-width="0.08">VIP</text>
<circle cx="543.60" cy="601.10" r="0.7" fill="#333"/>
<text x="547.20" y="602.10" font-size="3.0" text-anchor="start" fill="#555" stroke="none">0.0</text>
<circle cx="543.60" cy="606.60" r="1.1" fill="#111"/>
<text x="547.20" y="607.60" font-size="3.0" text-anchor="start" fill="#555" stroke="none">1.0</text>
<text x="378.8" y="511.0" font-family="Liberation Serif, serif" font-weight="bold" font-size="11.6" fill="#000" stroke="#000" stroke-width="0.3" textLength="7.5" lengthAdjust="spacingAndGlyphs">G</text>
<line x1="649.60" y1="510.60" x2="649.60" y2="663.40" stroke="#b8b8b8" stroke-width="0.6" stroke-dasharray="1,0.8"/>
<line x1="582.50" y1="620.20" x2="725.70" y2="620.20" stroke="#b8b8b8" stroke-width="0.6" stroke-dasharray="1,0.8"/>
<circle cx="648.51" cy="637.01" r="0.85" fill="#9a9a9a"/>
<circle cx="651.17" cy="645.30" r="0.85" fill="#9a9a9a"/>
<circle cx="651.37" cy="630.01" r="0.85" fill="#9a9a9a"/>
<circle cx="646.00" cy="626.20" r="0.85" fill="#9a9a9a"/>
<circle cx="651.21" cy="621.19" r="0.85" fill="#9a9a9a"/>
<circle cx="648.23" cy="648.18" r="0.85" fill="#9a9a9a"/>
<circle cx="647.72" cy="643.05" r="0.85" fill="#9a9a9a"/>
<circle cx="647.80" cy="631.22" r="0.85" fill="#9a9a9a"/>
<circle cx="653.91" cy="634.75" r="0.85" fill="#9a9a9a"/>
<circle cx="649.10" cy="632.46" r="0.85" fill="#9a9a9a"/>
<circle cx="655.37" cy="637.22" r="0.85" fill="#9a9a9a"/>
<circle cx="649.55" cy="648.57" r="0.85" fill="#9a9a9a"/>
<circle cx="649.36" cy="624.24" r="0.85" fill="#9a9a9a"/>
<circle cx="650.51" cy="639.70" r="0.85" fill="#9a9a9a"/>
<circle cx="647.49" cy="639.58" r="0.85" fill="#9a9a9a"/>
<circle cx="654.42" cy="648.65" r="0.85" fill="#9a9a9a"/>
<circle cx="656.98" cy="637.73" r="0.85" fill="#9a9a9a"/>
<circle cx="645.42" cy="637.90" r="0.85" fill="#9a9a9a"/>
<circle cx="650.22" cy="648.03" r="0.85" fill="#9a9a9a"/>
<circle cx="652.04" cy="650.38" r="0.85" fill="#9a9a9a"/>
<circle cx="647.79" cy="633.76" r="0.85" fill="#9a9a9a"/>
<circle cx="657.84" cy="627.13" r="0.85" fill="#9a9a9a"/>
<circle cx="648.45" cy="654.96" r="0.85" fill="#9a9a9a"/>
<circle cx="653.68" cy="642.97" r="0.85" fill="#9a9a9a"/>
<circle cx="647.48" cy="652.13" r="0.85" fill="#9a9a9a"/>
<circle cx="650.91" cy="651.04" r="0.85" fill="#9a9a9a"/>
<circle cx="652.37" cy="643.84" r="0.85" fill="#9a9a9a"/>
<circle cx="647.12" cy="627.99" r="0.85" fill="#9a9a9a"/>
<circle cx="650.57" cy="653.38" r="0.85" fill="#9a9a9a"/>
<circle cx="655.54" cy="642.46" r="0.85" fill="#9a9a9a"/>
<circle cx="651.07" cy="640.55" r="0.85" fill="#9a9a9a"/>
<circle cx="652.74" cy="639.52" r="0.85" fill="#9a9a9a"/>
<circle cx="647.37" cy="651.18" r="0.85" fill="#9a9a9a"/>
<circle cx="648.39" cy="632.35" r="0.85" fill="#9a9a9a"/>
<circle cx="653.19" cy="648.06" r="0.85" fill="#9a9a9a"/>
<circle cx="649.62" cy="643.34" r="0.85" fill="#9a9a9a"/>
<circle cx="652.34" cy="655.87" r="0.85" fill="#9a9a9a"/>
<circle cx="650.23" cy="649.37" r="0.85" fill="#9a9a9a"/>
<circle cx="650.61" cy="650.17" r="0.85" fill="#9a9a9a"/>
<circle cx="650.87" cy="631.00" r="0.85" fill="#9a9a9a"/>
<circle cx="653.14" cy="647.91" r="0.85" fill="#9a9a9a"/>
<circle cx="656.31" cy="626.89" r="0.85" fill="#9a9a9a"/>
<circle cx="654.67" cy="626.01" r="0.85" fill="#9a9a9a"/>
<circle cx="647.28" cy="649.34" r="0.85" fill="#9a9a9a"/>
<circle cx="654.15" cy="634.57" r="0.85" fill="#9a9a9a"/>
<circle cx="654.01" cy="643.31" r="0.85" fill="#9a9a9a"/>
<circle cx="651.92" cy="643.47" r="0.85" fill="#9a9a9a"/>
<circle cx="650.30" cy="631.20" r="0.85" fill="#9a9a9a"/>
<circle cx="654.81" cy="633.49" r="0.85" fill="#9a9a9a"/>
<circle cx="649.09" cy="627.72" r="0.85" fill="#9a9a9a"/>
<circle cx="653.92" cy="635.96" r="0.85" fill="#9a9a9a"/>
<circle cx="655.65" cy="623.67" r="0.85" fill="#9a9a9a"/>
<circle cx="660.63" cy="631.23" r="0.85" fill="#9a9a9a"/>
<circle cx="649.83" cy="643.28" r="0.85" fill="#9a9a9a"/>
<circle cx="649.32" cy="653.99" r="0.85" fill="#9a9a9a"/>
<circle cx="648.00" cy="629.66" r="0.85" fill="#9a9a9a"/>
<circle cx="653.83" cy="638.87" r="0.85" fill="#9a9a9a"/>
<circle cx="651.56" cy="624.50" r="0.85" fill="#9a9a9a"/>
<circle cx="650.50" cy="635.46" r="0.85" fill="#9a9a9a"/>
<circle cx="645.50" cy="640.08" r="0.85" fill="#9a9a9a"/>
<circle cx="652.45" cy="641.77" r="0.85" fill="#9a9a9a"/>
<circle cx="653.74" cy="639.69" r="0.85" fill="#9a9a9a"/>
<circle cx="649.05" cy="639.06" r="0.85" fill="#9a9a9a"/>
<circle cx="653.35" cy="638.33" r="0.85" fill="#9a9a9a"/>
<circle cx="646.34" cy="630.21" r="0.85" fill="#9a9a9a"/>
<circle cx="655.33" cy="642.24" r="0.85" fill="#9a9a9a"/>
<circle cx="652.50" cy="636.84" r="0.85" fill="#9a9a9a"/>
<circle cx="651.66" cy="629.19" r="0.85" fill="#9a9a9a"/>
<circle cx="649.78" cy="648.66" r="0.85" fill="#9a9a9a"/>
<circle cx="651.24" cy="653.76" r="0.85" fill="#9a9a9a"/>
<circle cx="650.01" cy="653.37" r="0.85" fill="#9a9a9a"/>
<circle cx="650.22" cy="629.76" r="0.85" fill="#9a9a9a"/>
<circle cx="650.86" cy="632.33" r="0.85" fill="#9a9a9a"/>
<circle cx="650.13" cy="631.26" r="0.85" fill="#9a9a9a"/>
<circle cx="651.49" cy="631.97" r="0.85" fill="#9a9a9a"/>
<circle cx="642.18" cy="641.66" r="0.85" fill="#9a9a9a"/>
<circle cx="644.32" cy="627.50" r="0.85" fill="#9a9a9a"/>
<circle cx="653.78" cy="625.55" r="0.85" fill="#9a9a9a"/>
<circle cx="653.50" cy="638.10" r="0.85" fill="#9a9a9a"/>
<circle cx="652.26" cy="656.29" r="0.85" fill="#9a9a9a"/>
<circle cx="650.87" cy="647.19" r="0.85" fill="#9a9a9a"/>
<circle cx="650.89" cy="645.39" r="0.85" fill="#9a9a9a"/>
<circle cx="657.77" cy="636.77" r="0.85" fill="#9a9a9a"/>
<circle cx="650.31" cy="638.36" r="0.85" fill="#9a9a9a"/>
<circle cx="651.45" cy="645.69" r="0.85" fill="#9a9a9a"/>
<circle cx="654.11" cy="625.73" r="0.85" fill="#9a9a9a"/>
<circle cx="646.35" cy="647.37" r="0.85" fill="#9a9a9a"/>
<circle cx="653.72" cy="649.33" r="0.85" fill="#9a9a9a"/>
<circle cx="652.22" cy="643.23" r="0.85" fill="#9a9a9a"/>
<circle cx="647.14" cy="640.02" r="0.85" fill="#9a9a9a"/>
<circle cx="651.35" cy="643.52" r="0.85" fill="#9a9a9a"/>
<circle cx="654.18" cy="628.05" r="0.85" fill="#9a9a9a"/>
<circle cx="658.30" cy="636.76" r="0.85" fill="#9a9a9a"/>
<circle cx="649.90" cy="654.68" r="0.85" fill="#9a9a9a"/>
<circle cx="654.42" cy="641.98" r="0.85" fill="#9a9a9a"/>
<circle cx="650.07" cy="636.44" r="0.85" fill="#9a9a9a"/>
<circle cx="654.26" cy="628.24" r="0.85" fill="#9a9a9a"/>
<circle cx="649.89" cy="646.15" r="0.85" fill="#9a9a9a"/>
<circle cx="645.34" cy="635.48" r="0.85" fill="#9a9a9a"/>
<circle cx="654.18" cy="640.36" r="0.85" fill="#9a9a9a"/>
<circle cx="649.70" cy="625.33" r="0.85" fill="#9a9a9a"/>
<circle cx="648.29" cy="654.45" r="0.85" fill="#9a9a9a"/>
<circle cx="651.96" cy="654.76" r="0.85" fill="#9a9a9a"/>
<circle cx="656.49" cy="625.88" r="0.85" fill="#9a9a9a"/>
<circle cx="652.29" cy="650.10" r="0.85" fill="#9a9a9a"/>
<circle cx="644.39" cy="623.75" r="0.85" fill="#9a9a9a"/>
<circle cx="649.08" cy="638.81" r="0.85" fill="#9a9a9a"/>
<circle cx="649.96" cy="632.58" r="0.85" fill="#9a9a9a"/>
<circle cx="649.20" cy="649.01" r="0.85" fill="#9a9a9a"/>
<circle cx="657.00" cy="626.74" r="0.85" fill="#9a9a9a"/>
<circle cx="655.15" cy="649.15" r="0.85" fill="#9a9a9a"/>
<circle cx="653.88" cy="652.92" r="0.85" fill="#9a9a9a"/>
<circle cx="655.87" cy="622.74" r="0.85" fill="#9a9a9a"/>
<circle cx="649.91" cy="641.78" r="0.85" fill="#9a9a9a"/>
<circle cx="648.77" cy="624.34" r="0.85" fill="#9a9a9a"/>
<circle cx="652.05" cy="632.15" r="0.85" fill="#9a9a9a"/>
<circle cx="652.40" cy="631.80" r="0.85" fill="#9a9a9a"/>
<circle cx="651.65" cy="655.02" r="0.85" fill="#9a9a9a"/>
<circle cx="649.25" cy="648.24" r="0.85" fill="#9a9a9a"/>
<circle cx="649.46" cy="635.84" r="0.85" fill="#9a9a9a"/>
<circle cx="653.50" cy="651.03" r="0.85" fill="#9a9a9a"/>
<circle cx="647.84" cy="624.13" r="0.85" fill="#9a9a9a"/>
<circle cx="654.71" cy="651.11" r="0.85" fill="#9a9a9a"/>
<circle cx="655.35" cy="628.12" r="0.85" fill="#9a9a9a"/>
<circle cx="650.59" cy="655.33" r="0.85" fill="#9a9a9a"/>
<circle cx="649.83" cy="643.01" r="0.85" fill="#9a9a9a"/>
<circle cx="649.44" cy="637.13" r="0.85" fill="#9a9a9a"/>
<circle cx="647.64" cy="653.18" r="0.85" fill="#9a9a9a"/>
<circle cx="652.20" cy="641.24" r="0.85" fill="#9a9a9a"/>
<circle cx="656.48" cy="632.40" r="0.85" fill="#9a9a9a"/>
<circle cx="653.53" cy="652.16" r="0.85" fill="#9a9a9a"/>
<circle cx="661.70" cy="623.72" r="0.85" fill="#9a9a9a"/>
<circle cx="651.04" cy="637.82" r="0.85" fill="#9a9a9a"/>
<circle cx="648.55" cy="646.18" r="0.85" fill="#9a9a9a"/>
<circle cx="655.47" cy="638.87" r="0.85" fill="#9a9a9a"/>
<circle cx="655.68" cy="623.49" r="0.85" fill="#9a9a9a"/>
<circle cx="654.12" cy="625.83" r="0.85" fill="#9a9a9a"/>
<circle cx="649.86" cy="635.28" r="0.85" fill="#9a9a9a"/>
<circle cx="650.67" cy="651.54" r="0.85" fill="#9a9a9a"/>
<circle cx="654.85" cy="646.87" r="0.85" fill="#9a9a9a"/>
<circle cx="648.08" cy="648.44" r="0.85" fill="#9a9a9a"/>
<circle cx="657.23" cy="623.68" r="0.85" fill="#9a9a9a"/>
<circle cx="652.78" cy="622.16" r="0.85" fill="#9a9a9a"/>
<circle cx="654.82" cy="644.28" r="0.85" fill="#9a9a9a"/>
<circle cx="649.87" cy="654.72" r="0.85" fill="#9a9a9a"/>
<circle cx="649.13" cy="644.67" r="0.85" fill="#9a9a9a"/>
<circle cx="652.29" cy="630.15" r="0.85" fill="#9a9a9a"/>
<circle cx="651.39" cy="650.15" r="0.85" fill="#9a9a9a"/>
<circle cx="649.23" cy="654.04" r="0.85" fill="#9a9a9a"/>
<circle cx="654.70" cy="636.65" r="0.85" fill="#9a9a9a"/>
<circle cx="654.24" cy="628.53" r="0.85" fill="#9a9a9a"/>
<circle cx="650.41" cy="635.36" r="0.85" fill="#9a9a9a"/>
<circle cx="651.41" cy="638.28" r="0.85" fill="#9a9a9a"/>
<circle cx="650.22" cy="653.05" r="0.85" fill="#9a9a9a"/>
<circle cx="649.84" cy="635.98" r="0.85" fill="#9a9a9a"/>
<circle cx="648.22" cy="643.97" r="0.85" fill="#9a9a9a"/>
<circle cx="653.27" cy="650.68" r="0.85" fill="#9a9a9a"/>
<circle cx="652.83" cy="650.48" r="0.85" fill="#9a9a9a"/>
<circle cx="650.16" cy="626.60" r="0.85" fill="#9a9a9a"/>
<circle cx="649.15" cy="625.49" r="0.85" fill="#9a9a9a"/>
<circle cx="651.02" cy="653.16" r="0.85" fill="#9a9a9a"/>
<circle cx="655.13" cy="625.29" r="0.85" fill="#9a9a9a"/>
<circle cx="653.78" cy="637.47" r="0.85" fill="#9a9a9a"/>
<circle cx="649.65" cy="652.33" r="0.85" fill="#9a9a9a"/>
<circle cx="651.62" cy="637.49" r="0.85" fill="#9a9a9a"/>
<circle cx="649.80" cy="638.51" r="0.85" fill="#9a9a9a"/>
<circle cx="652.55" cy="642.17" r="0.85" fill="#9a9a9a"/>
<circle cx="652.18" cy="649.28" r="0.85" fill="#9a9a9a"/>
<circle cx="653.70" cy="625.56" r="0.85" fill="#9a9a9a"/>
<circle cx="651.63" cy="638.69" r="0.85" fill="#9a9a9a"/>
<circle cx="651.07" cy="623.01" r="0.85" fill="#9a9a9a"/>
<circle cx="652.22" cy="639.16" r="0.85" fill="#9a9a9a"/>
<circle cx="646.75" cy="632.04" r="0.85" fill="#9a9a9a"/>
<circle cx="650.98" cy="648.36" r="0.85" fill="#9a9a9a"/>
<circle cx="649.56" cy="647.12" r="0.85" fill="#9a9a9a"/>
<circle cx="649.04" cy="655.40" r="0.85" fill="#9a9a9a"/>
<circle cx="652.98" cy="646.14" r="0.85" fill="#9a9a9a"/>
<circle cx="656.28" cy="624.89" r="0.85" fill="#9a9a9a"/>
<circle cx="652.60" cy="648.20" r="0.85" fill="#9a9a9a"/>
<circle cx="652.41" cy="635.37" r="0.85" fill="#9a9a9a"/>
<circle cx="647.82" cy="654.29" r="0.85" fill="#9a9a9a"/>
<circle cx="645.29" cy="647.78" r="0.85" fill="#9a9a9a"/>
<circle cx="647.65" cy="655.04" r="0.85" fill="#9a9a9a"/>
<circle cx="649.02" cy="634.55" r="0.85" fill="#9a9a9a"/>
<circle cx="646.40" cy="644.36" r="0.85" fill="#9a9a9a"/>
<circle cx="642.72" cy="627.73" r="0.85" fill="#9a9a9a"/>
<circle cx="651.79" cy="656.12" r="0.85" fill="#9a9a9a"/>
<circle cx="647.78" cy="623.12" r="0.85" fill="#9a9a9a"/>
<circle cx="651.97" cy="653.37" r="0.85" fill="#9a9a9a"/>
<circle cx="650.62" cy="647.81" r="0.85" fill="#9a9a9a"/>
<circle cx="647.61" cy="651.13" r="0.85" fill="#9a9a9a"/>
<circle cx="652.23" cy="644.28" r="0.85" fill="#9a9a9a"/>
<circle cx="652.20" cy="648.70" r="0.85" fill="#9a9a9a"/>
<circle cx="660.22" cy="644.75" r="0.85" fill="#9a9a9a"/>
<circle cx="649.40" cy="628.40" r="0.85" fill="#9a9a9a"/>
<circle cx="645.80" cy="639.47" r="0.85" fill="#9a9a9a"/>
<circle cx="651.65" cy="624.26" r="0.85" fill="#9a9a9a"/>
<circle cx="649.73" cy="629.82" r="0.85" fill="#9a9a9a"/>
<circle cx="649.54" cy="634.31" r="0.85" fill="#9a9a9a"/>
<circle cx="651.89" cy="626.48" r="0.85" fill="#9a9a9a"/>
<circle cx="649.77" cy="631.03" r="0.85" fill="#9a9a9a"/>
<circle cx="654.81" cy="644.10" r="0.85" fill="#9a9a9a"/>
<circle cx="659.34" cy="632.62" r="0.85" fill="#9a9a9a"/>
<circle cx="656.13" cy="630.03" r="0.85" fill="#9a9a9a"/>
<circle cx="657.65" cy="623.23" r="0.85" fill="#9a9a9a"/>
<circle cx="651.27" cy="624.38" r="0.85" fill="#9a9a9a"/>
<circle cx="643.95" cy="628.02" r="0.85" fill="#9a9a9a"/>
<circle cx="645.45" cy="635.54" r="0.85" fill="#9a9a9a"/>
<circle cx="654.32" cy="628.65" r="0.85" fill="#9a9a9a"/>
<circle cx="648.29" cy="625.59" r="0.85" fill="#9a9a9a"/>
<circle cx="659.08" cy="637.63" r="0.85" fill="#9a9a9a"/>
<circle cx="660.10" cy="622.92" r="0.85" fill="#9a9a9a"/>
<circle cx="658.30" cy="628.54" r="0.85" fill="#9a9a9a"/>
<circle cx="651.95" cy="647.55" r="0.85" fill="#9a9a9a"/>
<circle cx="649.52" cy="649.47" r="0.85" fill="#9a9a9a"/>
<circle cx="651.46" cy="640.24" r="0.85" fill="#9a9a9a"/>
<circle cx="656.46" cy="624.26" r="0.85" fill="#9a9a9a"/>
<circle cx="650.45" cy="632.17" r="0.85" fill="#9a9a9a"/>
<circle cx="647.64" cy="628.67" r="0.85" fill="#9a9a9a"/>
<circle cx="647.59" cy="628.33" r="0.85" fill="#9a9a9a"/>
<circle cx="599.87" cy="626.92" r="0.85" fill="#9a9a9a"/>
<circle cx="680.60" cy="641.19" r="0.85" fill="#9a9a9a"/>
<circle cx="678.81" cy="626.57" r="0.85" fill="#9a9a9a"/>
<circle cx="627.84" cy="643.45" r="0.85" fill="#9a9a9a"/>
<circle cx="630.11" cy="628.04" r="0.85" fill="#9a9a9a"/>
<circle cx="652.83" cy="654.85" r="0.85" fill="#9a9a9a"/>
<circle cx="655.62" cy="651.24" r="0.85" fill="#9a9a9a"/>
<circle cx="626.61" cy="627.38" r="0.85" fill="#9a9a9a"/>
<circle cx="670.32" cy="639.45" r="0.85" fill="#9a9a9a"/>
<circle cx="660.16" cy="643.60" r="0.85" fill="#9a9a9a"/>
<circle cx="683.13" cy="626.29" r="0.85" fill="#9a9a9a"/>
<circle cx="654.88" cy="633.94" r="0.85" fill="#9a9a9a"/>
<circle cx="663.08" cy="645.79" r="0.85" fill="#9a9a9a"/>
<circle cx="623.97" cy="631.16" r="0.85" fill="#9a9a9a"/>
<circle cx="672.13" cy="627.56" r="0.85" fill="#9a9a9a"/>
<circle cx="653.79" cy="650.90" r="0.85" fill="#9a9a9a"/>
<circle cx="651.17" cy="627.02" r="0.85" fill="#9a9a9a"/>
<circle cx="650.55" cy="648.74" r="0.85" fill="#9a9a9a"/>
<circle cx="702.61" cy="642.68" r="0.85" fill="#9a9a9a"/>
<circle cx="672.85" cy="647.38" r="0.85" fill="#9a9a9a"/>
<circle cx="633.97" cy="624.61" r="0.85" fill="#9a9a9a"/>
<circle cx="608.88" cy="641.59" r="0.85" fill="#9a9a9a"/>
<circle cx="657.13" cy="637.77" r="0.85" fill="#9a9a9a"/>
<circle cx="679.80" cy="621.39" r="0.85" fill="#9a9a9a"/>
<circle cx="681.75" cy="649.48" r="0.85" fill="#9a9a9a"/>
<circle cx="670.45" cy="637.08" r="0.85" fill="#9a9a9a"/>
<circle cx="658.82" cy="622.87" r="0.85" fill="#9a9a9a"/>
<circle cx="662.41" cy="639.54" r="0.85" fill="#9a9a9a"/>
<circle cx="643.43" cy="643.02" r="0.85" fill="#9a9a9a"/>
<circle cx="629.39" cy="651.57" r="0.85" fill="#9a9a9a"/>
<circle cx="643.31" cy="637.53" r="0.85" fill="#9a9a9a"/>
<circle cx="692.34" cy="642.19" r="0.85" fill="#9a9a9a"/>
<circle cx="635.63" cy="632.35" r="0.85" fill="#9a9a9a"/>
<circle cx="645.00" cy="652.42" r="0.85" fill="#9a9a9a"/>
<circle cx="636.56" cy="622.43" r="0.85" fill="#9a9a9a"/>
<circle cx="642.58" cy="642.70" r="0.85" fill="#9a9a9a"/>
<circle cx="634.00" cy="642.22" r="0.85" fill="#9a9a9a"/>
<circle cx="636.31" cy="637.25" r="0.85" fill="#9a9a9a"/>
<circle cx="616.06" cy="638.06" r="0.85" fill="#9a9a9a"/>
<circle cx="662.74" cy="642.63" r="0.85" fill="#9a9a9a"/>
<circle cx="656.96" cy="626.62" r="0.85" fill="#9a9a9a"/>
<circle cx="632.96" cy="631.76" r="0.85" fill="#9a9a9a"/>
<circle cx="648.19" cy="629.46" r="0.85" fill="#9a9a9a"/>
<circle cx="652.38" cy="624.70" r="0.85" fill="#9a9a9a"/>
<circle cx="634.30" cy="653.81" r="0.85" fill="#9a9a9a"/>
<circle cx="685.08" cy="643.94" r="0.85" fill="#9a9a9a"/>
<circle cx="711.15" cy="624.69" r="0.85" fill="#9a9a9a"/>
<circle cx="639.25" cy="650.09" r="0.85" fill="#9a9a9a"/>
<circle cx="646.38" cy="653.41" r="0.85" fill="#9a9a9a"/>
<circle cx="656.12" cy="641.66" r="0.85" fill="#9a9a9a"/>
<circle cx="631.70" cy="645.45" r="0.85" fill="#9a9a9a"/>
<circle cx="649.80" cy="629.08" r="0.85" fill="#9a9a9a"/>
<circle cx="680.40" cy="640.70" r="0.85" fill="#9a9a9a"/>
<circle cx="627.12" cy="621.74" r="0.85" fill="#9a9a9a"/>
<circle cx="622.54" cy="632.00" r="0.85" fill="#9a9a9a"/>
<circle cx="685.37" cy="642.06" r="0.85" fill="#9a9a9a"/>
<circle cx="648.91" cy="631.51" r="0.85" fill="#9a9a9a"/>
<circle cx="667.80" cy="645.57" r="0.85" fill="#9a9a9a"/>
<circle cx="688.20" cy="626.92" r="0.85" fill="#9a9a9a"/>
<circle cx="649.90" cy="628.02" r="0.85" fill="#9a9a9a"/>
<circle cx="666.64" cy="637.46" r="0.85" fill="#9a9a9a"/>
<circle cx="682.37" cy="625.17" r="0.85" fill="#9a9a9a"/>
<circle cx="676.70" cy="649.20" r="0.85" fill="#9a9a9a"/>
<circle cx="670.23" cy="644.39" r="0.85" fill="#9a9a9a"/>
<circle cx="661.77" cy="641.98" r="0.85" fill="#9a9a9a"/>
<circle cx="677.26" cy="622.12" r="0.85" fill="#9a9a9a"/>
<circle cx="653.57" cy="644.48" r="0.85" fill="#9a9a9a"/>
<circle cx="667.06" cy="622.91" r="0.85" fill="#9a9a9a"/>
<circle cx="673.30" cy="640.10" r="0.85" fill="#9a9a9a"/>
<circle cx="654.54" cy="651.31" r="0.85" fill="#9a9a9a"/>
<circle cx="675.46" cy="641.89" r="0.85" fill="#9a9a9a"/>
<circle cx="656.76" cy="622.24" r="0.85" fill="#9a9a9a"/>
<circle cx="677.68" cy="624.10" r="0.85" fill="#9a9a9a"/>
<circle cx="671.70" cy="639.69" r="0.85" fill="#9a9a9a"/>
<circle cx="626.48" cy="628.53" r="0.85" fill="#9a9a9a"/>
<circle cx="673.41" cy="644.30" r="0.85" fill="#9a9a9a"/>
<circle cx="684.99" cy="639.01" r="0.85" fill="#9a9a9a"/>
<circle cx="639.60" cy="636.00" r="0.85" fill="#9a9a9a"/>
<circle cx="631.21" cy="645.64" r="0.85" fill="#9a9a9a"/>
<circle cx="676.21" cy="642.67" r="0.85" fill="#9a9a9a"/>
<circle cx="645.70" cy="645.20" r="0.85" fill="#9a9a9a"/>
<circle cx="655.07" cy="633.57" r="0.85" fill="#9a9a9a"/>
<circle cx="677.02" cy="653.59" r="0.85" fill="#9a9a9a"/>
<circle cx="635.35" cy="626.89" r="0.85" fill="#9a9a9a"/>
<circle cx="647.80" cy="623.04" r="0.85" fill="#9a9a9a"/>
<circle cx="656.33" cy="645.97" r="0.85" fill="#9a9a9a"/>
<circle cx="665.51" cy="636.35" r="0.85" fill="#9a9a9a"/>
<circle cx="646.49" cy="629.37" r="0.85" fill="#9a9a9a"/>
<circle cx="633.60" cy="627.54" r="0.85" fill="#9a9a9a"/>
<circle cx="648.39" cy="651.22" r="0.85" fill="#9a9a9a"/>
<circle cx="698.50" cy="622.11" r="0.85" fill="#9a9a9a"/>
<circle cx="643.14" cy="633.45" r="0.85" fill="#9a9a9a"/>
<circle cx="625.77" cy="641.59" r="0.85" fill="#9a9a9a"/>
<circle cx="657.51" cy="623.03" r="0.85" fill="#9a9a9a"/>
<circle cx="639.15" cy="641.65" r="0.85" fill="#9a9a9a"/>
<circle cx="648.26" cy="627.61" r="0.85" fill="#9a9a9a"/>
<circle cx="672.86" cy="625.36" r="0.85" fill="#9a9a9a"/>
<circle cx="625.31" cy="636.92" r="0.85" fill="#9a9a9a"/>
<circle cx="653.03" cy="624.35" r="0.85" fill="#9a9a9a"/>
<circle cx="652.72" cy="650.46" r="0.85" fill="#9a9a9a"/>
<circle cx="662.75" cy="640.95" r="0.85" fill="#9a9a9a"/>
<circle cx="675.67" cy="637.93" r="0.85" fill="#9a9a9a"/>
<circle cx="630.65" cy="635.35" r="0.85" fill="#9a9a9a"/>
<circle cx="642.83" cy="641.27" r="0.85" fill="#9a9a9a"/>
<circle cx="648.65" cy="626.28" r="0.85" fill="#9a9a9a"/>
<circle cx="666.06" cy="628.19" r="0.85" fill="#9a9a9a"/>
<circle cx="645.97" cy="632.17" r="0.85" fill="#9a9a9a"/>
<circle cx="603.33" cy="629.36" r="0.85" fill="#9a9a9a"/>
<circle cx="658.38" cy="624.44" r="0.85" fill="#9a9a9a"/>
<circle cx="673.81" cy="629.74" r="0.85" fill="#9a9a9a"/>
<circle cx="622.21" cy="625.13" r="0.85" fill="#9a9a9a"/>
<circle cx="649.15" cy="650.54" r="0.85" fill="#9a9a9a"/>
<circle cx="623.02" cy="634.18" r="0.85" fill="#9a9a9a"/>
<circle cx="677.12" cy="645.65" r="0.85" fill="#9a9a9a"/>
<circle cx="673.28" cy="626.98" r="0.85" fill="#9a9a9a"/>
<circle cx="658.86" cy="645.72" r="0.85" fill="#9a9a9a"/>
<circle cx="664.86" cy="651.81" r="0.85" fill="#9a9a9a"/>
<circle cx="700.66" cy="632.02" r="0.85" fill="#9a9a9a"/>
<circle cx="651.20" cy="642.77" r="0.85" fill="#9a9a9a"/>
<circle cx="700.01" cy="631.22" r="0.85" fill="#9a9a9a"/>
<circle cx="671.24" cy="643.95" r="0.85" fill="#9a9a9a"/>
<circle cx="650.48" cy="654.88" r="0.85" fill="#9a9a9a"/>
<circle cx="649.38" cy="645.65" r="0.85" fill="#9a9a9a"/>
<circle cx="639.57" cy="652.99" r="0.85" fill="#9a9a9a"/>
<circle cx="669.53" cy="627.55" r="0.85" fill="#9a9a9a"/>
<circle cx="658.03" cy="653.65" r="0.85" fill="#9a9a9a"/>
<circle cx="649.03" cy="647.37" r="0.85" fill="#9a9a9a"/>
<circle cx="646.30" cy="633.60" r="0.85" fill="#9a9a9a"/>
<circle cx="674.10" cy="635.67" r="0.85" fill="#9a9a9a"/>
<circle cx="658.81" cy="647.59" r="0.85" fill="#9a9a9a"/>
<circle cx="640.48" cy="626.46" r="0.85" fill="#9a9a9a"/>
<circle cx="651.80" cy="627.50" r="0.85" fill="#9a9a9a"/>
<circle cx="656.62" cy="628.54" r="0.85" fill="#9a9a9a"/>
<circle cx="641.98" cy="654.04" r="0.85" fill="#9a9a9a"/>
<circle cx="654.85" cy="652.86" r="0.85" fill="#9a9a9a"/>
<circle cx="652.59" cy="633.58" r="0.85" fill="#9a9a9a"/>
<circle cx="631.46" cy="641.40" r="0.85" fill="#9a9a9a"/>
<circle cx="644.15" cy="637.59" r="0.85" fill="#9a9a9a"/>
<circle cx="648.00" cy="625.50" r="0.85" fill="#9a9a9a"/>
<circle cx="684.46" cy="621.15" r="0.85" fill="#9a9a9a"/>
<circle cx="613.21" cy="643.80" r="0.85" fill="#9a9a9a"/>
<circle cx="689.51" cy="621.47" r="0.85" fill="#9a9a9a"/>
<circle cx="662.66" cy="650.45" r="0.85" fill="#9a9a9a"/>
<circle cx="643.81" cy="639.57" r="0.85" fill="#9a9a9a"/>
<circle cx="627.92" cy="639.54" r="0.85" fill="#9a9a9a"/>
<circle cx="663.16" cy="643.38" r="0.85" fill="#9a9a9a"/>
<circle cx="672.26" cy="645.39" r="0.85" fill="#9a9a9a"/>
<circle cx="654.14" cy="648.40" r="0.85" fill="#9a9a9a"/>
<circle cx="632.87" cy="640.09" r="0.85" fill="#9a9a9a"/>
<circle cx="652.84" cy="648.28" r="0.85" fill="#9a9a9a"/>
<circle cx="645.42" cy="645.97" r="0.85" fill="#9a9a9a"/>
<circle cx="639.33" cy="635.95" r="0.85" fill="#9a9a9a"/>
<circle cx="592.75" cy="629.58" r="0.85" fill="#9a9a9a"/>
<circle cx="699.58" cy="622.76" r="0.85" fill="#9a9a9a"/>
<circle cx="638.62" cy="630.54" r="0.85" fill="#9a9a9a"/>
<circle cx="655.84" cy="652.87" r="0.85" fill="#9a9a9a"/>
<circle cx="662.74" cy="625.64" r="0.85" fill="#9a9a9a"/>
<circle cx="644.51" cy="630.45" r="0.85" fill="#9a9a9a"/>
<circle cx="645.91" cy="642.92" r="0.85" fill="#9a9a9a"/>
<circle cx="624.55" cy="649.44" r="0.85" fill="#9a9a9a"/>
<circle cx="616.32" cy="644.60" r="0.85" fill="#9a9a9a"/>
<circle cx="660.61" cy="653.50" r="0.85" fill="#9a9a9a"/>
<circle cx="682.14" cy="624.43" r="0.85" fill="#9a9a9a"/>
<circle cx="646.41" cy="627.65" r="0.85" fill="#9a9a9a"/>
<circle cx="657.23" cy="651.37" r="0.85" fill="#9a9a9a"/>
<circle cx="658.48" cy="649.77" r="0.85" fill="#9a9a9a"/>
<circle cx="625.79" cy="621.32" r="0.85" fill="#9a9a9a"/>
<circle cx="667.61" cy="624.00" r="0.85" fill="#9a9a9a"/>
<circle cx="629.01" cy="627.06" r="0.85" fill="#9a9a9a"/>
<circle cx="669.79" cy="650.64" r="0.85" fill="#9a9a9a"/>
<circle cx="674.23" cy="637.73" r="0.85" fill="#9a9a9a"/>
<circle cx="655.80" cy="647.88" r="0.85" fill="#9a9a9a"/>
<circle cx="664.51" cy="624.10" r="0.85" fill="#9a9a9a"/>
<circle cx="723.35" cy="630.85" r="0.85" fill="#9a9a9a"/>
<circle cx="637.96" cy="640.15" r="0.85" fill="#9a9a9a"/>
<circle cx="623.56" cy="630.10" r="0.85" fill="#9a9a9a"/>
<circle cx="691.38" cy="626.39" r="0.85" fill="#9a9a9a"/>
<circle cx="665.50" cy="650.45" r="0.85" fill="#9a9a9a"/>
<circle cx="658.61" cy="635.10" r="0.85" fill="#9a9a9a"/>
<circle cx="691.91" cy="642.12" r="0.85" fill="#9a9a9a"/>
<circle cx="660.97" cy="628.27" r="0.85" fill="#9a9a9a"/>
<circle cx="697.95" cy="639.23" r="0.85" fill="#9a9a9a"/>
<circle cx="669.30" cy="636.84" r="0.85" fill="#9a9a9a"/>
<circle cx="647.02" cy="652.59" r="0.85" fill="#9a9a9a"/>
<circle cx="693.56" cy="624.90" r="0.85" fill="#9a9a9a"/>
<circle cx="647.94" cy="638.53" r="0.85" fill="#9a9a9a"/>
<circle cx="647.43" cy="646.72" r="0.85" fill="#9a9a9a"/>
<circle cx="648.81" cy="624.20" r="0.85" fill="#9a9a9a"/>
<circle cx="664.50" cy="634.90" r="0.85" fill="#9a9a9a"/>
<circle cx="660.38" cy="650.71" r="0.85" fill="#9a9a9a"/>
<circle cx="681.01" cy="635.09" r="0.85" fill="#9a9a9a"/>
<circle cx="650.81" cy="633.36" r="0.85" fill="#9a9a9a"/>
<circle cx="641.56" cy="652.70" r="0.85" fill="#9a9a9a"/>
<circle cx="684.55" cy="630.37" r="0.85" fill="#9a9a9a"/>
<circle cx="663.78" cy="641.39" r="0.85" fill="#9a9a9a"/>
<circle cx="653.66" cy="632.12" r="0.85" fill="#9a9a9a"/>
<circle cx="640.51" cy="632.92" r="0.85" fill="#9a9a9a"/>
<circle cx="644.46" cy="631.47" r="0.85" fill="#9a9a9a"/>
<circle cx="661.41" cy="624.09" r="0.85" fill="#9a9a9a"/>
<circle cx="672.93" cy="634.63" r="0.85" fill="#9a9a9a"/>
<circle cx="667.39" cy="621.45" r="0.85" fill="#9a9a9a"/>
<circle cx="633.78" cy="647.22" r="0.85" fill="#9a9a9a"/>
<circle cx="687.89" cy="626.99" r="0.85" fill="#9a9a9a"/>
<circle cx="657.19" cy="633.45" r="0.85" fill="#9a9a9a"/>
<circle cx="651.56" cy="651.81" r="0.85" fill="#9a9a9a"/>
<circle cx="661.58" cy="621.81" r="0.85" fill="#9a9a9a"/>
<circle cx="651.80" cy="653.34" r="0.85" fill="#9a9a9a"/>
<circle cx="666.39" cy="646.82" r="0.85" fill="#9a9a9a"/>
<circle cx="650.53" cy="632.16" r="0.85" fill="#9a9a9a"/>
<circle cx="617.19" cy="623.37" r="0.85" fill="#9a9a9a"/>
<circle cx="627.33" cy="646.06" r="0.85" fill="#9a9a9a"/>
<circle cx="680.29" cy="649.78" r="0.85" fill="#9a9a9a"/>
<circle cx="658.08" cy="651.47" r="0.85" fill="#9a9a9a"/>
<circle cx="654.17" cy="621.91" r="0.85" fill="#9a9a9a"/>
<circle cx="641.70" cy="627.56" r="0.85" fill="#9a9a9a"/>
<circle cx="648.61" cy="649.46" r="0.85" fill="#9a9a9a"/>
<circle cx="657.21" cy="628.24" r="0.85" fill="#9a9a9a"/>
<circle cx="660.19" cy="624.75" r="0.85" fill="#9a9a9a"/>
<circle cx="657.48" cy="626.05" r="0.85" fill="#9a9a9a"/>
<circle cx="668.49" cy="636.10" r="0.85" fill="#9a9a9a"/>
<circle cx="674.89" cy="633.40" r="0.85" fill="#9a9a9a"/>
<circle cx="686.37" cy="634.16" r="0.85" fill="#9a9a9a"/>
<circle cx="681.69" cy="650.37" r="0.85" fill="#9a9a9a"/>
<circle cx="682.72" cy="635.64" r="0.85" fill="#9a9a9a"/>
<circle cx="689.90" cy="651.77" r="0.85" fill="#9a9a9a"/>
<circle cx="704.96" cy="629.65" r="0.85" fill="#9a9a9a"/>
<circle cx="688.70" cy="627.65" r="0.85" fill="#9a9a9a"/>
<circle cx="694.04" cy="638.26" r="0.85" fill="#9a9a9a"/>
<circle cx="691.70" cy="645.79" r="0.85" fill="#9a9a9a"/>
<circle cx="702.91" cy="639.13" r="0.85" fill="#9a9a9a"/>
<circle cx="701.33" cy="635.62" r="0.85" fill="#9a9a9a"/>
<circle cx="695.61" cy="641.42" r="0.85" fill="#9a9a9a"/>
<circle cx="695.71" cy="626.51" r="0.85" fill="#9a9a9a"/>
<circle cx="694.23" cy="626.55" r="0.85" fill="#9a9a9a"/>
<circle cx="689.06" cy="642.92" r="0.85" fill="#9a9a9a"/>
<circle cx="694.17" cy="629.13" r="0.85" fill="#9a9a9a"/>
<circle cx="698.94" cy="622.64" r="0.85" fill="#9a9a9a"/>
<circle cx="689.72" cy="628.94" r="0.85" fill="#9a9a9a"/>
<circle cx="684.34" cy="648.59" r="0.85" fill="#9a9a9a"/>
<circle cx="675.37" cy="631.23" r="0.85" fill="#9a9a9a"/>
<circle cx="678.76" cy="638.33" r="0.85" fill="#9a9a9a"/>
<circle cx="675.46" cy="639.78" r="0.85" fill="#9a9a9a"/>
<circle cx="675.15" cy="624.51" r="0.85" fill="#9a9a9a"/>
<circle cx="692.09" cy="630.02" r="0.85" fill="#9a9a9a"/>
<circle cx="662.36" cy="626.88" r="0.85" fill="#9a9a9a"/>
<circle cx="700.71" cy="630.50" r="0.85" fill="#9a9a9a"/>
<circle cx="688.91" cy="626.50" r="0.85" fill="#9a9a9a"/>
<circle cx="688.76" cy="639.08" r="0.85" fill="#9a9a9a"/>
<circle cx="680.80" cy="623.72" r="0.85" fill="#9a9a9a"/>
<circle cx="683.10" cy="638.75" r="0.85" fill="#9a9a9a"/>
<circle cx="678.87" cy="642.98" r="0.85" fill="#9a9a9a"/>
<circle cx="683.07" cy="641.55" r="0.85" fill="#9a9a9a"/>
<circle cx="688.33" cy="638.71" r="0.85" fill="#9a9a9a"/>
<circle cx="670.32" cy="622.57" r="0.85" fill="#9a9a9a"/>
<circle cx="665.32" cy="629.13" r="0.85" fill="#9a9a9a"/>
<circle cx="704.08" cy="626.90" r="0.85" fill="#9a9a9a"/>
<circle cx="684.09" cy="643.77" r="0.85" fill="#9a9a9a"/>
<circle cx="683.19" cy="644.51" r="0.85" fill="#9a9a9a"/>
<circle cx="685.26" cy="645.08" r="0.85" fill="#9a9a9a"/>
<circle cx="694.65" cy="625.41" r="0.85" fill="#9a9a9a"/>
<circle cx="681.02" cy="628.89" r="0.85" fill="#9a9a9a"/>
<circle cx="700.14" cy="628.75" r="0.85" fill="#9a9a9a"/>
<circle cx="674.62" cy="636.04" r="0.85" fill="#9a9a9a"/>
<circle cx="686.84" cy="648.85" r="0.85" fill="#9a9a9a"/>
<circle cx="677.72" cy="633.19" r="0.85" fill="#9a9a9a"/>
<circle cx="664.02" cy="640.99" r="0.85" fill="#9a9a9a"/>
<circle cx="680.12" cy="647.17" r="0.85" fill="#9a9a9a"/>
<circle cx="678.34" cy="636.07" r="0.85" fill="#9a9a9a"/>
<circle cx="674.18" cy="623.86" r="0.85" fill="#9a9a9a"/>
<circle cx="695.89" cy="639.77" r="0.85" fill="#9a9a9a"/>
<circle cx="676.62" cy="622.98" r="0.85" fill="#9a9a9a"/>
<circle cx="685.44" cy="649.31" r="0.85" fill="#9a9a9a"/>
<circle cx="694.97" cy="624.80" r="0.85" fill="#9a9a9a"/>
<circle cx="683.41" cy="651.59" r="0.85" fill="#9a9a9a"/>
<circle cx="704.88" cy="622.31" r="0.85" fill="#9a9a9a"/>
<circle cx="674.40" cy="646.71" r="0.85" fill="#9a9a9a"/>
<circle cx="691.25" cy="631.28" r="0.85" fill="#9a9a9a"/>
<circle cx="685.65" cy="629.62" r="0.85" fill="#9a9a9a"/>
<circle cx="678.81" cy="644.29" r="0.85" fill="#9a9a9a"/>
<circle cx="682.53" cy="651.17" r="0.85" fill="#9a9a9a"/>
<circle cx="679.69" cy="644.21" r="0.85" fill="#9a9a9a"/>
<circle cx="676.13" cy="623.07" r="0.85" fill="#9a9a9a"/>
<circle cx="674.90" cy="632.32" r="0.85" fill="#9a9a9a"/>
<circle cx="682.43" cy="634.06" r="0.85" fill="#9a9a9a"/>
<circle cx="679.02" cy="650.08" r="0.85" fill="#9a9a9a"/>
<circle cx="690.17" cy="649.99" r="0.85" fill="#9a9a9a"/>
<circle cx="684.88" cy="647.73" r="0.85" fill="#9a9a9a"/>
<circle cx="666.60" cy="648.61" r="0.85" fill="#9a9a9a"/>
<circle cx="686.44" cy="631.37" r="0.85" fill="#9a9a9a"/>
<circle cx="685.13" cy="643.80" r="0.85" fill="#9a9a9a"/>
<circle cx="680.10" cy="649.00" r="0.85" fill="#9a9a9a"/>
<circle cx="674.55" cy="642.91" r="0.85" fill="#9a9a9a"/>
<circle cx="692.07" cy="638.65" r="0.85" fill="#9a9a9a"/>
<circle cx="705.37" cy="630.15" r="0.85" fill="#9a9a9a"/>
<circle cx="695.18" cy="641.73" r="0.85" fill="#9a9a9a"/>
<circle cx="705.94" cy="627.03" r="0.85" fill="#9a9a9a"/>
<circle cx="687.10" cy="645.21" r="0.85" fill="#9a9a9a"/>
<circle cx="691.12" cy="626.35" r="0.85" fill="#9a9a9a"/>
<circle cx="673.75" cy="643.67" r="0.85" fill="#9a9a9a"/>
<circle cx="688.86" cy="651.71" r="0.85" fill="#9a9a9a"/>
<circle cx="698.33" cy="647.26" r="0.85" fill="#9a9a9a"/>
<circle cx="672.80" cy="632.22" r="0.85" fill="#9a9a9a"/>
<circle cx="678.94" cy="646.58" r="0.85" fill="#9a9a9a"/>
<circle cx="700.31" cy="647.69" r="0.85" fill="#9a9a9a"/>
<circle cx="698.31" cy="640.51" r="0.85" fill="#9a9a9a"/>
<circle cx="678.92" cy="632.43" r="0.85" fill="#9a9a9a"/>
<circle cx="682.21" cy="650.06" r="0.85" fill="#9a9a9a"/>
<circle cx="685.96" cy="651.56" r="0.85" fill="#9a9a9a"/>
<circle cx="680.95" cy="623.11" r="0.85" fill="#9a9a9a"/>
<circle cx="683.96" cy="641.09" r="0.85" fill="#9a9a9a"/>
<circle cx="679.81" cy="628.36" r="0.85" fill="#9a9a9a"/>
<circle cx="678.41" cy="644.45" r="0.85" fill="#9a9a9a"/>
<circle cx="690.27" cy="648.66" r="0.85" fill="#9a9a9a"/>
<circle cx="686.24" cy="644.55" r="0.85" fill="#9a9a9a"/>
<circle cx="678.25" cy="640.58" r="0.85" fill="#9a9a9a"/>
<circle cx="686.66" cy="629.06" r="0.85" fill="#9a9a9a"/>
<circle cx="689.18" cy="645.43" r="0.85" fill="#9a9a9a"/>
<circle cx="676.88" cy="640.47" r="0.85" fill="#9a9a9a"/>
<circle cx="694.41" cy="637.85" r="0.85" fill="#9a9a9a"/>
<circle cx="701.47" cy="625.91" r="0.85" fill="#9a9a9a"/>
<circle cx="690.75" cy="626.91" r="0.85" fill="#9a9a9a"/>
<circle cx="692.29" cy="644.96" r="0.85" fill="#9a9a9a"/>
<circle cx="685.55" cy="648.52" r="0.85" fill="#9a9a9a"/>
<circle cx="683.99" cy="638.20" r="0.85" fill="#9a9a9a"/>
<circle cx="681.35" cy="648.47" r="0.85" fill="#9a9a9a"/>
<circle cx="687.92" cy="637.61" r="0.85" fill="#9a9a9a"/>
<circle cx="690.44" cy="638.79" r="0.85" fill="#9a9a9a"/>
<circle cx="690.02" cy="648.45" r="0.85" fill="#9a9a9a"/>
<circle cx="688.39" cy="637.92" r="0.85" fill="#9a9a9a"/>
<circle cx="681.66" cy="623.90" r="0.85" fill="#9a9a9a"/>
<circle cx="589.70" cy="635.50" r="0.85" fill="#9a9a9a"/>
<circle cx="600.00" cy="621.50" r="0.85" fill="#9a9a9a"/>
<circle cx="601.00" cy="633.00" r="0.85" fill="#9a9a9a"/>
<circle cx="613.00" cy="622.00" r="0.85" fill="#9a9a9a"/>
<circle cx="612.00" cy="627.00" r="0.85" fill="#9a9a9a"/>
<circle cx="603.00" cy="624.00" r="0.85" fill="#9a9a9a"/>
<circle cx="720.00" cy="622.00" r="0.85" fill="#9a9a9a"/>
<circle cx="716.00" cy="648.00" r="0.85" fill="#9a9a9a"/>
<circle cx="718.00" cy="633.00" r="0.85" fill="#9a9a9a"/>
<circle cx="713.00" cy="626.00" r="0.85" fill="#9a9a9a"/>
<circle cx="643.90" cy="606.50" r="0.95" fill="#3b6fd6"/>
<circle cx="623.00" cy="615.50" r="0.95" fill="#3b6fd6"/>
<circle cx="647.00" cy="619.00" r="0.95" fill="#3b6fd6"/>
<circle cx="648.00" cy="621.00" r="0.95" fill="#3b6fd6"/>
<circle cx="686.20" cy="516.90" r="1.0" fill="#e41a1c"/>
<circle cx="656.90" cy="532.20" r="1.0" fill="#e41a1c"/>
<circle cx="658.60" cy="550.60" r="1.0" fill="#e41a1c"/>
<circle cx="654.70" cy="557.90" r="1.0" fill="#e41a1c"/>
<circle cx="669.30" cy="566.20" r="1.0" fill="#e41a1c"/>
<circle cx="666.60" cy="572.80" r="1.0" fill="#e41a1c"/>
<circle cx="680.30" cy="571.90" r="1.0" fill="#e41a1c"/>
<circle cx="668.80" cy="578.90" r="1.0" fill="#e41a1c"/>
<circle cx="654.20" cy="585.20" r="1.0" fill="#e41a1c"/>
<circle cx="654.60" cy="588.80" r="1.0" fill="#e41a1c"/>
<circle cx="660.10" cy="587.50" r="1.0" fill="#e41a1c"/>
<circle cx="667.90" cy="589.90" r="1.0" fill="#e41a1c"/>
<circle cx="687.60" cy="587.00" r="1.0" fill="#e41a1c"/>
<circle cx="700.00" cy="588.40" r="1.0" fill="#e41a1c"/>
<circle cx="656.00" cy="596.80" r="1.0" fill="#e41a1c"/>
<circle cx="662.70" cy="594.60" r="1.0" fill="#e41a1c"/>
<circle cx="681.20" cy="598.20" r="1.0" fill="#e41a1c"/>
<circle cx="693.30" cy="597.80" r="1.0" fill="#e41a1c"/>
<circle cx="703.60" cy="596.40" r="1.0" fill="#e41a1c"/>
<circle cx="656.00" cy="603.50" r="1.0" fill="#e41a1c"/>
<circle cx="664.90" cy="602.60" r="1.0" fill="#e41a1c"/>
<circle cx="668.80" cy="606.20" r="1.0" fill="#e41a1c"/>
<circle cx="671.60" cy="605.80" r="1.0" fill="#e41a1c"/>
<circle cx="673.40" cy="605.80" r="1.0" fill="#e41a1c"/>
<circle cx="678.20" cy="602.60" r="1.0" fill="#e41a1c"/>
<circle cx="680.00" cy="603.20" r="1.0" fill="#e41a1c"/>
<circle cx="677.60" cy="605.30" r="1.0" fill="#e41a1c"/>
<circle cx="682.60" cy="604.80" r="1.0" fill="#e41a1c"/>
<circle cx="690.60" cy="602.60" r="1.0" fill="#e41a1c"/>
<circle cx="687.90" cy="605.80" r="1.0" fill="#e41a1c"/>
<circle cx="702.10" cy="604.40" r="1.0" fill="#e41a1c"/>
<circle cx="705.70" cy="602.60" r="1.0" fill="#e41a1c"/>
<circle cx="709.20" cy="603.50" r="1.0" fill="#e41a1c"/>
<circle cx="685.80" cy="610.60" r="1.0" fill="#e41a1c"/>
<circle cx="685.80" cy="613.30" r="1.0" fill="#e41a1c"/>
<circle cx="654.20" cy="609.70" r="1.0" fill="#e41a1c"/>
<circle cx="655.60" cy="609.40" r="1.0" fill="#e41a1c"/>
<circle cx="655.10" cy="613.30" r="1.0" fill="#e41a1c"/>
<circle cx="652.10" cy="616.00" r="1.0" fill="#e41a1c"/>
<circle cx="653.30" cy="617.70" r="1.0" fill="#e41a1c"/>
<circle cx="656.90" cy="616.00" r="1.0" fill="#e41a1c"/>
<circle cx="665.70" cy="613.30" r="1.0" fill="#e41a1c"/>
<circle cx="666.60" cy="615.00" r="1.0" fill="#e41a1c"/>
<circle cx="669.30" cy="616.00" r="1.0" fill="#e41a1c"/>
<circle cx="668.40" cy="617.20" r="1.0" fill="#e41a1c"/>
<circle cx="676.40" cy="614.20" r="1.0" fill="#e41a1c"/>
<circle cx="678.20" cy="615.10" r="1.0" fill="#e41a1c"/>
<circle cx="676.40" cy="617.70" r="1.0" fill="#e41a1c"/>
<circle cx="680.00" cy="616.00" r="1.0" fill="#e41a1c"/>
<circle cx="697.70" cy="614.20" r="1.0" fill="#e41a1c"/>
<circle cx="699.50" cy="614.20" r="1.0" fill="#e41a1c"/>
<circle cx="701.20" cy="615.10" r="1.0" fill="#e41a1c"/>
<circle cx="703.00" cy="613.60" r="1.0" fill="#e41a1c"/>
<circle cx="699.50" cy="616.80" r="1.0" fill="#e41a1c"/>
<circle cx="703.90" cy="617.70" r="1.0" fill="#e41a1c"/>
<circle cx="706.60" cy="619.50" r="1.0" fill="#e41a1c"/>
<circle cx="711.00" cy="613.60" r="1.0" fill="#e41a1c"/>
<circle cx="718.60" cy="612.40" r="1.0" fill="#e41a1c"/>
<circle cx="652.00" cy="619.00" r="1.0" fill="#e41a1c"/>
<circle cx="654.00" cy="620.00" r="1.0" fill="#e41a1c"/>
<circle cx="657.00" cy="619.00" r="1.0" fill="#e41a1c"/>
<circle cx="651.50" cy="614.00" r="1.0" fill="#e41a1c"/>
<circle cx="658.00" cy="612.00" r="1.0" fill="#e41a1c"/>
<circle cx="653.00" cy="608.00" r="1.0" fill="#e41a1c"/>
<circle cx="655.00" cy="606.00" r="1.0" fill="#e41a1c"/>
<circle cx="652.50" cy="611.00" r="1.0" fill="#e41a1c"/>
<circle cx="656.50" cy="614.00" r="1.0" fill="#e41a1c"/>
<circle cx="659.00" cy="617.00" r="1.0" fill="#e41a1c"/>
<circle cx="657.50" cy="610.00" r="1.0" fill="#e41a1c"/>
<circle cx="651.00" cy="617.50" r="1.0" fill="#e41a1c"/>
<circle cx="654.50" cy="615.00" r="1.0" fill="#e41a1c"/>
<rect x="582.50" y="510.60" width="143.20" height="152.80" fill="none" stroke="#6a6a6a" stroke-width="1.1" />
<line x1="581.00" y1="517.00" x2="582.50" y2="517.00" stroke="#555" stroke-width="0.5" />
<text x="580.30" y="518.00" font-size="2.8" text-anchor="end" fill="#555"  stroke="#555" stroke-width="0.07">5</text>
<line x1="581.00" y1="544.80" x2="582.50" y2="544.80" stroke="#555" stroke-width="0.5" />
<text x="580.30" y="545.80" font-size="2.8" text-anchor="end" fill="#555"  stroke="#555" stroke-width="0.07">4</text>
<line x1="581.00" y1="572.90" x2="582.50" y2="572.90" stroke="#555" stroke-width="0.5" />
<text x="580.30" y="573.90" font-size="2.8" text-anchor="end" fill="#555"  stroke="#555" stroke-width="0.07">3</text>
<line x1="581.00" y1="601.00" x2="582.50" y2="601.00" stroke="#555" stroke-width="0.5" />
<text x="580.30" y="602.00" font-size="2.8" text-anchor="end" fill="#555"  stroke="#555" stroke-width="0.07">2</text>
<line x1="581.00" y1="628.80" x2="582.50" y2="628.80" stroke="#555" stroke-width="0.5" />
<text x="580.30" y="629.80" font-size="2.8" text-anchor="end" fill="#555"  stroke="#555" stroke-width="0.07">1</text>
<line x1="581.00" y1="656.40" x2="582.50" y2="656.40" stroke="#555" stroke-width="0.5" />
<text x="580.30" y="657.40" font-size="2.8" text-anchor="end" fill="#555"  stroke="#555" stroke-width="0.07">0</text>
<line x1="592.20" y1="663.40" x2="592.20" y2="664.90" stroke="#555" stroke-width="0.5" />
<text x="592.20" y="667.20" font-size="2.8" text-anchor="middle" fill="#555"  stroke="#555" stroke-width="0.07">-20</text>
<line x1="621.00" y1="663.40" x2="621.00" y2="664.90" stroke="#555" stroke-width="0.5" />
<text x="621.00" y="667.20" font-size="2.8" text-anchor="middle" fill="#555"  stroke="#555" stroke-width="0.07">-10</text>
<line x1="649.60" y1="663.40" x2="649.60" y2="664.90" stroke="#555" stroke-width="0.5" />
<text x="649.60" y="667.20" font-size="2.8" text-anchor="middle" fill="#555"  stroke="#555" stroke-width="0.07">0</text>
<line x1="678.50" y1="663.40" x2="678.50" y2="664.90" stroke="#555" stroke-width="0.5" />
<text x="678.50" y="667.20" font-size="2.8" text-anchor="middle" fill="#555"  stroke="#555" stroke-width="0.07">10</text>
<line x1="707.00" y1="663.40" x2="707.00" y2="664.90" stroke="#555" stroke-width="0.5" />
<text x="707.00" y="667.20" font-size="2.8" text-anchor="middle" fill="#555"  stroke="#555" stroke-width="0.07">20</text>
<text x="664.00" y="672.80" font-size="3.65" text-anchor="middle" fill="#1a1a1a" stroke="#1a1a1a" stroke-width="0.12">log2(Fold Change)</text>
<text x="575.00" y="585.50" font-size="3.5" text-anchor="middle" fill="#1a1a1a" stroke="#1a1a1a" stroke-width="0.12" transform="rotate(-90 575.00 585.50)" dy="1.2">-log10(P-value)</text>
<text x="731.00" y="566.90" font-size="3.6" text-anchor="start" fill="#222" stroke="#222" stroke-width="0.08">regulated</text>
<circle cx="733.60" cy="571.20" r="0.8" fill="#e41a1c"/>
<text x="737.20" y="572.20" font-size="3.0" text-anchor="start" fill="#555" stroke="none">up:77</text>
<circle cx="733.60" cy="577.20" r="0.8" fill="#3b6fd6"/>
<text x="737.20" y="578.20" font-size="3.0" text-anchor="start" fill="#555" stroke="none">down:4</text>
<circle cx="733.60" cy="583.20" r="0.8" fill="#8c8c8c"/>
<text x="737.20" y="584.20" font-size="3.0" text-anchor="start" fill="#555" stroke="none">unchanged:588</text>
<text x="731.00" y="596.40" font-size="3.6" text-anchor="start" fill="#222" stroke="#222" stroke-width="0.08">VIP</text>
<circle cx="733.60" cy="601.10" r="0.7" fill="#333"/>
<text x="737.20" y="602.10" font-size="3.0" text-anchor="start" fill="#555" stroke="none">0.0</text>
<circle cx="733.60" cy="606.60" r="1.1" fill="#111"/>
<text x="737.20" y="607.60" font-size="3.0" text-anchor="start" fill="#555" stroke="none">1.0</text>
<text x="568.4" y="511.0" font-family="Liberation Serif, serif" font-weight="bold" font-size="11.6" fill="#000" stroke="#000" stroke-width="0.3" textLength="6.8" lengthAdjust="spacingAndGlyphs">H</text>
</svg></body></html>
